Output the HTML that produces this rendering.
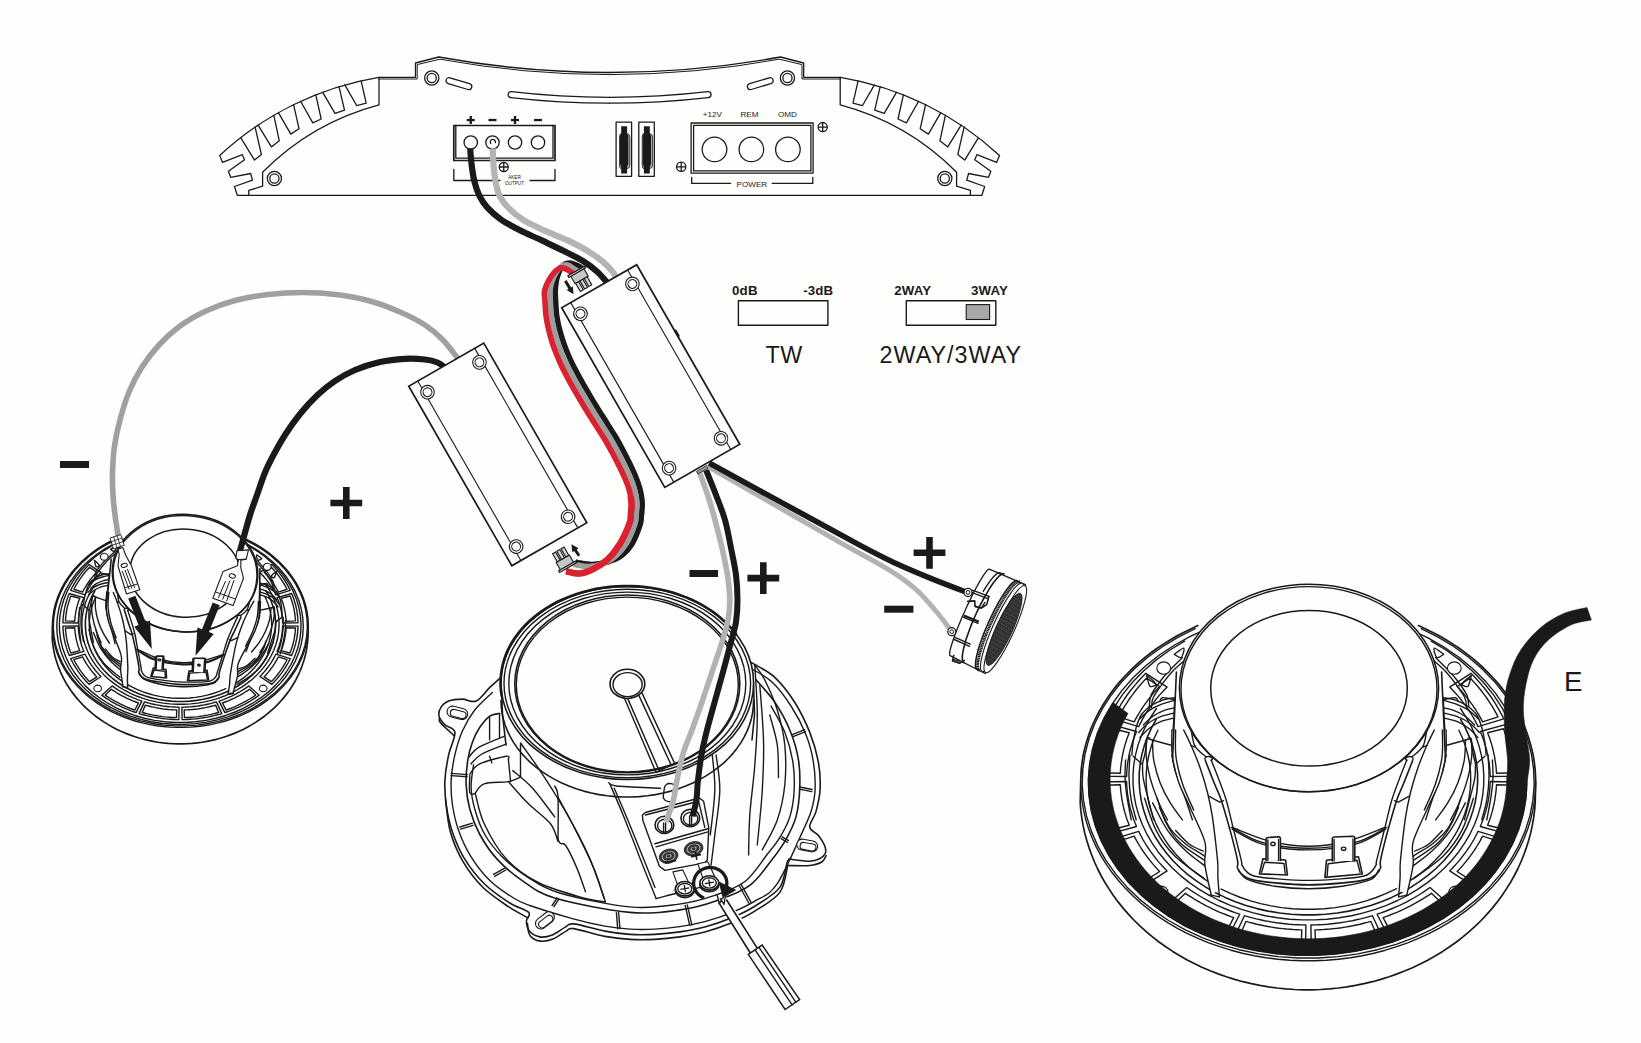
<!DOCTYPE html>
<html lang="en"><head><meta charset="utf-8"><title>Speaker wiring diagram</title>
<style>
html,body{margin:0;padding:0;background:#fefefd;}
body{width:1641px;height:1043px;overflow:hidden;font-family:"Liberation Sans",sans-serif;}
svg{display:block;position:absolute;left:0;top:0;}
svg text{font-family:"Liberation Sans",sans-serif;fill:#1a1a1a;}
.k{stroke:#1a1a1a;fill:none;stroke-width:1.6;stroke-linejoin:round;stroke-linecap:round;}
.kw{stroke:#1a1a1a;fill:#fefefd;stroke-width:1.2;stroke-linejoin:round;}
.k2{stroke:#1a1a1a;fill:none;stroke-width:1.7;stroke-linejoin:round;stroke-linecap:round;}
.kf{stroke:#1a1a1a;fill:#fefefd;stroke-width:1.6;stroke-linejoin:round;stroke-linecap:round;}
.t{stroke:#1a1a1a;fill:none;stroke-width:1.4;stroke-linejoin:round;stroke-linecap:round;}
#spkL path,#spkL ellipse{vector-effect:non-scaling-stroke;}
#amp .k{stroke-width:1.3;}#amp .k2{stroke-width:1.7;}#amp .t{stroke-width:1.0;}#labels .k{stroke-width:1.4;}#boxes .k{stroke-width:1.1;}
</style></head><body>
<svg width="1641" height="1043" viewBox="0 0 1641 1043">
<rect x="0" y="0" width="1641" height="1043" fill="#fefefd"/>
<g id="amp">
<g id="ampL"><path class="k" d="M609.6,72.5 Q524,72.5 438.75,57 L415.5,63 L415.5,77.3 L378.7,77.3 A307.8,307.8 0 0 0 219.7,155.5 L222.6,162.4 L242.2,154.6 L244.5,159.7 L228.4,171.2 L230.7,177.3 L250.6,173.5 L252.5,180.1 L234.5,186.5 L237.3,195.3 L609.6,195.3"/>
<path class="t" d="M609.6,74.6 Q524,74.6 440,59.2 L417.2,64.6 L417.2,79 L379,79"/>
<path class="k" d="M379,77.3 L379,104.9 A256.0,256.0 0 0 0 262.6,172.3 L262.6,186.2 L248.8,190.4 L248.8,195.3"/>
<path class="k" d="M240.7,137.7 L254.5,160.1 L261.4,154.6 L255.1,127.2"/>
<path class="k" d="M258.1,125.1 L271.4,146.9 L279.3,140.8 L273.8,115.3"/>
<path class="k" d="M278.4,112.6 L290.8,134.1 L299.0,128.7 L293.6,104.6"/>
<path class="k" d="M300.6,101.3 L312.8,122.9 L321.2,119.0 L315.8,94.8"/>
<path class="k" d="M322.6,92.2 L335.0,113.4 L344.5,110.1 L339.0,86.7"/>
<path class="k" d="M344.8,84.9 L356.8,105.7 L366.2,103.2 L361.1,80.8"/>
<circle class="k" cx="274.4" cy="178.5" r="7.1"/><circle class="k" cx="274.4" cy="178.5" r="4.6"/>
<circle class="k" cx="431.75" cy="78" r="7.1"/><circle class="k" cx="431.75" cy="78" r="4.6"/>
<path class="k" d="M449.9,77.8 L469.6,83.7 A3,3 0 0 1 467.9,89.5 L448.2,83.6 A3,3 0 0 1 449.9,77.8 Z"/>
<path class="k" d="M609.6,97.3 Q560,97.3 511.5,91.6 A3,3 0 0 0 510.8,97.6 Q560,103.2 609.6,103.2"/></g>
<g transform="translate(1219.2,0) scale(-1,1)"><path class="k" d="M609.6,72.5 Q524,72.5 438.75,57 L415.5,63 L415.5,77.3 L378.7,77.3 A307.8,307.8 0 0 0 219.7,155.5 L222.6,162.4 L242.2,154.6 L244.5,159.7 L228.4,171.2 L230.7,177.3 L250.6,173.5 L252.5,180.1 L234.5,186.5 L237.3,195.3 L609.6,195.3"/>
<path class="t" d="M609.6,74.6 Q524,74.6 440,59.2 L417.2,64.6 L417.2,79 L379,79"/>
<path class="k" d="M379,77.3 L379,104.9 A256.0,256.0 0 0 0 262.6,172.3 L262.6,186.2 L248.8,190.4 L248.8,195.3"/>
<path class="k" d="M240.7,137.7 L254.5,160.1 L261.4,154.6 L255.1,127.2"/>
<path class="k" d="M258.1,125.1 L271.4,146.9 L279.3,140.8 L273.8,115.3"/>
<path class="k" d="M278.4,112.6 L290.8,134.1 L299.0,128.7 L293.6,104.6"/>
<path class="k" d="M300.6,101.3 L312.8,122.9 L321.2,119.0 L315.8,94.8"/>
<path class="k" d="M322.6,92.2 L335.0,113.4 L344.5,110.1 L339.0,86.7"/>
<path class="k" d="M344.8,84.9 L356.8,105.7 L366.2,103.2 L361.1,80.8"/>
<circle class="k" cx="274.4" cy="178.5" r="7.1"/><circle class="k" cx="274.4" cy="178.5" r="4.6"/>
<circle class="k" cx="431.75" cy="78" r="7.1"/><circle class="k" cx="431.75" cy="78" r="4.6"/>
<path class="k" d="M449.9,77.8 L469.6,83.7 A3,3 0 0 1 467.9,89.5 L448.2,83.6 A3,3 0 0 1 449.9,77.8 Z"/>
<path class="k" d="M609.6,97.3 Q560,97.3 511.5,91.6 A3,3 0 0 0 510.8,97.6 Q560,103.2 609.6,103.2"/></g>
<rect class="k2" x="453.8" y="125.5" width="101.2" height="35"/>
<path class="k" d="M455.8,125.5 L455.8,158.2 L553,158.2 L553,125.5"/>
<circle class="k" cx="470.75" cy="142.5" r="6.7"/>
<circle class="k" cx="492.5" cy="142.5" r="6.7"/>
<circle class="k" cx="515" cy="142.5" r="6.7"/>
<circle class="k" cx="538" cy="142.5" r="6.7"/>
<path class="k" d="M490.8,143.6 A2.6,2.6 0 1 1 495.4,142.6"/>
<rect x="466.75" y="118.9" width="8" height="2.3" fill="#1a1a1a"/>
<rect x="469.6" y="116" width="2.3" height="8" fill="#1a1a1a"/>
<rect x="488.5" y="118.9" width="8" height="2.3" fill="#1a1a1a"/>
<rect x="511" y="118.9" width="8" height="2.3" fill="#1a1a1a"/>
<rect x="513.85" y="116" width="2.3" height="8" fill="#1a1a1a"/>
<rect x="534" y="118.9" width="8" height="2.3" fill="#1a1a1a"/>
<g stroke="#1a1a1a" stroke-width="1.3" fill="none"><circle cx="503.75" cy="167" r="4.5"/><path d="M499.25,167 H508.25 M503.75,162.5 V171.5"/></g>
<path class="k" d="M453.8,169.5 V180.5 H500 M530,180.5 H555 V169.5"/>
<text x="514.5" y="179.4" font-size="4.6" text-anchor="middle">AKER</text>
<text x="514.5" y="184.8" font-size="4.6" text-anchor="middle">OUTPUT</text>
<rect class="k" x="616.1" y="122.2" width="15.5" height="54.1"/>
<path d="M621.3000000000001,133.6 h5 q3.6,0 3.6,3.6 v27.9 q0,3.6 -3.6,3.6 h-5 q-1.8,0 -1.8,-3.6 v-27.9 q0,-3.6 1.8,-3.6 z" fill="#a8a8a8" stroke="#1a1a1a" stroke-width="0.8"/>
<path d="M621.2,126.3 h5.9 v7 l1.2,3 v27.5 l-1.2,3 v6.8 h-5.9 v-6.8 l-1.2,-3 v-27.5 l1.2,-3 z" fill="#1a1a1a"/>
<rect class="k" x="638.8" y="122.2" width="15.5" height="54.1"/>
<path d="M644.0,133.6 h5 q3.6,0 3.6,3.6 v27.9 q0,3.6 -3.6,3.6 h-5 q-1.8,0 -1.8,-3.6 v-27.9 q0,-3.6 1.8,-3.6 z" fill="#a8a8a8" stroke="#1a1a1a" stroke-width="0.8"/>
<path d="M643.9,126.3 h5.9 v7 l1.2,3 v27.5 l-1.2,3 v6.8 h-5.9 v-6.8 l-1.2,-3 v-27.5 l1.2,-3 z" fill="#1a1a1a"/>
<rect class="k" x="691.1" y="123" width="122" height="50.1"/>
<rect class="k" x="693.6" y="125.3" width="117.3" height="45.6"/>
<path d="M692.3,172 H812" stroke="#8a8a8a" stroke-width="1.2"/>
<circle class="k" cx="714.5" cy="149.4" r="12.3"/>
<circle class="k" cx="751.4" cy="149.4" r="12.3"/>
<circle class="k" cx="787.9" cy="149.4" r="12.3"/>
<text x="712.4" y="116.9" font-size="8.1" text-anchor="middle">+12V</text>
<text x="749.5" y="116.9" font-size="8.1" text-anchor="middle">REM</text>
<text x="787.4" y="116.9" font-size="8.1" text-anchor="middle">OMD</text>
<g stroke="#1a1a1a" stroke-width="1.3" fill="none"><circle cx="681.2" cy="166.8" r="4.6"/><path d="M676.6,166.8 H685.8000000000001 M681.2,162.20000000000002 V171.4"/></g>
<g stroke="#1a1a1a" stroke-width="1.3" fill="none"><circle cx="822.7" cy="127.1" r="4.6"/><path d="M818.1,127.1 H827.3000000000001 M822.7,122.5 V131.7"/></g>
<path class="k" d="M691.7,177.5 V183.4 H730.6 M772.3,183.4 H812.8 V177.5"/>
<text x="751.9" y="187.1" font-size="8.1" text-anchor="middle">POWER</text>
</g>
<g id="spkL" transform="translate(-554.86,183.17) scale(0.562,0.5665)">
<path d="M1197.9,625.6 L1190.7,628.9 L1183.6,632.4 L1176.7,636.1 L1170.0,640.0 L1163.4,644.1 L1157.1,648.3 L1151.0,652.8 L1145.0,657.4 L1139.3,662.2 L1133.8,667.2 L1128.6,672.3 L1123.6,677.5 L1118.8,682.9 L1114.3,688.4 L1110.1,694.1 L1106.1,699.9 L1102.4,705.8 L1099.0,711.7 L1095.9,717.8 L1093.0,724.0 L1090.4,730.2 L1088.2,736.6 L1086.2,742.9 L1084.5,749.4 L1083.1,755.8 L1082.1,762.3 L1081.3,768.9 L1080.9,775.4 L1080.7,782.0 L1080.2,802.8 L1080.8,810.4 L1081.8,817.9 L1083.1,825.4 L1084.7,832.9 L1086.7,840.3 L1089.0,847.6 L1091.6,854.8 L1094.5,862.0 L1097.7,869.0 L1101.3,876.0 L1105.1,882.8 L1109.3,889.4 L1113.7,896.0 L1118.5,902.4 L1123.5,908.6 L1128.8,914.6 L1134.3,920.5 L1140.1,926.2 L1146.2,931.6 L1152.5,936.9 L1159.0,942.0 L1165.8,946.8 L1172.7,951.4 L1179.9,955.8 L1187.2,959.9 L1194.7,963.8 L1202.4,967.5 L1210.2,970.8 L1218.2,973.9 L1226.3,976.8 L1234.6,979.4 L1242.9,981.7 L1251.4,983.7 L1259.9,985.4 L1268.5,986.9 L1277.1,988.0 L1285.8,988.9 L1294.6,989.5 L1303.3,989.8 L1312.1,989.8 L1320.8,989.5 L1329.6,988.9 L1338.3,988.0 L1346.9,986.9 L1355.5,985.4 L1364.0,983.7 L1372.5,981.7 L1380.8,979.4 L1389.1,976.8 L1397.2,973.9 L1405.2,970.8 L1413.0,967.5 L1420.7,963.8 L1428.2,959.9 L1435.5,955.8 L1442.7,951.4 L1449.6,946.8 L1456.4,942.0 L1462.9,936.9 L1469.2,931.6 L1475.3,926.2 L1481.1,920.5 L1486.6,914.6 L1491.9,908.6 L1496.9,902.4 L1501.7,896.0 L1506.1,889.4 L1510.3,882.8 L1514.1,876.0 L1517.7,869.0 L1520.9,862.0 L1523.8,854.8 L1526.4,847.6 L1528.7,840.3 L1530.7,832.9 L1532.3,825.4 L1533.6,817.9 L1534.6,810.4 L1535.2,802.8 L1535.7,782.0 L1535.5,775.4 L1535.1,768.9 L1534.3,762.3 L1533.3,755.8 L1531.9,749.4 L1530.2,742.9 L1528.2,736.6 L1526.0,730.2 L1523.4,724.0 L1520.5,717.8 L1517.4,711.7 L1514.0,705.8 L1510.3,699.9 L1506.3,694.1 L1502.1,688.4 L1497.6,682.9 L1492.8,677.5 L1487.8,672.3 L1482.6,667.2 L1477.1,662.2 L1471.4,657.4 L1465.4,652.8 L1459.3,648.3 L1453.0,644.1 L1446.4,640.0 L1439.7,636.1 L1432.8,632.4 L1425.7,628.9 L1418.5,625.6 L1418.5,625.6 L1407.7,621.2 L1396.7,617.3 L1385.4,613.8 L1373.9,610.8 L1362.2,608.3 L1350.4,606.3 L1338.4,604.8 L1326.4,603.8 L1314.3,603.3 L1302.1,603.3 L1290.0,603.8 L1278.0,604.8 L1266.0,606.3 L1254.2,608.3 L1242.5,610.8 L1231.0,613.8 L1219.7,617.3 L1208.7,621.2 L1197.9,625.6Z" fill="#fefefd" stroke="none"/>
<path class="k2" d="M1197.9,625.6 L1190.7,628.9 L1183.6,632.4 L1176.7,636.1 L1170.0,640.0 L1163.4,644.1 L1157.1,648.3 L1151.0,652.8 L1145.0,657.4 L1139.3,662.2 L1133.8,667.2 L1128.6,672.3 L1123.6,677.5 L1118.8,682.9 L1114.3,688.4 L1110.1,694.1 L1106.1,699.9 L1102.4,705.8 L1099.0,711.7 L1095.9,717.8 L1093.0,724.0 L1090.4,730.2 L1088.2,736.6 L1086.2,742.9 L1084.5,749.4 L1083.1,755.8 L1082.1,762.3 L1081.3,768.9 L1080.9,775.4 L1080.7,782.0 L1080.2,802.8 L1080.8,810.4 L1081.8,817.9 L1083.1,825.4 L1084.7,832.9 L1086.7,840.3 L1089.0,847.6 L1091.6,854.8 L1094.5,862.0 L1097.7,869.0 L1101.3,876.0 L1105.1,882.8 L1109.3,889.4 L1113.7,896.0 L1118.5,902.4 L1123.5,908.6 L1128.8,914.6 L1134.3,920.5 L1140.1,926.2 L1146.2,931.6 L1152.5,936.9 L1159.0,942.0 L1165.8,946.8 L1172.7,951.4 L1179.9,955.8 L1187.2,959.9 L1194.7,963.8 L1202.4,967.5 L1210.2,970.8 L1218.2,973.9 L1226.3,976.8 L1234.6,979.4 L1242.9,981.7 L1251.4,983.7 L1259.9,985.4 L1268.5,986.9 L1277.1,988.0 L1285.8,988.9 L1294.6,989.5 L1303.3,989.8 L1312.1,989.8 L1320.8,989.5 L1329.6,988.9 L1338.3,988.0 L1346.9,986.9 L1355.5,985.4 L1364.0,983.7 L1372.5,981.7 L1380.8,979.4 L1389.1,976.8 L1397.2,973.9 L1405.2,970.8 L1413.0,967.5 L1420.7,963.8 L1428.2,959.9 L1435.5,955.8 L1442.7,951.4 L1449.6,946.8 L1456.4,942.0 L1462.9,936.9 L1469.2,931.6 L1475.3,926.2 L1481.1,920.5 L1486.6,914.6 L1491.9,908.6 L1496.9,902.4 L1501.7,896.0 L1506.1,889.4 L1510.3,882.8 L1514.1,876.0 L1517.7,869.0 L1520.9,862.0 L1523.8,854.8 L1526.4,847.6 L1528.7,840.3 L1530.7,832.9 L1532.3,825.4 L1533.6,817.9 L1534.6,810.4 L1535.2,802.8 L1535.7,782.0 L1535.5,775.4 L1535.1,768.9 L1534.3,762.3 L1533.3,755.8 L1531.9,749.4 L1530.2,742.9 L1528.2,736.6 L1526.0,730.2 L1523.4,724.0 L1520.5,717.8 L1517.4,711.7 L1514.0,705.8 L1510.3,699.9 L1506.3,694.1 L1502.1,688.4 L1497.6,682.9 L1492.8,677.5 L1487.8,672.3 L1482.6,667.2 L1477.1,662.2 L1471.4,657.4 L1465.4,652.8 L1459.3,648.3 L1453.0,644.1 L1446.4,640.0 L1439.7,636.1 L1432.8,632.4 L1425.7,628.9 L1418.5,625.6" stroke-width="1.5"/>
<path class="t" d="M1535.7,782.0 L1535.4,791.5 L1534.4,801.0 L1532.8,810.4 L1530.6,819.8 L1527.7,829.0 L1524.2,838.2 L1520.1,847.1 L1515.4,855.9 L1510.1,864.4 L1504.2,872.8 L1497.8,880.8 L1490.8,888.6 L1483.3,896.1 L1475.4,903.3 L1466.9,910.1 L1458.0,916.6 L1448.7,922.6 L1439.0,928.3 L1428.9,933.6 L1418.4,938.4 L1407.7,942.8 L1396.7,946.7 L1385.4,950.2 L1373.9,953.2 L1362.2,955.7 L1350.4,957.7 L1338.4,959.2 L1326.4,960.2 L1314.3,960.7 L1302.1,960.7 L1290.0,960.2 L1278.0,959.2 L1266.0,957.7 L1254.2,955.7 L1242.5,953.2 L1231.0,950.2 L1219.7,946.7 L1208.7,942.8 L1198.0,938.4 L1187.5,933.6 L1177.4,928.3 L1167.7,922.6 L1158.4,916.6 L1149.5,910.1 L1141.0,903.3 L1133.1,896.1 L1125.6,888.6 L1118.6,880.8 L1112.2,872.8 L1106.3,864.4 L1101.0,855.9 L1096.3,847.1 L1092.2,838.2 L1088.7,829.0 L1085.8,819.8 L1083.6,810.4 L1082.0,801.0 L1081.0,791.5 L1080.7,782.0" />
<path class="t" d="M1421.2,628.7 L1438.1,637.1 L1454.0,646.7 L1468.7,657.3 L1482.2,668.9 L1494.3,681.4 L1504.9,694.7 L1514.0,708.6 L1521.5,723.2 L1527.3,738.2 L1531.3,753.5 L1533.6,769.1 L1534.2,784.7 L1532.9,800.4 L1529.9,815.9 L1525.1,831.1 L1518.7,845.9 L1510.6,860.2 L1500.8,873.9 L1489.6,886.9 L1477.0,899.1 L1463.0,910.3 L1447.8,920.5 L1431.5,929.6 L1414.2,937.6 L1396.1,944.3 L1377.3,949.7 L1357.9,953.9 L1338.2,956.6 L1318.2,958.0 L1298.2,958.0 L1278.2,956.6 L1258.5,953.9 L1239.1,949.7 L1220.3,944.3 L1202.2,937.6 L1184.9,929.6 L1168.6,920.5 L1153.4,910.3 L1139.4,899.1 L1126.8,886.9 L1115.6,873.9 L1105.8,860.2 L1097.7,845.9 L1091.3,831.1 L1086.5,815.9 L1083.5,800.4 L1082.2,784.7 L1082.8,769.1 L1085.1,753.5 L1089.1,738.2 L1094.9,723.2 L1102.4,708.6 L1111.5,694.7 L1122.1,681.4 L1134.2,668.9 L1147.7,657.3 L1162.4,646.7 L1178.3,637.1 L1195.2,628.7" />
<path class="t" d="M1410.6,629.8 L1427.6,637.7 L1443.6,646.8 L1458.6,657.0 L1472.3,668.3 L1484.7,680.4 L1495.6,693.4 L1505.0,707.2 L1512.8,721.5 L1519.0,736.3 L1523.4,751.6 L1526.0,767.0 L1526.9,782.6 L1526.0,798.2 L1523.3,813.6 L1518.9,828.9 L1512.7,843.7 L1504.9,858.0 L1495.5,871.7 L1484.5,884.7 L1472.1,896.9 L1458.4,908.1 L1443.4,918.3 L1427.4,927.4 L1410.3,935.3 L1392.5,942.0 L1373.9,947.4 L1354.8,951.4 L1335.3,954.1 L1315.6,955.4 L1295.8,955.2 L1276.1,953.7 L1256.7,950.8 L1237.7,946.5 L1219.2,940.8 L1201.5,933.9 L1184.6,925.8 L1168.8,916.4 L1154.1,906.0 L1140.6,894.6 L1128.4,882.3 L1117.8,869.1 L1108.7,855.3 L1101.2,840.9 L1095.3,825.9 L1091.2,810.7 L1088.9,795.2 L1088.3,779.6 L1089.6,764.0 L1092.6,748.6 L1097.3,733.4 L1103.8,718.7 L1111.9,704.5 L1121.6,690.9 L1132.8,678.0 L1145.5,666.0 L1159.4,655.0 L1174.6,645.0 L1190.8,636.1 L1208.0,628.4" />
<path class="t" d="M1431.2,641.1 L1445.9,650.0 L1459.5,659.9 L1472.0,670.7 L1483.3,682.3 L1493.3,694.6 L1501.9,707.6 L1509.2,721.1 L1514.9,735.0 L1519.1,749.3 L1521.8,763.8 L1522.9,778.4 L1522.4,793.1 L1520.3,807.7 L1516.7,822.0 L1511.5,836.1 L1504.9,849.8 L1496.7,862.9 L1487.2,875.5 L1476.4,887.4 L1464.4,898.5 L1451.1,908.7 L1436.9,918.0 L1421.7,926.3 L1405.6,933.5 L1388.9,939.6 L1371.5,944.5 L1353.7,948.3 L1335.5,950.8 L1317.1,952.0 L1298.7,952.0 L1280.3,950.8 L1262.1,948.3 L1244.3,944.5 L1226.9,939.6 L1210.2,933.5 L1194.1,926.3 L1178.9,918.0 L1164.7,908.7 L1151.4,898.5 L1139.4,887.4 L1128.6,875.5 L1119.1,862.9 L1110.9,849.8 L1104.3,836.1 L1099.1,822.0 L1095.5,807.7 L1093.4,793.1 L1092.9,778.4 L1094.0,763.8 L1096.7,749.3 L1100.9,735.0 L1106.6,721.1 L1113.9,707.6 L1122.5,694.6 L1132.5,682.3 L1143.8,670.7 L1156.3,659.9 L1169.9,650.0 L1184.6,641.1" />
<path class="t" d="M1471.0,673.3 L1473.7,676.0 L1476.3,678.8 L1478.9,681.7 L1481.4,684.6 L1483.8,687.5 L1486.2,690.5 L1488.5,693.5 L1490.7,696.5 L1492.8,699.6 L1494.8,702.7 L1496.7,705.9 L1498.6,709.1 L1500.4,712.3 L1502.1,715.5 L1503.7,718.8 L1478.1,726.7 L1476.7,723.8 L1475.2,721.0 L1473.7,718.2 L1472.1,715.5 L1470.4,712.7 L1468.6,710.0 L1466.8,707.3 L1464.9,704.7 L1462.9,702.1 L1460.9,699.5 L1458.8,696.9 L1456.6,694.4 L1454.4,692.0 L1452.1,689.5 L1449.7,687.1Z"/>
<path class="t" d="M1470.2,678.1 L1472.5,680.5 L1474.7,682.9 L1476.8,685.3 L1478.9,687.8 L1480.9,690.3 L1482.9,692.8 L1484.8,695.4 L1486.7,698.0 L1488.5,700.6 L1490.2,703.3 L1491.9,705.9 L1493.5,708.6 L1495.1,711.3 L1496.6,714.1 L1498.0,716.8 L1482.6,721.9 L1481.3,719.4 L1480.0,716.9 L1478.5,714.4 L1477.0,712.0 L1475.5,709.5 L1473.9,707.1 L1472.2,704.7 L1470.5,702.3 L1468.8,700.0 L1466.9,697.6 L1465.1,695.4 L1463.2,693.1 L1461.2,690.8 L1459.2,688.6 L1457.1,686.5Z"/>
<path class="t" d="M1506.2,724.3 L1507.6,727.6 L1508.9,731.0 L1510.1,734.4 L1511.2,737.8 L1512.2,741.2 L1513.2,744.6 L1514.0,748.1 L1514.8,751.6 L1515.5,755.0 L1516.0,758.5 L1516.5,762.0 L1516.9,765.5 L1517.2,769.0 L1517.4,772.6 L1517.6,776.1 L1490.2,776.5 L1490.1,773.4 L1489.9,770.3 L1489.6,767.3 L1489.3,764.2 L1488.8,761.2 L1488.3,758.2 L1487.8,755.2 L1487.1,752.1 L1486.4,749.1 L1485.5,746.2 L1484.6,743.2 L1483.7,740.2 L1482.6,737.3 L1481.5,734.4 L1480.3,731.5Z"/>
<path class="t" d="M1503.4,728.7 L1504.5,731.5 L1505.5,734.4 L1506.5,737.3 L1507.4,740.2 L1508.3,743.1 L1509.0,746.0 L1509.8,748.9 L1510.4,751.9 L1511.0,754.8 L1511.5,757.8 L1511.9,760.8 L1512.3,763.7 L1512.6,766.7 L1512.9,769.7 L1513.0,772.7 L1496.5,773.2 L1496.3,770.5 L1496.1,767.7 L1495.8,765.0 L1495.4,762.3 L1495.0,759.6 L1494.6,756.8 L1494.0,754.1 L1493.4,751.4 L1492.8,748.7 L1492.1,746.1 L1491.3,743.4 L1490.5,740.7 L1489.6,738.1 L1488.6,735.5 L1487.6,732.8Z"/>
<path class="t" d="M1517.6,781.9 L1517.4,785.4 L1517.2,789.0 L1516.9,792.5 L1516.5,796.0 L1516.0,799.5 L1515.5,803.0 L1514.8,806.4 L1514.0,809.9 L1513.2,813.4 L1512.2,816.8 L1511.2,820.2 L1510.1,823.6 L1508.9,827.0 L1507.6,830.4 L1506.2,833.7 L1480.3,826.5 L1481.5,823.6 L1482.6,820.7 L1483.7,817.8 L1484.6,814.8 L1485.5,811.8 L1486.4,808.9 L1487.1,805.9 L1487.8,802.8 L1488.3,799.8 L1488.8,796.8 L1489.3,793.8 L1489.6,790.7 L1489.9,787.7 L1490.1,784.6 L1490.2,781.5Z"/>
<path class="t" d="M1513.0,785.3 L1512.9,788.3 L1512.6,791.3 L1512.3,794.3 L1511.9,797.2 L1511.5,800.2 L1511.0,803.2 L1510.4,806.1 L1509.8,809.1 L1509.0,812.0 L1508.3,814.9 L1507.4,817.8 L1506.5,820.7 L1505.5,823.6 L1504.5,826.5 L1503.4,829.3 L1487.6,825.2 L1488.6,822.5 L1489.6,819.9 L1490.5,817.3 L1491.3,814.6 L1492.1,811.9 L1492.8,809.3 L1493.4,806.6 L1494.0,803.9 L1494.6,801.2 L1495.0,798.4 L1495.4,795.7 L1495.8,793.0 L1496.1,790.3 L1496.3,787.5 L1496.5,784.8Z"/>
<path class="t" d="M1503.7,839.2 L1502.1,842.5 L1500.4,845.7 L1498.6,848.9 L1496.7,852.1 L1494.8,855.3 L1492.8,858.4 L1490.7,861.5 L1488.5,864.5 L1486.2,867.5 L1483.8,870.5 L1481.4,873.4 L1478.9,876.3 L1476.3,879.2 L1473.7,882.0 L1471.0,884.7 L1449.7,870.9 L1452.1,868.5 L1454.4,866.0 L1456.6,863.6 L1458.8,861.1 L1460.9,858.5 L1462.9,855.9 L1464.9,853.3 L1466.8,850.7 L1468.6,848.0 L1470.4,845.3 L1472.1,842.5 L1473.7,839.8 L1475.2,837.0 L1476.7,834.2 L1478.1,831.3Z"/>
<path class="t" d="M1498.0,841.2 L1496.6,843.9 L1495.1,846.7 L1493.5,849.4 L1491.9,852.1 L1490.2,854.7 L1488.5,857.4 L1486.7,860.0 L1484.8,862.6 L1482.9,865.2 L1480.9,867.7 L1478.9,870.2 L1476.8,872.7 L1474.7,875.1 L1472.5,877.5 L1470.2,879.9 L1457.1,871.5 L1459.2,869.4 L1461.2,867.2 L1463.2,864.9 L1465.1,862.6 L1466.9,860.4 L1468.8,858.0 L1470.5,855.7 L1472.2,853.3 L1473.9,850.9 L1475.5,848.5 L1477.0,846.0 L1478.5,843.6 L1480.0,841.1 L1481.3,838.6 L1482.6,836.1Z"/>
<path class="t" d="M1448.4,903.8 L1444.8,906.4 L1441.1,908.9 L1437.3,911.3 L1433.5,913.7 L1429.6,915.9 L1425.6,918.1 L1421.6,920.3 L1417.5,922.3 L1413.4,924.3 L1409.2,926.2 L1404.9,928.0 L1400.6,929.8 L1396.3,931.5 L1391.9,933.0 L1387.4,934.5 L1377.1,914.2 L1381.0,912.9 L1384.8,911.5 L1388.6,910.0 L1392.3,908.5 L1396.0,906.9 L1399.6,905.3 L1403.2,903.6 L1406.8,901.8 L1410.3,899.9 L1413.7,898.0 L1417.1,896.0 L1420.4,894.0 L1423.7,891.9 L1426.9,889.7 L1430.0,887.5Z"/>
<path class="t" d="M1442.2,903.6 L1439.1,905.8 L1435.8,907.9 L1432.6,909.9 L1429.2,911.9 L1425.9,913.8 L1422.4,915.7 L1419.0,917.5 L1415.5,919.3 L1411.9,921.0 L1408.3,922.7 L1404.7,924.3 L1401.0,925.8 L1397.3,927.3 L1393.5,928.7 L1389.7,930.1 L1383.1,917.6 L1386.6,916.3 L1390.1,915.0 L1393.5,913.7 L1396.9,912.3 L1400.2,910.8 L1403.5,909.3 L1406.8,907.7 L1410.0,906.1 L1413.2,904.4 L1416.3,902.7 L1419.4,900.9 L1422.5,899.1 L1425.5,897.2 L1428.5,895.3 L1431.4,893.3Z"/>
<path class="t" d="M1382.0,936.3 L1377.5,937.6 L1372.9,938.8 L1368.3,940.0 L1363.7,941.0 L1359.0,942.0 L1354.3,942.9 L1349.6,943.7 L1344.9,944.4 L1340.1,945.1 L1335.3,945.6 L1330.6,946.1 L1325.8,946.4 L1321.0,946.7 L1316.1,946.9 L1311.3,947.0 L1310.9,925.0 L1315.1,924.9 L1319.3,924.7 L1323.5,924.5 L1327.7,924.2 L1331.8,923.8 L1336.0,923.3 L1340.1,922.8 L1344.2,922.1 L1348.3,921.4 L1352.4,920.7 L1356.4,919.8 L1360.5,918.9 L1364.5,917.9 L1368.4,916.8 L1372.4,915.7Z"/>
<path class="t" d="M1376.4,934.3 L1372.5,935.3 L1368.6,936.3 L1364.6,937.3 L1360.6,938.2 L1356.6,939.0 L1352.5,939.7 L1348.5,940.4 L1344.4,941.0 L1340.3,941.6 L1336.2,942.1 L1332.1,942.5 L1328.0,942.8 L1323.8,943.1 L1319.7,943.3 L1315.5,943.5 L1315.0,929.9 L1318.8,929.8 L1322.6,929.6 L1326.4,929.3 L1330.2,929.0 L1333.9,928.6 L1337.7,928.2 L1341.5,927.7 L1345.2,927.1 L1348.9,926.5 L1352.7,925.8 L1356.3,925.0 L1360.0,924.2 L1363.7,923.3 L1367.3,922.4 L1370.9,921.4Z"/>
<path class="t" d="M1305.5,947.0 L1300.7,946.9 L1295.8,946.7 L1291.0,946.4 L1286.2,946.1 L1281.5,945.6 L1276.7,945.1 L1271.9,944.4 L1267.2,943.7 L1262.5,942.9 L1257.8,942.0 L1253.1,941.0 L1248.5,940.0 L1243.9,938.8 L1239.3,937.6 L1234.8,936.3 L1244.4,915.7 L1248.4,916.8 L1252.3,917.9 L1256.3,918.9 L1260.4,919.8 L1264.4,920.7 L1268.5,921.4 L1272.6,922.1 L1276.7,922.8 L1280.8,923.3 L1285.0,923.8 L1289.1,924.2 L1293.3,924.5 L1297.5,924.7 L1301.7,924.9 L1305.9,925.0Z"/>
<path class="t" d="M1301.3,943.5 L1297.1,943.3 L1293.0,943.1 L1288.8,942.8 L1284.7,942.5 L1280.6,942.1 L1276.5,941.6 L1272.4,941.0 L1268.3,940.4 L1264.3,939.7 L1260.2,939.0 L1256.2,938.2 L1252.2,937.3 L1248.2,936.3 L1244.3,935.3 L1240.4,934.3 L1245.9,921.4 L1249.5,922.4 L1253.1,923.3 L1256.8,924.2 L1260.5,925.0 L1264.1,925.8 L1267.9,926.5 L1271.6,927.1 L1275.3,927.7 L1279.1,928.2 L1282.9,928.6 L1286.6,929.0 L1290.4,929.3 L1294.2,929.6 L1298.0,929.8 L1301.8,929.9Z"/>
<path class="t" d="M1229.4,934.5 L1224.9,933.0 L1220.5,931.5 L1216.2,929.8 L1211.9,928.0 L1207.6,926.2 L1203.4,924.3 L1199.3,922.3 L1195.2,920.3 L1191.2,918.1 L1187.2,915.9 L1183.3,913.7 L1179.5,911.3 L1175.7,908.9 L1172.0,906.4 L1168.4,903.8 L1186.8,887.5 L1189.9,889.7 L1193.1,891.9 L1196.4,894.0 L1199.7,896.0 L1203.1,898.0 L1206.5,899.9 L1210.0,901.8 L1213.6,903.6 L1217.2,905.3 L1220.8,906.9 L1224.5,908.5 L1228.2,910.0 L1232.0,911.5 L1235.8,912.9 L1239.7,914.2Z"/>
<path class="t" d="M1227.1,930.1 L1223.3,928.7 L1219.5,927.3 L1215.8,925.8 L1212.1,924.3 L1208.5,922.7 L1204.9,921.0 L1201.3,919.3 L1197.8,917.5 L1194.4,915.7 L1190.9,913.8 L1187.6,911.9 L1184.2,909.9 L1181.0,907.9 L1177.7,905.8 L1174.6,903.6 L1185.4,893.3 L1188.3,895.3 L1191.3,897.2 L1194.3,899.1 L1197.4,900.9 L1200.5,902.7 L1203.6,904.4 L1206.8,906.1 L1210.0,907.7 L1213.3,909.3 L1216.6,910.8 L1219.9,912.3 L1223.3,913.7 L1226.7,915.0 L1230.2,916.3 L1233.7,917.6Z"/>
<path class="t" d="M1145.8,884.7 L1143.1,882.0 L1140.5,879.2 L1137.9,876.3 L1135.4,873.4 L1133.0,870.5 L1130.6,867.5 L1128.3,864.5 L1126.1,861.5 L1124.0,858.4 L1122.0,855.3 L1120.1,852.1 L1118.2,848.9 L1116.4,845.7 L1114.7,842.5 L1113.1,839.2 L1138.7,831.3 L1140.1,834.2 L1141.6,837.0 L1143.1,839.8 L1144.7,842.5 L1146.4,845.3 L1148.2,848.0 L1150.0,850.7 L1151.9,853.3 L1153.9,855.9 L1155.9,858.5 L1158.0,861.1 L1160.2,863.6 L1162.4,866.0 L1164.7,868.5 L1167.1,870.9Z"/>
<path class="t" d="M1146.6,879.9 L1144.3,877.5 L1142.1,875.1 L1140.0,872.7 L1137.9,870.2 L1135.9,867.7 L1133.9,865.2 L1132.0,862.6 L1130.1,860.0 L1128.3,857.4 L1126.6,854.7 L1124.9,852.1 L1123.3,849.4 L1121.7,846.7 L1120.2,843.9 L1118.8,841.2 L1134.2,836.1 L1135.5,838.6 L1136.8,841.1 L1138.3,843.6 L1139.8,846.0 L1141.3,848.5 L1142.9,850.9 L1144.6,853.3 L1146.3,855.7 L1148.0,858.0 L1149.9,860.4 L1151.7,862.6 L1153.6,864.9 L1155.6,867.2 L1157.6,869.4 L1159.7,871.5Z"/>
<path class="t" d="M1110.6,833.7 L1109.2,830.4 L1107.9,827.0 L1106.7,823.6 L1105.6,820.2 L1104.6,816.8 L1103.6,813.4 L1102.8,809.9 L1102.0,806.4 L1101.3,803.0 L1100.8,799.5 L1100.3,796.0 L1099.9,792.5 L1099.6,789.0 L1099.4,785.4 L1099.2,781.9 L1126.6,781.5 L1126.7,784.6 L1126.9,787.7 L1127.2,790.7 L1127.5,793.8 L1128.0,796.8 L1128.5,799.8 L1129.0,802.8 L1129.7,805.9 L1130.4,808.9 L1131.3,811.8 L1132.2,814.8 L1133.1,817.8 L1134.2,820.7 L1135.3,823.6 L1136.5,826.5Z"/>
<path class="t" d="M1113.4,829.3 L1112.3,826.5 L1111.3,823.6 L1110.3,820.7 L1109.4,817.8 L1108.5,814.9 L1107.8,812.0 L1107.0,809.1 L1106.4,806.1 L1105.8,803.2 L1105.3,800.2 L1104.9,797.2 L1104.5,794.3 L1104.2,791.3 L1103.9,788.3 L1103.8,785.3 L1120.3,784.8 L1120.5,787.5 L1120.7,790.3 L1121.0,793.0 L1121.4,795.7 L1121.8,798.4 L1122.2,801.2 L1122.8,803.9 L1123.4,806.6 L1124.0,809.3 L1124.7,811.9 L1125.5,814.6 L1126.3,817.3 L1127.2,819.9 L1128.2,822.5 L1129.2,825.2Z"/>
<path class="t" d="M1099.2,776.1 L1099.4,772.6 L1099.6,769.0 L1099.9,765.5 L1100.3,762.0 L1100.8,758.5 L1101.3,755.0 L1102.0,751.6 L1102.8,748.1 L1103.6,744.6 L1104.6,741.2 L1105.6,737.8 L1106.7,734.4 L1107.9,731.0 L1109.2,727.6 L1110.6,724.3 L1136.5,731.5 L1135.3,734.4 L1134.2,737.3 L1133.1,740.2 L1132.2,743.2 L1131.3,746.2 L1130.4,749.1 L1129.7,752.1 L1129.0,755.2 L1128.5,758.2 L1128.0,761.2 L1127.5,764.2 L1127.2,767.3 L1126.9,770.3 L1126.7,773.4 L1126.6,776.5Z"/>
<path class="t" d="M1103.8,772.7 L1103.9,769.7 L1104.2,766.7 L1104.5,763.7 L1104.9,760.8 L1105.3,757.8 L1105.8,754.8 L1106.4,751.9 L1107.0,748.9 L1107.8,746.0 L1108.5,743.1 L1109.4,740.2 L1110.3,737.3 L1111.3,734.4 L1112.3,731.5 L1113.4,728.7 L1129.2,732.8 L1128.2,735.5 L1127.2,738.1 L1126.3,740.7 L1125.5,743.4 L1124.7,746.1 L1124.0,748.7 L1123.4,751.4 L1122.8,754.1 L1122.2,756.8 L1121.8,759.6 L1121.4,762.3 L1121.0,765.0 L1120.7,767.7 L1120.5,770.5 L1120.3,773.2Z"/>
<path class="t" d="M1113.1,718.8 L1114.7,715.5 L1116.4,712.3 L1118.2,709.1 L1120.1,705.9 L1122.0,702.7 L1124.0,699.6 L1126.1,696.5 L1128.3,693.5 L1130.6,690.5 L1133.0,687.5 L1135.4,684.6 L1137.9,681.7 L1140.5,678.8 L1143.1,676.0 L1145.8,673.3 L1167.1,687.1 L1164.7,689.5 L1162.4,692.0 L1160.2,694.4 L1158.0,696.9 L1155.9,699.5 L1153.9,702.1 L1151.9,704.7 L1150.0,707.3 L1148.2,710.0 L1146.4,712.7 L1144.7,715.5 L1143.1,718.2 L1141.6,721.0 L1140.1,723.8 L1138.7,726.7Z"/>
<path class="t" d="M1118.8,716.8 L1120.2,714.1 L1121.7,711.3 L1123.3,708.6 L1124.9,705.9 L1126.6,703.3 L1128.3,700.6 L1130.1,698.0 L1132.0,695.4 L1133.9,692.8 L1135.9,690.3 L1137.9,687.8 L1140.0,685.3 L1142.1,682.9 L1144.3,680.5 L1146.6,678.1 L1159.7,686.5 L1157.6,688.6 L1155.6,690.8 L1153.6,693.1 L1151.7,695.4 L1149.9,697.6 L1148.0,700.0 L1146.3,702.3 L1144.6,704.7 L1142.9,707.1 L1141.3,709.5 L1139.8,712.0 L1138.3,714.4 L1136.8,716.9 L1135.5,719.4 L1134.2,721.9Z"/>
<path class="t" d="M1460.4,708.5 L1466.2,717.3 L1471.3,726.5 L1475.5,735.9 L1478.9,745.5 L1481.4,755.3 L1483.1,765.3 L1483.8,775.2 L1483.7,785.3 L1482.7,795.2 L1480.9,805.1 L1478.1,814.9 L1474.5,824.5 L1470.1,833.8 L1464.8,842.9 L1458.8,851.7 L1452.0,860.0 L1444.5,868.0 L1436.3,875.6 L1427.4,882.6 L1418.0,889.1 L1408.0,895.1 L1397.5,900.5 L1386.5,905.3 L1375.2,909.4 L1363.5,912.9 L1351.6,915.7 L1339.4,917.8 L1327.1,919.2 L1314.6,919.9 L1302.2,919.9 L1289.7,919.2 L1277.4,917.8 L1265.2,915.7 L1253.3,912.9 L1241.6,909.4 L1230.3,905.3 L1219.3,900.5 L1208.8,895.1 L1198.8,889.1 L1189.4,882.6 L1180.5,875.6 L1172.3,868.0 L1164.8,860.0 L1158.0,851.7 L1152.0,842.9 L1146.7,833.8 L1142.3,824.5 L1138.7,814.9 L1135.9,805.1 L1134.1,795.2 L1133.1,785.3 L1133.0,775.2 L1133.7,765.3 L1135.4,755.3 L1137.9,745.5 L1141.3,735.9 L1145.5,726.5 L1150.6,717.3 L1156.4,708.5" />
<path class="k" d="M1460.6,719.4 L1465.3,727.9 L1469.3,736.7 L1472.5,745.6 L1475.0,754.8 L1476.7,764.0 L1477.6,773.3 L1477.6,782.6 L1476.9,791.9 L1475.4,801.2 L1473.1,810.3 L1470.1,819.3 L1466.3,828.2 L1461.7,836.7 L1456.4,845.0 L1450.4,853.0 L1443.8,860.7 L1436.5,868.0 L1428.6,874.8 L1420.1,881.2 L1411.1,887.1 L1401.7,892.5 L1391.7,897.4 L1381.4,901.7 L1370.8,905.4 L1359.9,908.6 L1348.7,911.1 L1337.3,913.0 L1325.8,914.3 L1314.2,914.9 L1302.6,914.9 L1291.0,914.3 L1279.5,913.0 L1268.1,911.1 L1256.9,908.6 L1246.0,905.4 L1235.4,901.7 L1225.1,897.4 L1215.1,892.5 L1205.7,887.1 L1196.7,881.2 L1188.2,874.8 L1180.3,868.0 L1173.0,860.7 L1166.4,853.0 L1160.4,845.0 L1155.1,836.7 L1150.5,828.2 L1146.7,819.3 L1143.7,810.3 L1141.4,801.2 L1139.9,791.9 L1139.2,782.6 L1139.2,773.3 L1140.1,764.0 L1141.8,754.8 L1144.3,745.6 L1147.5,736.7 L1151.5,727.9 L1156.2,719.4" />
<path class="t" d="M1458.9,730.2 L1462.6,738.3 L1465.6,746.6 L1467.9,755.0 L1469.6,763.5 L1470.5,772.1 L1470.7,780.8 L1470.2,789.4 L1469.0,798.0 L1467.1,806.5 L1464.4,814.9 L1461.1,823.1 L1457.2,831.1 L1452.5,838.9 L1447.3,846.5 L1441.4,853.7 L1435.0,860.6 L1428.0,867.2 L1420.5,873.3 L1412.4,879.1 L1404.0,884.4 L1395.1,889.3 L1385.8,893.6 L1376.2,897.5 L1366.2,900.8 L1356.1,903.6 L1345.7,905.9 L1335.2,907.6 L1324.5,908.8 L1313.8,909.3 L1303.0,909.3 L1292.3,908.8 L1281.6,907.6 L1271.1,905.9 L1260.7,903.6 L1250.6,900.8 L1240.6,897.5 L1231.0,893.6 L1221.7,889.3 L1212.8,884.4 L1204.4,879.1 L1196.3,873.3 L1188.8,867.2 L1181.8,860.6 L1175.4,853.7 L1169.5,846.5 L1164.3,838.9 L1159.6,831.1 L1155.7,823.1 L1152.4,814.9 L1149.7,806.5 L1147.8,798.0 L1146.6,789.4 L1146.1,780.8 L1146.3,772.1 L1147.2,763.5 L1148.9,755.0 L1151.2,746.6 L1154.2,738.3 L1157.9,730.2" />
<ellipse cx="1455.7" cy="891.9" rx="6.8" ry="5.8" fill="#fefefd" stroke="#1a1a1a" stroke-width="1.1"/>
<ellipse cx="1161.1" cy="891.9" rx="6.8" ry="5.8" fill="#fefefd" stroke="#1a1a1a" stroke-width="1.1"/>
<g transform="rotate(3.5 1309 812)">
<path class="t" d="M1182.4,657.5 C1180.4,659.5 1173.5,666.2 1169.9,670.0 C1166.4,673.7 1164.3,675.8 1161.2,680.0 C1158.1,684.1 1153.2,690.6 1151.2,694.9 C1149.2,699.3 1149.6,704.3 1149.3,706.2" />
<path class="t" d="M1435.6,657.5 C1437.6,659.5 1444.5,666.2 1448.1,670.0 C1451.6,673.7 1453.7,675.8 1456.8,680.0 C1459.9,684.1 1464.8,690.6 1466.8,694.9 C1468.8,699.3 1468.4,704.3 1468.7,706.2" />
<path class="t" d="M1184.7,660.2 C1182.6,662.1 1176.0,667.7 1172.4,671.5 C1168.9,675.2 1166.4,678.3 1163.2,682.7 C1160.0,687.1 1155.2,693.5 1153.2,697.7 C1151.2,701.9 1151.7,706.0 1151.5,707.7" />
<path class="t" d="M1433.3,660.2 C1435.4,662.1 1442.0,667.7 1445.6,671.5 C1449.1,675.2 1451.6,678.3 1454.8,682.7 C1458.0,687.1 1462.8,693.5 1464.8,697.7 C1466.8,701.9 1466.3,706.0 1466.5,707.7" />
<path class="t" d="M1149.7,706.4 C1151.8,705.4 1158.2,701.6 1162.4,700.2 C1166.7,698.7 1172.9,698.1 1174.9,697.7" />
<path class="t" d="M1468.3,706.4 C1466.2,705.4 1459.8,701.6 1455.6,700.2 C1451.3,698.7 1445.1,698.1 1443.1,697.7" />
<path class="t" d="M1140.0,718.7 C1141.6,717.2 1146.2,712.4 1150.0,709.9 C1153.7,707.5 1158.3,705.6 1162.4,703.9 C1166.6,702.3 1172.9,700.8 1174.9,700.2" />
<path class="t" d="M1478.0,718.7 C1476.4,717.2 1471.8,712.4 1468.0,709.9 C1464.3,707.5 1459.7,705.6 1455.6,703.9 C1451.4,702.3 1445.1,700.8 1443.1,700.2" />
<path class="t" d="M1143.5,724.9 C1145.0,723.5 1149.1,718.9 1152.7,716.4 C1156.3,714.0 1161.2,711.6 1164.9,710.2 C1168.6,708.7 1173.3,708.1 1174.9,707.7" />
<path class="t" d="M1474.5,724.9 C1473.0,723.5 1468.9,718.9 1465.3,716.4 C1461.7,714.0 1456.8,711.6 1453.1,710.2 C1449.4,708.7 1444.7,708.1 1443.1,707.7" />
<path class="t" d="M1159.9,701.4 C1160.4,700.8 1160.2,698.0 1162.4,697.7 C1164.7,697.4 1171.8,699.1 1173.7,699.4" />
<path class="t" d="M1458.1,701.4 C1457.6,700.8 1457.8,698.0 1455.6,697.7 C1453.3,697.4 1446.2,699.1 1444.3,699.4" />
<path class="t" d="M1146.8,675.6 C1147.4,677.3 1148.4,684.6 1150.0,686.2 C1151.5,687.8 1155.2,685.2 1156.2,684.9" />
<path class="t" d="M1471.2,675.6 C1470.6,677.3 1469.6,684.6 1468.0,686.2 C1466.5,687.8 1462.8,685.2 1461.8,684.9" />
<path class="t" d="M1146.8,675.6 C1147.9,676.5 1151.9,679.4 1153.5,680.9 C1155.0,682.5 1155.7,684.3 1156.2,684.9" />
<path class="t" d="M1471.2,675.6 C1470.1,676.5 1466.1,679.4 1464.5,680.9 C1463.0,682.5 1462.3,684.3 1461.8,684.9" />
<path class="t" d="M1174.3,654.3 C1175.9,653.3 1182.5,647.6 1183.7,648.1 C1184.8,648.6 1182.7,656.4 1181.2,657.5 C1179.6,658.5 1175.5,654.9 1174.3,654.3" />
<path class="t" d="M1443.7,654.3 C1442.1,653.3 1435.5,647.6 1434.3,648.1 C1433.2,648.6 1435.3,656.4 1436.8,657.5 C1438.4,658.5 1442.5,654.9 1443.7,654.3" />
<path class="t" d="M1150.0,706.2 C1148.5,707.7 1143.5,711.4 1141.2,715.0 C1138.9,718.5 1137.6,722.9 1136.2,727.5 C1134.9,732.1 1133.8,737.9 1133.1,742.5 C1132.4,747.0 1132.1,752.9 1131.9,755.0" />
<path class="t" d="M1468.0,706.2 C1469.5,707.7 1474.5,711.4 1476.8,715.0 C1479.1,718.5 1480.4,722.9 1481.8,727.5 C1483.1,732.1 1484.2,737.9 1484.9,742.5 C1485.6,747.0 1485.9,752.9 1486.1,755.0" />
<path class="t" d="M1173.7,713.1 C1171.4,713.7 1164.3,715.1 1160.0,716.9 C1155.6,718.6 1151.0,721.1 1147.5,723.7 C1143.9,726.3 1140.2,731.0 1138.7,732.5" />
<path class="t" d="M1444.3,713.1 C1446.6,713.7 1453.7,715.1 1458.0,716.9 C1462.4,718.6 1467.0,721.1 1470.5,723.7 C1474.1,726.3 1477.8,731.0 1479.3,732.5" />
<path class="t" d="M1173.7,718.1 C1171.4,718.7 1164.1,720.1 1160.0,721.9 C1155.8,723.6 1152.1,726.1 1148.7,728.7 C1145.4,731.3 1141.4,736.0 1140.0,737.5" />
<path class="t" d="M1444.3,718.1 C1446.6,718.7 1453.9,720.1 1458.0,721.9 C1462.2,723.6 1465.9,726.1 1469.3,728.7 C1472.6,731.3 1476.6,736.0 1478.0,737.5" />
<path class="t" d="M1133.1,756.2 C1134.6,757.5 1140.4,762.5 1141.8,763.7" />
<path class="t" d="M1484.9,756.2 C1483.4,757.5 1477.6,762.5 1476.2,763.7" />
<path class="t" d="M1147.5,738.7 C1151.4,739.8 1167.2,744.1 1171.2,745.2" />
<path class="t" d="M1470.5,738.7 C1466.6,739.8 1450.8,744.1 1446.8,745.2" />
<path class="t" d="M1150.0,738.1 C1149.4,738.2 1147.6,736.6 1146.8,739.0 C1146.1,741.4 1146.0,748.3 1145.2,752.5 C1144.5,756.6 1142.9,761.8 1142.5,763.7" />
<path class="t" d="M1468.0,738.1 C1468.6,738.2 1470.4,736.6 1471.2,739.0 C1471.9,741.4 1472.0,748.3 1472.8,752.5 C1473.5,756.6 1475.1,761.8 1475.5,763.7" />
<path class="t" d="M1146.8,740.0 C1146.7,742.5 1145.7,748.7 1146.2,755.0 C1146.7,761.2 1147.9,769.5 1150.0,777.4 C1152.1,785.4 1155.8,795.4 1158.7,802.4 C1161.6,809.5 1166.0,817.0 1167.5,819.9" />
<path class="t" d="M1471.2,740.0 C1471.3,742.5 1472.3,748.7 1471.8,755.0 C1471.3,761.2 1470.1,769.5 1468.0,777.4 C1465.9,785.4 1462.2,795.4 1459.3,802.4 C1456.4,809.5 1452.0,817.0 1450.5,819.9" />
<path class="t" d="M1152.5,740.0 C1152.7,743.3 1152.5,752.9 1153.7,760.0 C1155.0,767.0 1157.3,775.4 1160.0,782.4 C1162.7,789.5 1166.2,796.2 1170.0,802.4 C1173.7,808.7 1180.4,817.0 1182.4,819.9" />
<path class="t" d="M1465.5,740.0 C1465.3,743.3 1465.5,752.9 1464.3,760.0 C1463.0,767.0 1460.7,775.4 1458.0,782.4 C1455.3,789.5 1451.8,796.2 1448.0,802.4 C1444.3,808.7 1437.6,817.0 1435.6,819.9" />
<path class="t" d="M1142.5,763.7 C1142.6,766.0 1142.3,772.0 1143.1,777.4 C1143.9,782.9 1145.7,789.1 1147.5,796.2 C1149.2,803.3 1152.7,816.0 1153.7,819.9" />
<path class="t" d="M1475.5,763.7 C1475.4,766.0 1475.7,772.0 1474.9,777.4 C1474.1,782.9 1472.3,789.1 1470.5,796.2 C1468.8,803.3 1465.3,816.0 1464.3,819.9" />
<path class="t" d="M1171.8,755.0 C1172.4,757.5 1173.2,764.1 1175.0,770.0 C1176.7,775.8 1179.5,781.6 1182.4,789.9 C1185.4,798.3 1190.8,814.9 1192.4,819.9" />
<path class="t" d="M1446.2,755.0 C1445.6,757.5 1444.8,764.1 1443.0,770.0 C1441.3,775.8 1438.5,781.6 1435.6,789.9 C1432.6,798.3 1427.2,814.9 1425.6,819.9" />
<path class="t" d="M1174.7,697.5 C1174.5,701.5 1174.2,713.3 1173.7,721.2 C1173.2,729.1 1172.1,739.1 1172.0,745.0 C1171.8,750.8 1172.8,754.3 1173.0,756.2" />
<path class="t" d="M1443.3,697.5 C1443.5,701.5 1443.8,713.3 1444.3,721.2 C1444.8,729.1 1445.9,739.1 1446.0,745.0 C1446.2,750.8 1445.2,754.3 1445.0,756.2" />
<path class="t" d="M1176.5,708.7 C1176.2,712.9 1175.4,725.6 1175.0,733.7 C1174.5,741.8 1173.9,753.5 1173.7,757.5" />
<path class="t" d="M1441.5,708.7 C1441.8,712.9 1442.6,725.6 1443.0,733.7 C1443.5,741.8 1444.1,753.5 1444.3,757.5" />
<path class="t" d="M1125.6,760.0 C1125.5,762.9 1124.8,771.4 1125.0,777.4 C1125.2,783.5 1125.8,789.1 1126.9,796.2 C1127.9,803.3 1130.5,816.0 1131.2,819.9" />
<path class="t" d="M1492.4,760.0 C1492.5,762.9 1493.2,771.4 1493.0,777.4 C1492.8,783.5 1492.2,789.1 1491.1,796.2 C1490.1,803.3 1487.5,816.0 1486.8,819.9" />
<path class="t" d="M1130.0,755.0 C1129.8,758.7 1128.8,770.0 1129.0,777.4 C1129.2,784.9 1130.0,792.9 1131.2,799.9 C1132.4,807.0 1135.4,816.6 1136.2,819.9" />
<path class="t" d="M1488.0,755.0 C1488.2,758.7 1489.2,770.0 1489.0,777.4 C1488.8,784.9 1488.0,792.9 1486.8,799.9 C1485.6,807.0 1482.6,816.6 1481.8,819.9" />
<path class="t" d="M1175.6,830.4 C1177.9,832.7 1184.8,840.8 1189.4,844.2 C1194.0,847.7 1201.0,850.0 1203.3,851.1" />
<path class="t" d="M1442.4,830.4 C1440.1,832.7 1433.2,840.8 1428.6,844.2 C1424.0,847.7 1417.0,850.0 1414.7,851.1" />
<path class="t" d="M1157.2,798.2 C1158.5,802.0 1161.6,813.9 1165.3,821.2 C1168.9,828.5 1172.6,835.4 1179.1,841.9 C1185.6,848.4 1200.2,857.3 1204.4,860.3" />
<path class="t" d="M1460.8,798.2 C1459.5,802.0 1456.4,813.9 1452.7,821.2 C1449.1,828.5 1445.4,835.4 1438.9,841.9 C1432.4,848.4 1417.8,857.3 1413.6,860.3" />
<path class="t" d="M1159.5,807.4 C1161.2,810.8 1165.5,821.9 1169.9,828.1 C1174.3,834.2 1179.8,839.2 1186.0,844.2 C1192.1,849.2 1202.5,853.4 1206.7,858.0 C1210.9,862.6 1210.5,869.5 1211.3,871.8" />
<path class="t" d="M1458.5,807.4 C1456.8,810.8 1452.5,821.9 1448.1,828.1 C1443.7,834.2 1438.2,839.2 1432.0,844.2 C1425.9,849.2 1415.5,853.4 1411.3,858.0 C1407.1,862.6 1407.5,869.5 1406.7,871.8" />
<path class="t" d="M1144.5,798.2 C1146.5,803.5 1151.1,820.8 1156.1,830.4 C1161.0,840.0 1166.4,847.7 1174.5,855.7 C1182.5,863.8 1199.4,874.9 1204.4,878.7" />
<path class="t" d="M1473.5,798.2 C1471.5,803.5 1466.9,820.8 1461.9,830.4 C1457.0,840.0 1451.6,847.7 1443.5,855.7 C1435.5,863.8 1418.6,874.9 1413.6,878.7" />
<path class="t" d="M1152.6,802.8 C1155.1,807.4 1162.0,822.3 1167.6,830.4 C1173.1,838.4 1179.5,845.0 1186.0,851.1 C1192.5,857.3 1203.3,864.5 1206.7,867.2" />
<path class="t" d="M1465.4,802.8 C1462.9,807.4 1456.0,822.3 1450.4,830.4 C1444.9,838.4 1438.5,845.0 1432.0,851.1 C1425.5,857.3 1414.7,864.5 1411.3,867.2" />
<ellipse cx="1163.7" cy="668.1" rx="6.9" ry="6.2" fill="#fefefd" stroke="#1a1a1a" stroke-width="1.1"/>
<ellipse cx="1454.3" cy="668.1" rx="6.9" ry="6.2" fill="#fefefd" stroke="#1a1a1a" stroke-width="1.1"/>
<path d="M1171.9,730.0 L1172.5,756.2 L1178.7,782.5 L1191.2,810.0 L1205.0,842.4 L1204.9,864.9 L1211.2,894.9 L1241.9,874.4 L1237.4,867.9 L1237.4,859.9 L1230.0,829.9 L1221.2,800.0 L1215.0,785.0 L1205.6,761.2Z" fill="#fefefd" stroke="none"/>
<path d="M1446.1,730.0 L1445.5,756.2 L1439.3,782.5 L1426.8,810.0 L1413.0,842.4 L1413.1,864.9 L1406.8,894.9 L1376.1,874.4 L1380.6,867.9 L1380.6,859.9 L1388.0,829.9 L1396.8,800.0 L1403.0,785.0 L1412.4,761.2Z" fill="#fefefd" stroke="none"/>
<path d="M1176.2,675 L1172.4,758 L1205,760 Q1309,830 1413,760 L1445.6,758 L1441.8,675 Z" fill="#fefefd" stroke="none"/>
<path d="M1205.6,761.2 C1207.2,765.2 1212.4,778.5 1215.0,785.0 C1217.6,791.4 1218.7,792.5 1221.2,800.0 C1223.7,807.5 1227.2,819.9 1230.0,829.9 C1232.7,839.9 1236.2,853.6 1237.4,859.9 C1238.7,866.3 1236.7,865.5 1237.4,867.9 C1238.1,870.4 1239.6,872.5 1241.9,874.4 C1244.2,876.3 1245.6,878.0 1251.1,879.4 C1256.6,880.8 1265.3,882.0 1274.9,882.9 C1284.5,883.8 1302.9,884.6 1308.6,884.9 C1314.4,885.3 1303.6,885.3 1309.4,884.9 C1315.1,884.6 1333.5,883.8 1343.1,882.9 C1352.7,882.0 1361.4,880.8 1366.9,879.4 C1372.4,878.0 1373.8,876.3 1376.1,874.4 C1378.4,872.5 1379.9,870.4 1380.6,867.9 C1381.3,865.5 1379.3,866.3 1380.6,859.9 C1381.8,853.6 1385.3,839.9 1388.0,829.9 C1390.8,819.9 1394.3,807.5 1396.8,800.0 C1399.3,792.5 1400.4,791.4 1403.0,785.0 C1405.6,778.5 1410.8,765.2 1412.4,761.2Z" fill="#fefefd" stroke="none"/>
<path class="t" d="M1231.2,827.4 C1236.4,829.9 1249.5,839.0 1262.4,842.4 C1275.4,845.9 1293.5,848.2 1309.0,848.2 C1324.5,848.2 1342.6,845.9 1355.6,842.4 C1368.5,839.0 1381.6,829.9 1386.8,827.4" />
<path class="t" d="M1232.4,829.3 C1237.4,831.8 1249.7,840.6 1262.4,844.1 C1275.2,847.5 1293.5,849.9 1309.0,849.9 C1324.5,849.9 1342.8,847.5 1355.6,844.1 C1368.3,840.6 1380.6,831.8 1385.6,829.3" />
<path class="t" d="M1183.7,730.0 C1185.0,732.6 1188.5,739.4 1191.2,745.6 C1193.9,751.9 1197.3,759.7 1200.0,767.5 C1202.7,775.3 1205.4,784.1 1207.5,792.5 C1209.5,800.8 1210.8,806.2 1212.5,817.4 C1214.1,828.7 1216.5,849.9 1217.5,859.9 C1218.4,869.9 1217.6,871.3 1217.9,877.4 C1218.2,883.6 1219.2,893.7 1219.4,896.9" />
<path class="t" d="M1171.9,730.0 C1172.0,734.4 1171.3,747.5 1172.5,756.2 C1173.6,765.0 1175.6,773.5 1178.7,782.5 C1181.9,791.4 1186.9,800.0 1191.2,810.0 C1195.6,819.9 1202.7,833.3 1205.0,842.4 C1207.2,851.6 1203.9,856.2 1204.9,864.9 C1206.0,873.7 1210.1,889.9 1211.2,894.9" />
<path class="t" d="M1175.6,730.0 C1175.7,734.5 1174.8,747.9 1176.0,756.9 C1177.1,765.8 1179.5,774.9 1182.5,783.7 C1185.4,792.6 1191.8,805.6 1193.7,810.0" />
<path class="t" d="M1191.2,730.0 C1191.8,732.7 1192.6,741.8 1195.0,746.2 C1197.4,750.7 1203.8,754.8 1205.6,756.5" />
<path class="t" d="M1191.2,745.6 L1195.2,747.1" />
<path class="t" d="M1208.7,796.2 L1219.7,802.2 L1223.5,800.7" />
<path class="t" d="M1205.6,761.2 C1205.5,760.7 1204.4,758.9 1205.0,758.1 C1205.5,757.3 1207.5,756.4 1208.7,756.5 C1210.0,756.5 1212.0,757.8 1212.5,758.5 C1212.9,759.2 1211.4,760.3 1211.2,760.6" />
<path class="t" d="M1209.9,894.9 L1219.4,896.9" />
<path class="t" d="M1434.3,730.0 C1433.0,732.6 1429.5,739.4 1426.8,745.6 C1424.1,751.9 1420.7,759.7 1418.0,767.5 C1415.3,775.3 1412.6,784.1 1410.5,792.5 C1408.5,800.8 1407.2,806.2 1405.5,817.4 C1403.9,828.7 1401.5,849.9 1400.5,859.9 C1399.6,869.9 1400.4,871.3 1400.1,877.4 C1399.8,883.6 1398.8,893.7 1398.6,896.9" />
<path class="t" d="M1446.1,730.0 C1446.0,734.4 1446.7,747.5 1445.5,756.2 C1444.4,765.0 1442.4,773.5 1439.3,782.5 C1436.1,791.4 1431.1,800.0 1426.8,810.0 C1422.4,819.9 1415.3,833.3 1413.0,842.4 C1410.8,851.6 1414.1,856.2 1413.1,864.9 C1412.0,873.7 1407.9,889.9 1406.8,894.9" />
<path class="t" d="M1442.4,730.0 C1442.3,734.5 1443.2,747.9 1442.0,756.9 C1440.9,765.8 1438.5,774.9 1435.5,783.7 C1432.6,792.6 1426.2,805.6 1424.3,810.0" />
<path class="t" d="M1426.8,730.0 C1426.2,732.7 1425.4,741.8 1423.0,746.2 C1420.6,750.7 1414.2,754.8 1412.4,756.5" />
<path class="t" d="M1426.8,745.6 L1422.8,747.1" />
<path class="t" d="M1409.3,796.2 L1398.3,802.2 L1394.5,800.7" />
<path class="t" d="M1412.4,761.2 C1412.5,760.7 1413.6,758.9 1413.0,758.1 C1412.5,757.3 1410.5,756.4 1409.3,756.5 C1408.0,756.5 1406.0,757.8 1405.5,758.5 C1405.1,759.2 1406.6,760.3 1406.8,760.6" />
<path class="t" d="M1408.1,894.9 L1398.6,896.9" />
<path class="k" d="M1205.6,761.2 C1207.2,765.2 1212.4,778.5 1215.0,785.0 C1217.6,791.4 1218.7,792.5 1221.2,800.0 C1223.7,807.5 1227.2,819.9 1230.0,829.9 C1232.7,839.9 1236.2,853.6 1237.4,859.9 C1238.7,866.3 1236.7,865.5 1237.4,867.9 C1238.1,870.4 1239.6,872.5 1241.9,874.4 C1244.2,876.3 1245.6,878.0 1251.1,879.4 C1256.6,880.8 1265.3,882.0 1274.9,882.9 C1284.5,883.8 1297.2,884.9 1308.6,884.9 C1320.0,884.9 1333.4,883.8 1343.1,882.9 C1352.8,882.0 1361.4,880.8 1366.9,879.4 C1372.4,878.0 1373.8,876.3 1376.1,874.4 C1378.4,872.5 1379.9,870.4 1380.6,867.9 C1381.3,865.5 1379.3,866.3 1380.6,859.9 C1381.8,853.6 1385.3,839.9 1388.0,829.9 C1390.8,819.9 1394.3,807.5 1396.8,800.0 C1399.3,792.5 1400.4,791.4 1403.0,785.0 C1405.6,778.5 1410.8,765.2 1412.4,761.2" />
<path class="t" d="M1211.2,760.0 C1212.7,763.7 1217.5,775.8 1220.0,782.5 C1222.5,789.1 1224.1,792.9 1226.2,800.0 C1228.3,807.0 1230.0,814.9 1232.4,824.9 C1234.9,834.9 1239.6,853.3 1241.2,859.9 C1242.8,866.6 1240.9,862.9 1241.9,864.9 C1242.9,867.0 1245.2,870.6 1247.4,872.4 C1249.6,874.3 1249.9,875.1 1254.9,876.2 C1259.9,877.3 1268.4,878.2 1277.4,878.9 C1286.3,879.6 1298.1,880.4 1308.6,880.4 C1319.2,880.4 1331.5,879.6 1340.6,878.9 C1349.7,878.2 1358.1,877.3 1363.1,876.2 C1368.1,875.1 1368.4,874.3 1370.6,872.4 C1372.8,870.6 1375.1,867.0 1376.1,864.9 C1377.1,862.9 1375.2,866.6 1376.8,859.9 C1378.4,853.3 1383.1,834.9 1385.6,824.9 C1388.0,814.9 1389.7,807.0 1391.8,800.0 C1393.9,792.9 1395.5,789.1 1398.0,782.5 C1400.5,775.8 1405.3,763.7 1406.8,760.0" />
<path class="t" d="M1238.7,869.9 C1240.1,871.5 1241.4,876.7 1247.4,879.4 C1253.4,882.1 1264.7,884.6 1274.9,886.2 C1285.1,887.7 1297.4,888.7 1308.6,888.7 C1319.9,888.7 1331.9,887.7 1342.3,886.2 C1352.8,884.6 1365.0,882.1 1371.1,879.4 C1377.1,876.7 1377.3,871.5 1378.6,869.9" />
<ellipse cx="1309" cy="688" rx="129.6" ry="103.7" fill="#fefefd" stroke="#1a1a1a" stroke-width="1.5"/>
<ellipse class="t" cx="1309" cy="689.2" rx="128" ry="102.6"/>
<ellipse cx="1309" cy="688.3" rx="98.3" ry="77.8" fill="#fefefd" stroke="#1a1a1a" stroke-width="1.5"/>
<path class="k" d="M1176.4,672.0 L1172.6,758.0" />
<path class="k" d="M1441.6,672.0 L1445.4,758.0" />
<path class="t" d="M1232.4,827.5 C1238.7,829.7 1257.2,838.1 1269.9,841.2 C1282.6,844.3 1295.7,846.2 1308.6,846.2 C1321.5,846.2 1334.6,844.3 1347.3,841.2 C1360.0,838.1 1378.6,829.7 1384.8,827.5" />
<path d="M1259.4,873.9 L1262.9,858.7 L1285.6,860 L1287.4,875 Z" class="kf"/>
<path class="t" d="M1261.6000000000001,872.4 L1264.5,862.2 L1284.0,863.5 L1285.2,873.5"/>
<path d="M1266.1,860.5 L1266.1,839.5 Q1266.1,837.5 1268.1,837.5 L1278.4,836.7 Q1280.4,836.7 1280.4,838.7 L1280.4,860.5" class="kf"/>
<path class="t" d="M1267.8999999999999,860.5 L1267.8999999999999,839.9 M1278.6000000000001,860.5 L1278.6000000000001,839.5"/>
<ellipse class="t" cx="1272.9" cy="843.9" rx="2.2" ry="1.6"/>
<path d="M1324.9,877.4 L1326.5,860.3 L1358.5,856.8 L1362.3,874 Z" class="kf"/>
<path class="t" d="M1327.1000000000001,875.9 L1328.1,863.8 L1356.9,860.3 L1360.1,872.5"/>
<path d="M1332.3,861 L1332.3,839 Q1332.3,837 1334.3,837 L1352.8,836.2 Q1354.8,836.2 1354.8,838.2 L1354.8,861" class="kf"/>
<path class="t" d="M1334.1,861 L1334.1,839.4 M1353.0,861 L1353.0,839"/>
<ellipse class="t" cx="1343.6" cy="848.7" rx="2.2" ry="1.6"/>
</g>
</g>
<g id="wiresA">
<path d="M492.6,148.5 C492.8,151.2 493.0,158.9 493.5,164.5 C494.0,170.1 494.6,176.6 495.6,181.8 C496.6,187.0 497.4,191.3 499.5,195.6 C501.6,199.9 504.3,203.6 508.2,207.6 C512.1,211.6 516.9,215.9 522.8,219.7 C528.7,223.4 536.0,226.6 543.5,230.1 C551.0,233.6 560.4,236.9 567.7,240.4 C575.0,243.9 581.8,247.4 587.5,250.8 C593.2,254.2 598.0,257.7 602.2,261.1 C606.4,264.6 610.0,268.5 612.5,271.5 C615.0,274.5 616.2,277.8 617.0,279.0" fill="none" stroke="#b4b4b4" stroke-width="6.2" stroke-linecap="butt" />
<path d="M470.2,148.5 C470.4,151.2 470.9,158.9 471.6,164.5 C472.3,170.1 473.2,176.6 474.5,181.8 C475.8,187.0 477.2,191.3 479.3,195.6 C481.4,199.9 483.8,203.6 487.4,207.6 C491.0,211.6 495.9,215.9 501.2,219.7 C506.5,223.4 512.6,226.6 519.4,230.1 C526.2,233.6 534.5,236.9 541.8,240.4 C549.1,243.9 556.5,247.4 563.4,250.8 C570.3,254.2 577.6,257.7 583.2,261.1 C588.8,264.6 593.0,267.9 597.0,271.5 C601.0,275.1 605.8,281.1 607.5,283.0" fill="none" stroke="#1a1a1a" stroke-width="6.2" stroke-linecap="butt" />
<path d="M457.5,358.0 C455.1,355.0 448.4,345.5 443.0,340.0 C437.6,334.5 432.2,329.7 425.0,325.0 C417.8,320.3 409.2,316.0 400.0,312.0 C390.8,308.0 380.7,303.9 370.0,301.0 C359.3,298.1 347.2,295.9 336.0,294.5 C324.8,293.1 313.8,292.5 302.5,292.5 C291.2,292.5 279.2,293.2 268.0,294.5 C256.8,295.8 245.3,297.8 235.0,300.5 C224.7,303.2 215.2,306.8 206.0,311.0 C196.8,315.2 187.8,320.3 180.0,326.0 C172.2,331.7 165.3,338.2 159.0,345.0 C152.7,351.8 147.0,359.2 142.0,367.0 C137.0,374.8 132.7,383.2 129.0,392.0 C125.3,400.8 122.4,411.0 120.0,420.0 C117.6,429.0 115.8,437.2 114.5,446.0 C113.2,454.8 112.8,464.3 112.5,472.5 C112.2,480.7 112.6,487.9 113.0,495.0 C113.4,502.1 114.1,507.8 115.0,515.0 C115.9,522.2 117.9,534.2 118.5,538.0" fill="none" stroke="#a0a0a0" stroke-width="5.6" stroke-linecap="butt" />
<path d="M445.5,368.0 C444.2,367.1 440.9,363.9 437.5,362.5 C434.1,361.1 430.4,360.1 425.0,359.5 C419.6,358.9 412.5,358.3 405.0,358.8 C397.5,359.2 388.3,360.1 380.0,362.0 C371.7,363.9 362.5,366.8 355.0,370.0 C347.5,373.2 341.2,376.8 335.0,381.0 C328.8,385.2 323.3,389.5 317.5,395.0 C311.7,400.5 305.4,407.3 300.0,414.0 C294.6,420.7 289.3,428.3 285.0,435.0 C280.7,441.7 277.3,447.8 274.0,454.0 C270.7,460.2 267.8,465.7 265.0,472.5 C262.2,479.3 259.5,487.9 257.0,495.0 C254.5,502.1 252.2,507.8 250.0,515.0 C247.8,522.2 245.2,531.8 243.5,538.0 C241.8,544.2 240.2,550.1 239.5,552.5" fill="none" stroke="#1a1a1a" stroke-width="6.2" stroke-linecap="butt" />
</g>
<g id="lconn">
<path d="M118.0,549.2 L122.9,547.6 L125.7,555.3 L131.5,566.0 L139.8,589.8 L126.5,594.0 L118.0,566.0 L119.2,554.5Z" fill="#fefefd" stroke="#1a1a1a" stroke-width="1.1" stroke-linejoin="round"/>
<path d="M122.3,571.4 L129.1,589.1" fill="none" stroke="#1a1a1a" stroke-width="1.0" stroke-linecap="round"/>
<path d="M127.5,569.4 L134.6,587.5" fill="none" stroke="#1a1a1a" stroke-width="1.0" stroke-linecap="round"/>
<path d="M125.1,570.3 L131.8,588.3" fill="none" stroke="#1a1a1a" stroke-width="1.0" stroke-linecap="round"/>
<path d="M125.7,587.5 L137.2,584.1" fill="none" stroke="#1a1a1a" stroke-width="1.0" stroke-linecap="round"/>
<ellipse cx="124.2" cy="565.4" rx="3.2" ry="2" transform="rotate(-15 124.2 565.4)" fill="#fefefd" stroke="#1a1a1a" stroke-width="1"/>
<path d="M110.0,538.1 L120.8,534.6 L124.2,545.3 L113.4,548.8Z" fill="#fefefd" stroke="#1a1a1a" stroke-width="0.9" stroke-linejoin="round"/>
<path d="M113.6,536.9 L117.0,547.7" fill="none" stroke="#1a1a1a" stroke-width="0.8" stroke-linecap="round"/>
<path d="M111.2,541.7 L121.9,538.1" fill="none" stroke="#1a1a1a" stroke-width="0.8" stroke-linecap="round"/>
<path d="M117.1,535.8 L120.5,546.5" fill="none" stroke="#1a1a1a" stroke-width="0.8" stroke-linecap="round"/>
<path d="M112.3,545.2 L123.0,541.7" fill="none" stroke="#1a1a1a" stroke-width="0.8" stroke-linecap="round"/>
<path d="M236.9,550.7 L248.5,549.9 L246.2,559.1 L240.8,560.2 L240.8,567.6 L243.5,578.3 L233.1,605.6 L212.9,598.3 L223.1,571.4 L237.4,565.7 L238.5,559.6 L235.9,558.4Z" fill="#fefefd" stroke="#1a1a1a" stroke-width="1.1" stroke-linejoin="round"/>
<path d="M225.4,581.4 L218.5,597.5" fill="none" stroke="#1a1a1a" stroke-width="1.0" stroke-linecap="round"/>
<path d="M233.9,580.6 L226.7,601.0" fill="none" stroke="#1a1a1a" stroke-width="1.0" stroke-linecap="round"/>
<path d="M229.7,581.1 L222.7,599.2" fill="none" stroke="#1a1a1a" stroke-width="1.0" stroke-linecap="round"/>
<path d="M215.9,592.1 L235.4,599.0" fill="none" stroke="#1a1a1a" stroke-width="1.0" stroke-linecap="round"/>
<path d="M238.5,559.6 L246.2,559.1" fill="none" stroke="#1a1a1a" stroke-width="1.0" stroke-linecap="round"/>
<ellipse cx="232.3" cy="576.0" rx="3.2" ry="2" transform="rotate(15 232.3 576.0)" fill="#fefefd" stroke="#1a1a1a" stroke-width="1"/>
<path d="M128.2,598.4 L138.5,625.1 L134.2,626.8 L151.8,648.9 L150.0,620.6 L145.7,622.3 L135.4,595.7Z" fill="#1a1a1a"/>
<path d="M212.7,602.5 L202.0,629.3 L197.4,627.5 L195.5,655.8 L213.7,634.0 L209.0,632.1 L219.7,605.3Z" fill="#1a1a1a"/>
</g>
<g id="boxes">
<g transform="translate(408.75,386.25) rotate(-29.86)">
<rect x="0" y="0" width="86.5" height="207" fill="#fefefd" stroke="#1a1a1a" stroke-width="1.7" stroke-linejoin="miter"/>
<path class="k" d="M10.4,0 V207 M76.1,0 V207" stroke-width="1.1"/>
<circle cx="13.3" cy="14.5" r="6.8" fill="#fefefd" stroke="#1a1a1a" stroke-width="1.1"/><circle cx="13.3" cy="14.5" r="4.4" fill="#fefefd" stroke="#1a1a1a" stroke-width="1.1"/>
<circle cx="13.3" cy="192.5" r="6.8" fill="#fefefd" stroke="#1a1a1a" stroke-width="1.1"/><circle cx="13.3" cy="192.5" r="4.4" fill="#fefefd" stroke="#1a1a1a" stroke-width="1.1"/>
<circle cx="73.2" cy="14.5" r="6.8" fill="#fefefd" stroke="#1a1a1a" stroke-width="1.1"/><circle cx="73.2" cy="14.5" r="4.4" fill="#fefefd" stroke="#1a1a1a" stroke-width="1.1"/>
<circle cx="73.2" cy="192.5" r="6.8" fill="#fefefd" stroke="#1a1a1a" stroke-width="1.1"/><circle cx="73.2" cy="192.5" r="4.4" fill="#fefefd" stroke="#1a1a1a" stroke-width="1.1"/>

</g>
<g transform="translate(561.7,307.8) rotate(-29.86)">
<rect x="0" y="0" width="86.5" height="207" fill="#fefefd" stroke="#1a1a1a" stroke-width="1.7" stroke-linejoin="miter"/>
<path class="k" d="M10.4,0 V207 M76.1,0 V207" stroke-width="1.1"/>
<circle cx="13.3" cy="14.5" r="6.8" fill="#fefefd" stroke="#1a1a1a" stroke-width="1.1"/><circle cx="13.3" cy="14.5" r="4.4" fill="#fefefd" stroke="#1a1a1a" stroke-width="1.1"/>
<circle cx="13.3" cy="192.5" r="6.8" fill="#fefefd" stroke="#1a1a1a" stroke-width="1.1"/><circle cx="13.3" cy="192.5" r="4.4" fill="#fefefd" stroke="#1a1a1a" stroke-width="1.1"/>
<circle cx="73.2" cy="14.5" r="6.8" fill="#fefefd" stroke="#1a1a1a" stroke-width="1.1"/><circle cx="73.2" cy="14.5" r="4.4" fill="#fefefd" stroke="#1a1a1a" stroke-width="1.1"/>
<circle cx="73.2" cy="192.5" r="6.8" fill="#fefefd" stroke="#1a1a1a" stroke-width="1.1"/><circle cx="73.2" cy="192.5" r="4.4" fill="#fefefd" stroke="#1a1a1a" stroke-width="1.1"/>
<path d="M87.3,75.5 V83.5" stroke="#1a1a1a" stroke-width="2.4"/>
</g>
</g>
<g id="mid">
<path d="M502.3,676.2 C500.2,678.1 494.2,683.3 489.8,687.4 C485.5,691.6 480.7,699.2 476.1,701.1 C471.5,703.1 467.0,699.1 462.4,699.1 C457.8,699.1 452.3,699.6 448.7,701.1 C445.0,702.6 442.0,705.5 440.5,708.1 C438.9,710.7 438.5,714.0 439.2,716.8 C440.0,719.6 442.3,722.2 445.0,724.8 C447.6,727.4 454.3,727.3 454.9,732.3 C455.5,737.3 450.4,746.8 448.7,754.7 C447.0,762.6 445.4,771.3 445.0,779.6 C444.5,787.9 445.0,795.8 446.2,804.5 C447.4,813.3 449.3,822.8 452.4,832.0 C455.5,841.1 459.5,850.7 464.9,859.4 C470.3,868.1 477.4,877.0 484.8,884.3 C492.3,891.6 502.4,898.3 509.8,903.0 C517.1,907.7 525.9,909.4 528.7,912.4 C531.5,915.4 526.3,918.0 526.4,921.1 C526.6,924.3 527.2,928.5 529.4,931.1 C531.7,933.8 536.1,936.3 539.9,936.9 C543.8,937.5 548.3,936.5 552.4,934.9 C556.6,933.3 561.4,929.2 564.9,927.4 C568.5,925.6 567.0,923.3 573.7,923.9 C580.3,924.5 595.5,929.4 604.9,931.1 C614.3,932.9 621.6,933.8 629.9,934.4 C638.2,934.9 646.5,934.8 654.9,934.4 C663.2,934.0 671.5,933.1 679.9,931.9 C688.2,930.6 696.5,929.1 704.8,926.9 C713.2,924.7 721.5,922.1 729.8,918.6 C738.1,915.2 746.5,911.4 754.8,906.2 C763.1,900.9 774.3,894.9 779.8,887.4 C785.3,879.9 785.4,865.9 787.7,861.2 C790.0,856.6 789.8,859.8 793.5,859.8 C797.1,859.8 805.3,861.4 809.7,861.2 C814.0,861.1 817.0,860.1 819.6,858.8 C822.2,857.4 824.5,855.2 825.4,853.0 C826.2,850.8 825.8,848.5 824.6,845.5 C823.4,842.6 820.9,838.7 818.4,835.6 C815.9,832.5 810.1,830.8 809.7,826.9 C809.2,822.9 814.1,818.1 815.9,811.9 C817.6,805.7 819.7,797.8 820.1,789.5 C820.5,781.2 820.1,771.6 818.4,762.1 C816.6,752.5 813.6,742.1 809.7,732.1 C805.7,722.2 800.5,711.4 794.7,702.2 C788.9,693.1 782.0,684.0 774.8,677.3 C767.5,670.7 755.0,664.9 751.1,662.4Z" fill="#fefefd" stroke="none"/>
<path class="k" d="M502.3,676.2 C500.2,678.1 494.2,683.3 489.8,687.4 C485.5,691.6 480.7,699.2 476.1,701.1 C471.5,703.1 467.0,699.1 462.4,699.1 C457.8,699.1 452.3,699.6 448.7,701.1 C445.0,702.6 442.0,705.5 440.5,708.1 C438.9,710.7 438.5,714.0 439.2,716.8 C440.0,719.6 442.3,722.2 445.0,724.8 C447.6,727.4 454.3,727.3 454.9,732.3 C455.5,737.3 450.4,746.8 448.7,754.7 C447.0,762.6 445.4,771.3 445.0,779.6 C444.5,787.9 445.0,795.8 446.2,804.5 C447.4,813.3 449.3,822.8 452.4,832.0 C455.5,841.1 459.5,850.7 464.9,859.4 C470.3,868.1 477.4,877.0 484.8,884.3 C492.3,891.6 502.4,898.3 509.8,903.0 C517.1,907.7 525.9,909.4 528.7,912.4 C531.5,915.4 526.3,918.0 526.4,921.1 C526.6,924.3 527.2,928.5 529.4,931.1 C531.7,933.8 536.1,936.3 539.9,936.9 C543.8,937.5 548.3,936.5 552.4,934.9 C556.6,933.3 561.4,929.2 564.9,927.4 C568.5,925.6 567.0,923.3 573.7,923.9 C580.3,924.5 595.5,929.4 604.9,931.1 C614.3,932.9 621.6,933.8 629.9,934.4 C638.2,934.9 646.5,934.8 654.9,934.4 C663.2,934.0 671.5,933.1 679.9,931.9 C688.2,930.6 696.5,929.1 704.8,926.9 C713.2,924.7 721.5,922.1 729.8,918.6 C738.1,915.2 746.5,911.4 754.8,906.2 C763.1,900.9 774.3,894.9 779.8,887.4 C785.3,879.9 785.4,865.9 787.7,861.2 C790.0,856.6 789.8,859.8 793.5,859.8 C797.1,859.8 805.3,861.4 809.7,861.2 C814.0,861.1 817.0,860.1 819.6,858.8 C822.2,857.4 824.5,855.2 825.4,853.0 C826.2,850.8 825.8,848.5 824.6,845.5 C823.4,842.6 820.9,838.7 818.4,835.6 C815.9,832.5 810.1,830.8 809.7,826.9 C809.2,822.9 814.1,818.1 815.9,811.9 C817.6,805.7 819.7,797.8 820.1,789.5 C820.5,781.2 820.1,771.6 818.4,762.1 C816.6,752.5 813.6,742.1 809.7,732.1 C805.7,722.2 800.5,711.4 794.7,702.2 C788.9,693.1 782.0,684.0 774.8,677.3 C767.5,670.7 755.0,664.9 751.1,662.4" />
<path class="k" d="M439.5,717.8 C439.6,718.7 438.1,719.9 440.5,722.8 C442.8,725.7 451.5,733.2 453.7,735.3" />
<path class="k" d="M445.5,799.6 C446.3,805.0 447.5,821.7 450.4,832.0 C453.3,842.3 457.5,852.1 462.9,861.4 C468.3,870.6 475.2,879.7 482.8,887.3 C490.4,894.8 501.0,901.6 508.5,906.7 C516.0,911.8 524.7,916.0 527.9,917.9" />
<path class="k" d="M527.4,923.6 C527.9,925.6 527.8,932.5 529.9,935.4 C532.1,938.3 536.6,940.5 540.4,941.1 C544.3,941.8 548.6,940.8 552.9,939.1 C557.2,937.5 562.7,932.9 566.2,931.1 C569.6,929.4 567.2,927.8 573.7,928.6 C580.1,929.5 595.5,934.6 604.9,936.4 C614.3,938.2 621.6,938.9 629.9,939.4 C638.2,939.9 646.5,939.8 654.9,939.4 C663.2,939.0 671.5,938.1 679.9,936.9 C688.2,935.6 696.5,934.1 704.8,931.9 C713.2,929.7 721.5,927.1 729.8,923.6 C738.1,920.2 746.5,916.4 754.8,911.1 C763.1,905.9 774.3,900.0 779.8,892.4 C785.3,884.8 786.4,870.0 787.7,865.5" />
<path class="k" d="M787.7,865.5 C791.4,865.5 803.9,866.1 809.7,865.5 C815.4,864.9 819.4,863.4 822.1,861.7 C824.9,860.1 825.4,856.6 826.1,855.5" />
<path class="t" d="M492.3,692.4 C489.4,695.3 479.8,703.4 474.9,709.8 C469.9,716.3 465.7,723.6 462.4,731.0 C459.1,738.5 456.8,746.6 454.9,754.7 C453.1,762.8 451.6,771.3 451.2,779.6 C450.8,787.9 451.2,796.0 452.4,804.5 C453.7,813.1 455.5,822.0 458.7,830.7 C461.8,839.4 465.9,848.6 471.1,856.9 C476.3,865.2 482.8,873.7 489.8,880.6 C496.9,887.4 506.8,893.9 513.5,898.0 C520.1,902.2 519.9,902.0 529.7,905.5 C539.5,908.9 559.9,915.2 572.4,918.6 C584.9,922.1 595.3,924.4 604.9,926.1 C614.5,927.9 621.6,928.6 629.9,929.1 C638.2,929.6 646.5,929.6 654.9,929.1 C663.2,928.7 671.5,927.9 679.9,926.6 C688.2,925.4 696.5,923.8 704.8,921.6 C713.2,919.4 721.5,916.8 729.8,913.4 C738.1,910.0 746.9,906.1 754.8,901.2 C762.7,896.2 769.0,896.0 777.3,883.7 C785.6,871.3 798.9,839.2 804.7,826.9 C810.4,814.5 809.9,815.6 811.7,809.4 C813.4,803.2 814.8,797.4 815.1,789.5 C815.4,781.6 814.9,771.2 813.4,762.1 C811.9,752.9 809.7,744.0 805.9,734.6 C802.2,725.3 796.6,714.7 791.0,706.0 C785.4,697.3 778.5,688.3 772.3,682.3 C766.0,676.3 756.7,671.9 753.6,669.8" />
<path class="k" d="M498.5,713.6 C497.1,714.0 492.9,713.8 489.8,716.1 C486.7,718.4 482.8,722.9 479.8,727.3 C476.9,731.7 474.4,736.8 472.4,742.2 C470.4,747.6 468.9,752.6 467.9,759.7 C466.8,766.7 465.8,776.3 466.1,784.6 C466.5,792.9 467.6,801.2 469.9,809.5 C472.2,817.8 475.3,826.1 479.8,834.5 C484.4,842.8 490.2,851.7 497.3,859.4 C504.4,867.1 512.7,874.1 522.2,880.6 C531.8,887.0 536.7,892.7 554.6,898.0 C572.6,903.3 609.0,910.4 629.9,912.4 C650.8,914.4 665.3,911.9 679.9,909.9 C694.4,907.9 705.7,904.5 717.3,900.4 C729.0,896.3 740.7,892.3 749.8,885.4 C759.0,878.6 766.2,866.9 772.3,859.3 C778.3,851.6 782.0,846.4 786.0,839.3 C789.9,832.3 793.7,825.2 796.0,816.9 C798.2,808.6 799.3,799.0 799.7,789.5 C800.1,779.9 800.1,769.5 798.4,759.6 C796.8,749.6 793.7,739.2 789.7,729.7 C785.8,720.1 780.4,710.6 774.8,702.2 C769.2,693.9 759.2,683.6 756.1,679.8" />
<path class="t" d="M473.6,764.7 C473.2,768.4 470.9,779.6 471.1,787.1 C471.3,794.6 472.6,801.6 474.9,809.5 C477.1,817.4 480.3,826.6 484.8,834.5 C489.4,842.3 495.2,849.8 502.3,856.9 C509.3,863.9 517.6,870.8 527.2,876.8 C536.7,882.8 542.5,888.0 559.6,893.0 C576.7,898.0 610.3,905.0 629.9,906.9 C649.5,908.8 663.2,906.3 677.4,904.4 C691.5,902.5 703.5,899.3 714.8,895.4 C726.2,891.5 736.6,888.0 745.3,881.2 C754.1,874.3 761.5,861.7 767.3,854.3 C773.1,846.9 776.4,843.3 780.2,836.8 C784.1,830.4 787.9,823.5 790.2,815.6 C792.5,807.7 793.8,798.6 794.2,789.5 C794.6,780.3 794.3,770.4 792.7,760.8 C791.1,751.3 788.3,741.3 784.7,732.1 C781.1,723.0 773.3,710.3 771.0,706.0" />
<path class="t" d="M451.2,773.4 L467.4,774.6" />
<path class="t" d="M451.0,775.6 L467.2,776.8" />
<path class="t" d="M459.9,827.0 L472.4,823.2" />
<path class="t" d="M460.5,829.1 L473.0,825.3" />
<path class="t" d="M493.6,874.3 L504.8,868.1" />
<path class="t" d="M494.6,876.3 L505.8,870.0" />
<path class="t" d="M552.1,905.5 L557.1,898.0" />
<path class="t" d="M553.9,906.7 L558.9,899.2" />
<path class="t" d="M618.6,912.4 L619.9,928.6" />
<path class="t" d="M616.4,912.6 L617.7,928.8" />
<path class="t" d="M687.3,904.9 L691.8,924.9" />
<path class="t" d="M685.2,905.4 L689.7,925.4" />
<path class="t" d="M741.1,884.4 L751.1,902.4" />
<path class="t" d="M739.1,885.5 L749.1,903.5" />
<path class="t" d="M782.2,836.8 L788.5,840.6" />
<path class="t" d="M781.1,838.7 L787.3,842.4" />
<path class="t" d="M799.7,787.0 L812.1,789.5" />
<path class="t" d="M799.3,789.1 L811.7,791.6" />
<path class="t" d="M792.2,734.6 L804.7,729.7" />
<path class="t" d="M793.0,736.7 L805.5,731.7" />
<rect x="446.9" y="707.3" width="21" height="11" rx="5.5" transform="rotate(14 457.4 712.8)" fill="#fefefd" stroke="#1a1a1a" stroke-width="1.1"/>
<rect x="450.2" y="710.5" width="16" height="7" rx="3.5" transform="rotate(14 458.2 714.0)" fill="#fefefd" stroke="#1a1a1a" stroke-width="1.1"/>
<rect x="534.4" y="914.9" width="21" height="11" rx="5.5" transform="rotate(-38 544.9 920.4)" fill="#fefefd" stroke="#1a1a1a" stroke-width="1.1"/>
<rect x="537.7" y="918.1" width="16" height="7" rx="3.5" transform="rotate(-38 545.7 921.6)" fill="#fefefd" stroke="#1a1a1a" stroke-width="1.1"/>
<rect x="796.7" y="840.0" width="21" height="11" rx="5.5" transform="rotate(10 807.2 845.5)" fill="#fefefd" stroke="#1a1a1a" stroke-width="1.1"/>
<rect x="800.0" y="843.2" width="16" height="7" rx="3.5" transform="rotate(10 808.0 846.7)" fill="#fefefd" stroke="#1a1a1a" stroke-width="1.1"/>
<path d="M501.2,683.0 L502.5,715.0 L506.0,745.0 L503.8,730.3 L505.5,739.9 L508.5,749.3 L512.8,758.5 L518.3,767.3 L524.9,775.5 L532.6,783.3 L541.2,790.4 L550.8,796.8 L561.1,802.4 L572.2,807.1 L583.8,811.0 L595.9,813.9 L608.3,815.9 L621.0,816.9 L633.6,816.9 L646.3,815.9 L658.7,813.9 L670.8,811.0 L682.4,807.1 L693.5,802.4 L703.8,796.8 L713.4,790.4 L722.0,783.3 L729.7,775.5 L736.3,767.3 L741.8,758.5 L746.1,749.3 L749.1,739.9 L750.8,730.3 L752.5,715.0 L753.5,683.0Z" fill="#fefefd" stroke="none"/>
<path class="k" d="M501.2,683.0 L502.5,715.0 L506.0,745.0" />
<path class="k" d="M753.5,683.0 L754.5,715.0 L752.0,740.0" />
<path class="t" d="M520.5,744.1 C520.5,749.6 520.5,771.7 520.5,777.2" />
<path class="t" d="M508.4,759.5 C508.7,763.2 510.2,777.9 510.6,781.6" />
<path class="t" d="M468.7,757.3 C470.3,755.7 472.7,750.9 478.6,747.4 C484.5,743.9 499.7,738.2 503.9,736.4" />
<path class="t" d="M470.9,763.9 C472.7,762.3 476.0,757.3 481.9,754.0 C487.8,750.7 502.1,745.8 506.2,744.1" />
<path class="t" d="M489.6,756.2 C490.0,757.3 491.5,761.7 491.8,762.8" />
<path class="t" d="M469.8,773.9 C471.4,772.2 473.6,766.9 479.7,763.9 C485.8,761.0 501.4,757.0 506.2,756.2 C510.9,755.5 508.0,759.0 508.4,759.5" />
<path class="t" d="M475.3,793.1 C476.8,791.5 478.6,785.7 484.1,783.8 C489.6,781.9 502.3,782.7 508.4,781.6 C514.4,780.5 518.5,777.9 520.5,777.2" />
<path class="t" d="M469.8,775.0 C469.8,777.9 468.8,789.5 469.8,792.6 C470.7,795.7 474.4,793.5 475.3,793.7" />
<path class="t" d="M475.3,793.7 C476.8,798.7 479.0,812.6 484.1,823.5 C489.2,834.3 497.0,848.8 506.2,858.8 C515.3,868.7 526.0,876.4 539.2,883.0 C552.5,889.6 574.5,895.3 585.5,898.5 C596.6,901.6 602.1,901.2 605.4,901.8" />
<path class="t" d="M520.5,743.0 C523.2,746.9 531.0,757.1 537.0,766.2 C543.1,775.2 551.0,787.5 556.9,797.0 C562.7,806.6 566.8,813.2 572.3,823.5 C577.8,833.8 584.4,845.7 589.9,858.8 C595.5,871.8 602.8,894.6 605.4,901.8" />
<path class="t" d="M554.7,786.0 C555.2,787.8 557.4,787.8 558.0,797.0 C558.5,806.2 558.0,833.8 558.0,841.1" />
<path class="t" d="M558.0,797.0 C561.1,802.9 570.7,820.2 576.7,832.3 C582.8,844.4 589.8,858.8 594.4,869.8 C598.9,880.8 602.6,893.7 604.3,898.5" />
<path class="t" d="M508.4,781.6 C511.7,785.3 521.2,796.7 528.2,803.6 C535.2,810.6 545.3,817.2 550.3,823.5 C555.2,829.7 556.7,838.2 558.0,841.1" />
<path class="t" d="M512.8,770.6 C516.1,773.5 525.6,780.5 532.6,788.2 C539.6,795.9 551.0,812.1 554.7,816.9" />
<path class="t" d="M556.9,836.7 C557.4,837.8 558.7,841.9 560.2,843.3 C561.6,844.8 562.9,841.5 565.7,845.5 C568.4,849.6 573.4,859.9 576.7,867.6 C580.0,875.3 584.1,887.8 585.5,891.8" />
<path class="t" d="M609.8,783.8 C612.0,788.9 618.2,802.9 623.0,814.7 C627.8,826.4 633.7,842.2 638.5,854.4 C643.2,866.5 648.7,880.1 651.7,887.4 C654.6,894.8 655.4,896.6 656.1,898.5" />
<path class="t" d="M614.2,788.2 C616.4,793.3 622.8,808.0 627.4,819.1 C632.0,830.1 637.2,843.0 641.8,854.4 C646.4,865.7 652.8,881.9 655.0,887.4" />
<path class="t" d="M608.7,782.7 C610.0,783.2 607.8,785.1 616.4,786.0 C625.0,786.9 653.2,787.8 660.5,788.2" />
<path class="t" d="M656.1,898.5 C659.0,897.7 666.4,895.9 673.7,894.0 C681.1,892.2 695.6,888.5 700.0,887.4" />
<path class="t" d="M489.6,717.6 C489.6,721.3 489.6,736.0 489.6,739.7" />
<path class="t" d="M499.5,713.2 C499.5,717.3 499.5,733.4 499.5,737.5" />
<rect x="663.8" y="783.6" width="12" height="18" rx="5" class="t" transform="rotate(8 669.8 792.6)"/>
<path class="t" d="M716.1,755.0 C716.7,760.8 720.0,776.6 719.8,790.0 C719.6,803.3 716.3,822.5 714.8,834.9 C713.4,847.4 711.7,859.9 711.1,864.9" />
<path class="t" d="M712.3,755.0 C712.7,760.8 715.2,776.6 714.8,790.0 C714.5,803.3 711.1,827.4 710.3,834.9" />
<path class="t" d="M754.8,665.0 C755.2,673.4 757.3,698.4 757.3,715.0 C757.3,731.7 756.1,748.3 754.8,765.0 C753.6,781.6 750.8,800.0 749.8,815.0 C748.8,829.9 748.8,848.3 748.6,854.9" />
<path class="t" d="M759.8,685.0 C760.4,694.2 763.1,722.5 763.5,740.0 C764.0,757.5 763.3,772.5 762.3,790.0 C761.3,807.5 758.1,835.8 757.3,844.9" />
<path class="t" d="M754.8,665.0 C756.5,667.5 761.1,672.5 764.8,680.0 C768.5,687.5 774.0,699.2 777.3,710.0 C780.6,720.8 783.5,732.5 784.8,745.0 C786.0,757.5 786.0,772.5 784.8,785.0 C783.5,797.5 781.0,809.1 777.3,820.0 C773.5,830.8 764.8,844.9 762.3,849.9" />
<path class="t" d="M769.8,715.0 C771.0,720.0 775.8,734.6 777.3,745.0 C778.7,755.4 778.3,772.1 778.5,777.5" />
<path class="k" d="M501.0,700.5 L501.3,706.7 L502.0,712.8 L503.3,718.9 L505.1,725.0 L507.4,730.9 L510.2,736.7 L513.5,742.4 L517.3,747.9 L521.4,753.1 L526.1,758.2 L531.1,763.1 L536.6,767.6 L542.4,771.9 L548.6,775.9 L555.0,779.6 L561.8,783.0 L568.9,786.1 L576.2,788.7 L583.7,791.1 L591.4,793.0 L599.2,794.6 L607.1,795.8 L615.2,796.6 L623.3,797.0 L631.3,797.0 L639.4,796.6 L647.5,795.8 L655.4,794.6 L663.2,793.0 L670.9,791.1 L678.4,788.7 L685.7,786.1 L692.8,783.0 L699.6,779.6 L706.0,775.9 L712.2,771.9 L718.0,767.6 L723.5,763.1 L728.5,758.2 L733.2,753.1 L737.3,747.9 L741.1,742.4 L744.4,736.7 L747.2,730.9 L749.5,725.0 L751.3,718.9 L752.6,712.8 L753.3,706.7 L753.6,700.5" />
<ellipse class="kf" cx="627.3" cy="683.0" rx="126.3" ry="96.5" fill="none" />
<path d="M501.7,695.9 L500.9,690.5 L500.5,685.1 L500.6,679.7 L501.0,674.3 L501.8,668.9 L503.0,663.5 L504.6,658.2 L506.5,653.0 L508.9,647.9 L511.6,642.9 L514.7,638.0 L518.2,633.2 L522.0,628.7 L526.1,624.2 L530.6,620.0 L535.3,616.0 L540.4,612.1 L545.7,608.5 L551.3,605.2 L557.1,602.0 L563.1,599.2 L569.3,596.6 L575.8,594.2 L582.3,592.2 L589.1,590.4 L595.9,588.9 L602.8,587.8 L609.8,586.9 L616.9,586.3 L624.0,586.0 L631.1,586.1 L638.2,586.4 L645.3,587.0 L652.3,588.0 L659.2,589.2 L666.0,590.8 L672.7,592.6 L679.2,594.7 L685.6,597.1 L691.8,599.8 L697.8,602.7 L703.6,605.9 L709.1,609.3 L714.3,612.9 L719.3,616.8 L724.0,620.9 L728.4,625.2 L732.5,629.6 L736.2,634.2" fill="none" stroke="#1a1a1a" stroke-width="2.6" stroke-linecap="round"/>
<ellipse class="t" cx="627.3" cy="683.5" rx="123.3" ry="94.2" fill="none" />
<ellipse class="t" cx="627.3" cy="683.5" rx="118.5" ry="91.4" fill="none" />
<ellipse class="k" cx="627.3" cy="683.8" rx="112.5" ry="88.8" fill="none" />
<ellipse class="t" cx="627.3" cy="684.5" rx="111.0" ry="87.4" fill="none" />
<path class="t" d="M623.6,696.2 L656.1,772.4" />
<path class="t" d="M627.4,697.9 L659.4,771.1" />
<path class="t" d="M638.6,694.9 L671.1,764.9" />
<path class="t" d="M641.9,692.9 L674.4,762.9" />
<path class="t" d="M656.1,772.4 L671.1,764.9" />
<ellipse class="kf" cx="627.4" cy="683.9" rx="17.4" ry="14.6" fill="none" />
<ellipse class="t" cx="627.6" cy="684.6" rx="14.6" ry="12.0" fill="none" />
</g>
<g id="midblock">
<path d="M642.4,815.0 L645.4,812.5 L699.3,798.0 L703.6,801.2 L708.8,827.9 L707.3,859.9 L704.8,862.9 L664.9,870.4 L659.4,866.2 L642.9,820.5Z" fill="#fefefd" stroke="#1a1a1a" stroke-width="1.4" stroke-linejoin="round"/>
<path class="k" d="M654.9,843.7 L707.8,828.7" />
<path class="t" d="M656.1,846.9 L707.8,831.9" />
<path class="t" d="M645.4,815.0 L698.6,801.2 L704.8,827.4" />
<ellipse class="kf" cx="664.4" cy="824.9" rx="9.4" ry="8.6" fill="none" />
<ellipse class="t" cx="664.7" cy="825.7" rx="7.2" ry="6.4" fill="none" />
<path class="t" d="M663.6,823.0 L663.6,832.9" />
<path class="t" d="M665.6,823.0 L665.6,832.9" />
<ellipse class="kf" cx="690.3" cy="818.0" rx="9.4" ry="8.6" fill="none" />
<ellipse class="t" cx="690.6" cy="818.8" rx="7.2" ry="6.4" fill="none" />
<path class="t" d="M689.6,816.0 L689.6,825.9" />
<path class="t" d="M691.6,816.0 L691.6,825.9" />
<ellipse cx="668.6" cy="856.2" rx="9.6" ry="7" transform="rotate(-16 668.6 856.2)" fill="#3c3c3c" stroke="#1a1a1a" stroke-width="0.7"/>
<ellipse cx="668.6" cy="856.2" rx="7.6" ry="5.4" transform="rotate(-16 668.6 856.2)" fill="#b8b8b8" stroke="#1a1a1a" stroke-width="0.7"/>
<ellipse cx="668.6" cy="856.2" rx="5.6" ry="3.9" transform="rotate(-16 668.6 856.2)" fill="#3c3c3c" stroke="#1a1a1a" stroke-width="0.7"/>
<ellipse cx="668.6" cy="856.2" rx="3.6" ry="2.4" transform="rotate(-16 668.6 856.2)" fill="#b8b8b8" stroke="#1a1a1a" stroke-width="0.7"/>
<ellipse cx="668.6" cy="856.2" rx="1.6" ry="1" transform="rotate(-16 668.6 856.2)" fill="#3c3c3c" stroke="#1a1a1a" stroke-width="0.7"/>
<ellipse cx="693.6" cy="848.7" rx="9.6" ry="7" transform="rotate(-16 693.6 848.7)" fill="#3c3c3c" stroke="#1a1a1a" stroke-width="0.7"/>
<ellipse cx="693.6" cy="848.7" rx="7.6" ry="5.4" transform="rotate(-16 693.6 848.7)" fill="#b8b8b8" stroke="#1a1a1a" stroke-width="0.7"/>
<ellipse cx="693.6" cy="848.7" rx="5.6" ry="3.9" transform="rotate(-16 693.6 848.7)" fill="#3c3c3c" stroke="#1a1a1a" stroke-width="0.7"/>
<ellipse cx="693.6" cy="848.7" rx="3.6" ry="2.4" transform="rotate(-16 693.6 848.7)" fill="#b8b8b8" stroke="#1a1a1a" stroke-width="0.7"/>
<ellipse cx="693.6" cy="848.7" rx="1.6" ry="1" transform="rotate(-16 693.6 848.7)" fill="#3c3c3c" stroke="#1a1a1a" stroke-width="0.7"/>
<path d="M664.9,862.9 L676.1,860.4" stroke="#1a1a1a" stroke-width="1.8"/>
<path d="M691.1,856.9 L701.1,854.4 M695.6,851.9 L696.8,859.9" stroke="#1a1a1a" stroke-width="1.6"/>
</g>
<g id="wiresB">
<path d="M582.4,268.4 C582.0,268.1 581.7,267.8 579.8,266.9 C577.9,266.0 573.8,263.4 571.0,263.2 C568.2,263.0 565.3,263.4 563.0,265.6 C560.7,267.8 558.7,272.5 557.4,276.5 C556.1,280.5 555.6,285.8 555.3,289.8 C555.0,293.9 555.4,296.7 555.6,300.8 C555.8,304.8 556.0,310.1 556.5,314.3 C557.0,318.6 557.8,322.3 558.7,326.3 C559.7,330.3 560.8,334.4 562.1,338.4 C563.3,342.4 564.8,346.5 566.4,350.5 C568.1,354.6 569.8,358.7 571.8,362.7 C573.7,366.8 575.9,370.8 578.1,374.9 C580.3,379.1 582.7,383.2 585.1,387.4 C587.5,391.5 589.9,395.6 592.4,399.8 C594.9,403.9 597.4,408.1 600.0,412.2 C602.6,416.3 605.3,420.4 607.9,424.6 C610.6,428.8 613.3,433.1 615.8,437.3 C618.3,441.6 620.7,446.0 623.0,450.3 C625.2,454.5 627.4,458.8 629.3,462.7 C631.2,466.6 632.9,470.2 634.5,473.8 C636.0,477.4 637.4,481.0 638.5,484.4 C639.7,487.8 640.5,491.0 641.1,494.3 C641.7,497.6 642.2,500.7 642.2,504.3 C642.2,507.9 641.7,512.7 641.3,516.1 C641.0,519.5 641.5,520.2 640.1,524.7 C638.6,529.2 635.6,537.8 632.5,543.0 C629.4,548.2 625.4,552.6 621.2,555.8 C617.0,559.0 612.2,560.5 607.4,562.0 C602.5,563.5 597.0,564.5 592.1,564.6 C587.2,564.7 581.1,563.2 578.3,562.7 C575.5,562.2 576.0,561.7 575.5,561.5" fill="none" stroke="#1a1a1a" stroke-width="5.6" stroke-linecap="butt" />
<path d="M577.8,271.1 C577.4,270.9 577.0,270.6 575.2,269.6 C573.4,268.6 569.7,265.4 567.2,265.0 C564.7,264.6 562.6,265.2 560.3,267.3 C558.0,269.4 555.1,273.8 553.4,277.6 C551.7,281.4 550.5,286.1 550.0,290.0 C549.5,293.9 550.1,296.8 550.3,300.9 C550.5,305.1 550.7,310.6 551.2,315.0 C551.8,319.4 552.6,323.3 553.6,327.5 C554.5,331.7 555.7,335.8 557.0,340.0 C558.3,344.2 559.8,348.3 561.5,352.5 C563.2,356.7 565.0,360.8 567.0,365.0 C569.0,369.2 571.2,373.3 573.4,377.5 C575.7,381.7 578.1,385.8 580.5,390.0 C582.9,394.2 585.4,398.3 587.9,402.5 C590.4,406.7 592.9,410.8 595.5,415.0 C598.1,419.2 600.9,423.3 603.5,427.5 C606.1,431.7 608.8,435.8 611.2,440.0 C613.7,444.2 616.1,448.6 618.3,452.8 C620.5,456.9 622.6,461.1 624.5,465.0 C626.4,468.9 628.1,472.4 629.6,475.9 C631.1,479.4 632.5,482.8 633.5,486.0 C634.5,489.2 635.3,492.2 635.9,495.3 C636.5,498.4 636.9,501.1 636.9,504.4 C636.9,507.7 636.4,512.1 636.1,515.3 C635.7,518.6 636.4,519.3 634.8,524.0 C633.2,528.7 629.6,538.1 626.3,543.5 C623.0,548.9 619.0,553.3 615.1,556.6 C611.2,559.9 607.1,561.8 602.8,563.5 C598.4,565.2 593.3,566.4 589.0,566.6 C584.7,566.9 579.4,565.5 576.8,565.0 C574.2,564.5 574.0,563.8 573.5,563.5" fill="none" stroke="#9d9d9d" stroke-width="5.6" stroke-linecap="butt" />
<path d="M574.9,274.5 C574.5,274.2 573.8,273.9 572.3,273.0 C570.8,272.1 568.2,269.8 566.0,269.0 C563.8,268.2 561.6,267.1 559.1,268.4 C556.6,269.6 553.5,272.9 551.1,276.5 C548.7,280.1 545.7,286.1 544.7,290.2 C543.7,294.3 544.8,296.9 545.0,301.1 C545.2,305.4 545.4,311.1 546.0,315.7 C546.6,320.3 547.4,324.4 548.4,328.7 C549.4,333.0 550.6,337.3 551.9,341.6 C553.3,345.9 554.9,350.2 556.6,354.5 C558.3,358.8 560.2,363.0 562.2,367.3 C564.2,371.5 566.5,375.8 568.8,380.1 C571.1,384.3 573.5,388.4 575.9,392.6 C578.3,396.8 580.8,401.0 583.3,405.2 C585.8,409.4 588.4,413.6 591.0,417.8 C593.6,422.0 596.4,426.2 599.0,430.4 C601.6,434.5 604.2,438.5 606.7,442.7 C609.1,446.8 611.4,451.1 613.6,455.2 C615.8,459.3 617.9,463.5 619.7,467.3 C621.6,471.1 623.3,474.7 624.8,478.0 C626.2,481.4 627.5,484.6 628.5,487.6 C629.4,490.7 630.2,493.5 630.7,496.3 C631.2,499.1 631.6,501.4 631.6,504.5 C631.6,507.6 631.2,511.5 630.8,514.6 C630.5,517.8 631.4,518.3 629.5,523.3 C627.7,528.2 623.4,538.2 619.7,544.3 C616.0,550.4 611.8,555.6 607.4,559.7 C603.0,563.8 598.2,566.6 593.6,568.9 C589.0,571.2 584.4,573.1 579.8,573.5 C575.2,573.9 568.3,571.6 566.0,571.2" fill="none" stroke="#d9212f" stroke-width="5.6" stroke-linecap="butt" />
<path d="M630.7,496.3 C630.8,497.6 631.6,501.4 631.6,504.5 C631.6,507.6 631.2,511.5 630.8,514.6 C630.5,517.8 631.4,518.3 629.5,523.3 C627.7,528.2 623.4,538.2 619.7,544.3 C616.0,550.4 611.8,555.6 607.4,559.7 C603.0,563.8 598.2,566.6 593.6,568.9 C589.0,571.2 584.4,573.1 579.8,573.5 C575.2,573.9 568.3,571.6 566.0,571.2" fill="none" stroke="#d9212f" stroke-width="6.5" stroke-linecap="butt" />
<path d="M699.0,471.0 C700.5,475.2 705.3,487.8 708.0,496.0 C710.7,504.2 712.7,511.3 715.0,520.0 C717.3,528.7 719.9,538.8 722.0,548.0 C724.1,557.2 726.2,566.3 727.5,575.0 C728.8,583.7 729.7,592.5 729.8,600.0 C729.9,607.5 729.3,613.0 728.0,620.0 C726.7,627.0 724.7,633.3 722.0,642.0 C719.3,650.7 715.4,661.8 712.0,672.0 C708.6,682.2 704.8,693.6 701.5,703.3 C698.2,713.0 695.0,721.9 692.0,730.0 C689.0,738.1 686.1,743.7 683.6,752.0 C681.1,760.3 678.7,772.0 677.0,780.0 C675.3,788.0 675.2,793.0 673.4,800.0 C671.6,807.0 667.2,818.3 666.0,822.0" fill="none" stroke="#b2b2b2" stroke-width="5.6" stroke-linecap="butt" />
<path d="M706.0,470.0 C707.7,474.2 712.8,486.7 716.0,495.0 C719.2,503.3 722.5,511.2 725.0,520.0 C727.5,528.8 729.2,538.8 731.0,548.0 C732.8,557.2 734.9,566.3 736.0,575.0 C737.1,583.7 737.5,592.2 737.5,600.0 C737.5,607.8 737.1,615.0 736.0,622.0 C734.9,629.0 733.2,633.7 731.0,642.0 C728.8,650.3 725.8,661.8 723.0,672.0 C720.2,682.2 717.0,693.6 714.3,703.3 C711.6,713.0 709.1,721.5 707.0,730.0 C704.9,738.5 703.0,746.2 701.5,754.5 C700.0,762.8 698.9,772.4 698.0,780.0 C697.1,787.6 697.3,794.0 696.4,800.0 C695.5,806.0 693.2,813.6 692.6,816.3" fill="none" stroke="#1a1a1a" stroke-width="6" stroke-linecap="butt" />
<path d="M708.0,466.5 C718.8,472.7 751.3,491.4 773.0,503.9 C794.7,516.4 820.3,531.2 838.1,541.3 C855.9,551.4 869.3,558.3 879.6,564.3 C889.9,570.2 893.5,572.4 900.0,577.0 C906.5,581.6 912.9,586.5 918.7,592.0 C924.5,597.5 929.8,603.9 935.0,610.0 C940.2,616.1 947.3,625.7 949.8,628.8" fill="none" stroke="#b2b2b2" stroke-width="5" stroke-linecap="butt" />
<path d="M709.2,463.0 C721.8,469.9 759.7,490.6 785.0,504.4 C810.3,518.2 842.8,536.1 861.1,545.9 C879.4,555.7 883.5,557.6 895.0,563.0 C906.5,568.4 918.6,573.4 930.2,578.1 C941.8,582.9 959.0,589.3 964.7,591.5" fill="none" stroke="#1a1a1a" stroke-width="5.6" stroke-linecap="butt" />
</g>
<g id="conn">
<g transform="translate(567.9,275.8) rotate(-29.86)" stroke="#1a1a1a" stroke-width="1.1" stroke-linejoin="miter">
<rect x="2.3" y="1.5" width="15.2" height="8.9" fill="#c6c6c6"/>
<rect x="3.0" y="10.4" width="3.4" height="9.4" fill="#d4d4d4" stroke-width="1.1"/>
<rect x="7.9" y="10.4" width="3.4" height="9.4" fill="#d4d4d4" stroke-width="1.1"/>
<rect x="12.8" y="10.4" width="3.4" height="9.4" fill="#d4d4d4" stroke-width="1.1"/>
<rect x="0" y="0" width="19.4" height="1.9" fill="#e8e8e8" stroke-width="1.2"/>
</g>
<g transform="translate(576.5,562.8) rotate(150.14)" stroke="#1a1a1a" stroke-width="1.1" stroke-linejoin="miter">
<rect x="2.3" y="1.5" width="15.2" height="8.9" fill="#c6c6c6"/>
<rect x="3.0" y="10.4" width="3.4" height="9.4" fill="#d4d4d4" stroke-width="1.1"/>
<rect x="7.9" y="10.4" width="3.4" height="9.4" fill="#d4d4d4" stroke-width="1.1"/>
<rect x="12.8" y="10.4" width="3.4" height="9.4" fill="#d4d4d4" stroke-width="1.1"/>
<rect x="0" y="0" width="19.4" height="1.9" fill="#e8e8e8" stroke-width="1.2"/>
</g>
<path d="M564.1,281.7 L568.5,288.9 L566.6,290.1 L573.5,294.3 L572.9,286.2 L571.1,287.4 L566.6,280.1Z" fill="#1a1a1a"/>
<path d="M580.3,555.0 L576.7,549.4 L578.5,548.2 L571.4,544.3 L572.3,552.3 L574.2,551.1 L577.9,556.6Z" fill="#1a1a1a"/>
<path d="M696.5,471.5 L706.5,465.5 L708,468 L698,474 Z" fill="#9a9a9a" stroke="#1a1a1a" stroke-width="0.8"/>
</g>
<g id="midtools">
<path d="M672.9,871.9 L678.4,887.4 L689.8,884.9 L682.8,869.9Z" fill="#fefefd" stroke="#1a1a1a" stroke-width="1.1" stroke-linejoin="round"/>
<ellipse class="kf" cx="684.8" cy="890.2" rx="9.6" ry="7.4" fill="none" />
<ellipse class="kf" cx="684.8" cy="888.7" rx="9.4" ry="7.2" fill="none" />
<ellipse class="t" cx="684.8" cy="888.7" rx="7.0" ry="5.2" fill="none" />
<path d="M680.3470917449531,889.4608035178892 L689.3470917449531,887.8608035178893 M684.2470917449531,885.0608035178892 L685.4470917449531,892.2608035178893" stroke="#1a1a1a" stroke-width="1.3"/>
<path d="M697.8,863.7 L703.3,879.2 L714.8,876.7 L707.8,861.7Z" fill="#fefefd" stroke="#1a1a1a" stroke-width="1.1" stroke-linejoin="round"/>
<ellipse class="kf" cx="709.3" cy="884.4" rx="9.6" ry="7.4" fill="none" />
<ellipse class="kf" cx="709.3" cy="882.9" rx="9.4" ry="7.2" fill="none" />
<ellipse class="t" cx="709.3" cy="882.9" rx="7.0" ry="5.2" fill="none" />
<path d="M704.8324005596642,883.7142514491304 L713.8324005596642,882.1142514491305 M708.7324005596641,879.3142514491304 L709.9324005596642,886.5142514491305" stroke="#1a1a1a" stroke-width="1.3"/>
<path d="M726.3,887.4 L726.7,885.6 L726.8,883.7 L726.8,881.9 L726.5,880.0 L726.0,878.2 L725.2,876.5 L724.3,874.9 L723.2,873.4 L721.8,872.0 L720.4,870.8 L718.7,869.7 L717.0,868.9 L715.2,868.2 L713.3,867.8 L711.4,867.5 L709.4,867.5 L707.5,867.7 L705.6,868.2 L703.7,868.8 L702.0,869.6 L700.3,870.6 L698.8,871.8 L697.5,873.2 L696.3,874.7 L695.4,876.3 L694.6,878.0 L694.1,879.8 L693.7,881.6 L693.6,883.5 L693.8,885.3 L694.1,887.1 L694.7,888.9 L695.5,890.6 L696.5,892.2 L697.7,893.7 L699.1,895.0 L700.6,896.2 L702.3,897.2 L704.0,898.0" fill="none" stroke="#1a1a1a" stroke-width="3.3"/>
<path d="M718.4,881.2 L736.3,889.9 L722.8,897.9Z" fill="#1a1a1a"/>
<path d="M717.3,895.6 L719.1,903.2 L749.5,953.9 L785.1,1009.5 L799.6,999.5 L762.1,945.1 L727.6,900.2 L725.6,895.0 L721.4,901.4Z" fill="#fefefd" stroke="none"/>
<path class="t" d="M717.3,895.6 L719.4,903.7 L721.4,900.2 L724.0,904.5 L725.6,895.0" />
<path class="k" d="M719.1,903.2 L750.6,953.5" />
<path class="k" d="M726.8,900.2 L757.5,948.6" />
<path d="M748.3,954.3 L762.1,945.1 L799.6,999.5 L785.1,1009.5Z" fill="#fefefd" stroke="#1a1a1a" stroke-width="1.5" stroke-linejoin="miter"/>
<path class="t" d="M755.2,950.2 L792.1,1004.9" />
<path class="t" d="M759.0,947.4 L795.8,1002.2" />
</g>
<g id="spkR">
<path d="M1197.9,625.6 L1190.7,628.9 L1183.6,632.4 L1176.7,636.1 L1170.0,640.0 L1163.4,644.1 L1157.1,648.3 L1151.0,652.8 L1145.0,657.4 L1139.3,662.2 L1133.8,667.2 L1128.6,672.3 L1123.6,677.5 L1118.8,682.9 L1114.3,688.4 L1110.1,694.1 L1106.1,699.9 L1102.4,705.8 L1099.0,711.7 L1095.9,717.8 L1093.0,724.0 L1090.4,730.2 L1088.2,736.6 L1086.2,742.9 L1084.5,749.4 L1083.1,755.8 L1082.1,762.3 L1081.3,768.9 L1080.9,775.4 L1080.7,782.0 L1080.2,802.8 L1080.8,810.4 L1081.8,817.9 L1083.1,825.4 L1084.7,832.9 L1086.7,840.3 L1089.0,847.6 L1091.6,854.8 L1094.5,862.0 L1097.7,869.0 L1101.3,876.0 L1105.1,882.8 L1109.3,889.4 L1113.7,896.0 L1118.5,902.4 L1123.5,908.6 L1128.8,914.6 L1134.3,920.5 L1140.1,926.2 L1146.2,931.6 L1152.5,936.9 L1159.0,942.0 L1165.8,946.8 L1172.7,951.4 L1179.9,955.8 L1187.2,959.9 L1194.7,963.8 L1202.4,967.5 L1210.2,970.8 L1218.2,973.9 L1226.3,976.8 L1234.6,979.4 L1242.9,981.7 L1251.4,983.7 L1259.9,985.4 L1268.5,986.9 L1277.1,988.0 L1285.8,988.9 L1294.6,989.5 L1303.3,989.8 L1312.1,989.8 L1320.8,989.5 L1329.6,988.9 L1338.3,988.0 L1346.9,986.9 L1355.5,985.4 L1364.0,983.7 L1372.5,981.7 L1380.8,979.4 L1389.1,976.8 L1397.2,973.9 L1405.2,970.8 L1413.0,967.5 L1420.7,963.8 L1428.2,959.9 L1435.5,955.8 L1442.7,951.4 L1449.6,946.8 L1456.4,942.0 L1462.9,936.9 L1469.2,931.6 L1475.3,926.2 L1481.1,920.5 L1486.6,914.6 L1491.9,908.6 L1496.9,902.4 L1501.7,896.0 L1506.1,889.4 L1510.3,882.8 L1514.1,876.0 L1517.7,869.0 L1520.9,862.0 L1523.8,854.8 L1526.4,847.6 L1528.7,840.3 L1530.7,832.9 L1532.3,825.4 L1533.6,817.9 L1534.6,810.4 L1535.2,802.8 L1535.7,782.0 L1535.5,775.4 L1535.1,768.9 L1534.3,762.3 L1533.3,755.8 L1531.9,749.4 L1530.2,742.9 L1528.2,736.6 L1526.0,730.2 L1523.4,724.0 L1520.5,717.8 L1517.4,711.7 L1514.0,705.8 L1510.3,699.9 L1506.3,694.1 L1502.1,688.4 L1497.6,682.9 L1492.8,677.5 L1487.8,672.3 L1482.6,667.2 L1477.1,662.2 L1471.4,657.4 L1465.4,652.8 L1459.3,648.3 L1453.0,644.1 L1446.4,640.0 L1439.7,636.1 L1432.8,632.4 L1425.7,628.9 L1418.5,625.6 L1418.5,625.6 L1407.7,621.2 L1396.7,617.3 L1385.4,613.8 L1373.9,610.8 L1362.2,608.3 L1350.4,606.3 L1338.4,604.8 L1326.4,603.8 L1314.3,603.3 L1302.1,603.3 L1290.0,603.8 L1278.0,604.8 L1266.0,606.3 L1254.2,608.3 L1242.5,610.8 L1231.0,613.8 L1219.7,617.3 L1208.7,621.2 L1197.9,625.6Z" fill="#fefefd" stroke="none"/>
<path class="k2" d="M1197.9,625.6 L1190.7,628.9 L1183.6,632.4 L1176.7,636.1 L1170.0,640.0 L1163.4,644.1 L1157.1,648.3 L1151.0,652.8 L1145.0,657.4 L1139.3,662.2 L1133.8,667.2 L1128.6,672.3 L1123.6,677.5 L1118.8,682.9 L1114.3,688.4 L1110.1,694.1 L1106.1,699.9 L1102.4,705.8 L1099.0,711.7 L1095.9,717.8 L1093.0,724.0 L1090.4,730.2 L1088.2,736.6 L1086.2,742.9 L1084.5,749.4 L1083.1,755.8 L1082.1,762.3 L1081.3,768.9 L1080.9,775.4 L1080.7,782.0 L1080.2,802.8 L1080.8,810.4 L1081.8,817.9 L1083.1,825.4 L1084.7,832.9 L1086.7,840.3 L1089.0,847.6 L1091.6,854.8 L1094.5,862.0 L1097.7,869.0 L1101.3,876.0 L1105.1,882.8 L1109.3,889.4 L1113.7,896.0 L1118.5,902.4 L1123.5,908.6 L1128.8,914.6 L1134.3,920.5 L1140.1,926.2 L1146.2,931.6 L1152.5,936.9 L1159.0,942.0 L1165.8,946.8 L1172.7,951.4 L1179.9,955.8 L1187.2,959.9 L1194.7,963.8 L1202.4,967.5 L1210.2,970.8 L1218.2,973.9 L1226.3,976.8 L1234.6,979.4 L1242.9,981.7 L1251.4,983.7 L1259.9,985.4 L1268.5,986.9 L1277.1,988.0 L1285.8,988.9 L1294.6,989.5 L1303.3,989.8 L1312.1,989.8 L1320.8,989.5 L1329.6,988.9 L1338.3,988.0 L1346.9,986.9 L1355.5,985.4 L1364.0,983.7 L1372.5,981.7 L1380.8,979.4 L1389.1,976.8 L1397.2,973.9 L1405.2,970.8 L1413.0,967.5 L1420.7,963.8 L1428.2,959.9 L1435.5,955.8 L1442.7,951.4 L1449.6,946.8 L1456.4,942.0 L1462.9,936.9 L1469.2,931.6 L1475.3,926.2 L1481.1,920.5 L1486.6,914.6 L1491.9,908.6 L1496.9,902.4 L1501.7,896.0 L1506.1,889.4 L1510.3,882.8 L1514.1,876.0 L1517.7,869.0 L1520.9,862.0 L1523.8,854.8 L1526.4,847.6 L1528.7,840.3 L1530.7,832.9 L1532.3,825.4 L1533.6,817.9 L1534.6,810.4 L1535.2,802.8 L1535.7,782.0 L1535.5,775.4 L1535.1,768.9 L1534.3,762.3 L1533.3,755.8 L1531.9,749.4 L1530.2,742.9 L1528.2,736.6 L1526.0,730.2 L1523.4,724.0 L1520.5,717.8 L1517.4,711.7 L1514.0,705.8 L1510.3,699.9 L1506.3,694.1 L1502.1,688.4 L1497.6,682.9 L1492.8,677.5 L1487.8,672.3 L1482.6,667.2 L1477.1,662.2 L1471.4,657.4 L1465.4,652.8 L1459.3,648.3 L1453.0,644.1 L1446.4,640.0 L1439.7,636.1 L1432.8,632.4 L1425.7,628.9 L1418.5,625.6" stroke-width="1.5"/>
<path class="t" d="M1535.7,782.0 L1535.4,791.5 L1534.4,801.0 L1532.8,810.4 L1530.6,819.8 L1527.7,829.0 L1524.2,838.2 L1520.1,847.1 L1515.4,855.9 L1510.1,864.4 L1504.2,872.8 L1497.8,880.8 L1490.8,888.6 L1483.3,896.1 L1475.4,903.3 L1466.9,910.1 L1458.0,916.6 L1448.7,922.6 L1439.0,928.3 L1428.9,933.6 L1418.4,938.4 L1407.7,942.8 L1396.7,946.7 L1385.4,950.2 L1373.9,953.2 L1362.2,955.7 L1350.4,957.7 L1338.4,959.2 L1326.4,960.2 L1314.3,960.7 L1302.1,960.7 L1290.0,960.2 L1278.0,959.2 L1266.0,957.7 L1254.2,955.7 L1242.5,953.2 L1231.0,950.2 L1219.7,946.7 L1208.7,942.8 L1198.0,938.4 L1187.5,933.6 L1177.4,928.3 L1167.7,922.6 L1158.4,916.6 L1149.5,910.1 L1141.0,903.3 L1133.1,896.1 L1125.6,888.6 L1118.6,880.8 L1112.2,872.8 L1106.3,864.4 L1101.0,855.9 L1096.3,847.1 L1092.2,838.2 L1088.7,829.0 L1085.8,819.8 L1083.6,810.4 L1082.0,801.0 L1081.0,791.5 L1080.7,782.0" />
<path class="t" d="M1421.2,628.7 L1438.1,637.1 L1454.0,646.7 L1468.7,657.3 L1482.2,668.9 L1494.3,681.4 L1504.9,694.7 L1514.0,708.6 L1521.5,723.2 L1527.3,738.2 L1531.3,753.5 L1533.6,769.1 L1534.2,784.7 L1532.9,800.4 L1529.9,815.9 L1525.1,831.1 L1518.7,845.9 L1510.6,860.2 L1500.8,873.9 L1489.6,886.9 L1477.0,899.1 L1463.0,910.3 L1447.8,920.5 L1431.5,929.6 L1414.2,937.6 L1396.1,944.3 L1377.3,949.7 L1357.9,953.9 L1338.2,956.6 L1318.2,958.0 L1298.2,958.0 L1278.2,956.6 L1258.5,953.9 L1239.1,949.7 L1220.3,944.3 L1202.2,937.6 L1184.9,929.6 L1168.6,920.5 L1153.4,910.3 L1139.4,899.1 L1126.8,886.9 L1115.6,873.9 L1105.8,860.2 L1097.7,845.9 L1091.3,831.1 L1086.5,815.9 L1083.5,800.4 L1082.2,784.7 L1082.8,769.1 L1085.1,753.5 L1089.1,738.2 L1094.9,723.2 L1102.4,708.6 L1111.5,694.7 L1122.1,681.4 L1134.2,668.9 L1147.7,657.3 L1162.4,646.7 L1178.3,637.1 L1195.2,628.7" />
<path class="t" d="M1410.6,629.8 L1427.6,637.7 L1443.6,646.8 L1458.6,657.0 L1472.3,668.3 L1484.7,680.4 L1495.6,693.4 L1505.0,707.2 L1512.8,721.5 L1519.0,736.3 L1523.4,751.6 L1526.0,767.0 L1526.9,782.6 L1526.0,798.2 L1523.3,813.6 L1518.9,828.9 L1512.7,843.7 L1504.9,858.0 L1495.5,871.7 L1484.5,884.7 L1472.1,896.9 L1458.4,908.1 L1443.4,918.3 L1427.4,927.4 L1410.3,935.3 L1392.5,942.0 L1373.9,947.4 L1354.8,951.4 L1335.3,954.1 L1315.6,955.4 L1295.8,955.2 L1276.1,953.7 L1256.7,950.8 L1237.7,946.5 L1219.2,940.8 L1201.5,933.9 L1184.6,925.8 L1168.8,916.4 L1154.1,906.0 L1140.6,894.6 L1128.4,882.3 L1117.8,869.1 L1108.7,855.3 L1101.2,840.9 L1095.3,825.9 L1091.2,810.7 L1088.9,795.2 L1088.3,779.6 L1089.6,764.0 L1092.6,748.6 L1097.3,733.4 L1103.8,718.7 L1111.9,704.5 L1121.6,690.9 L1132.8,678.0 L1145.5,666.0 L1159.4,655.0 L1174.6,645.0 L1190.8,636.1 L1208.0,628.4" />
<path class="t" d="M1431.2,641.1 L1445.9,650.0 L1459.5,659.9 L1472.0,670.7 L1483.3,682.3 L1493.3,694.6 L1501.9,707.6 L1509.2,721.1 L1514.9,735.0 L1519.1,749.3 L1521.8,763.8 L1522.9,778.4 L1522.4,793.1 L1520.3,807.7 L1516.7,822.0 L1511.5,836.1 L1504.9,849.8 L1496.7,862.9 L1487.2,875.5 L1476.4,887.4 L1464.4,898.5 L1451.1,908.7 L1436.9,918.0 L1421.7,926.3 L1405.6,933.5 L1388.9,939.6 L1371.5,944.5 L1353.7,948.3 L1335.5,950.8 L1317.1,952.0 L1298.7,952.0 L1280.3,950.8 L1262.1,948.3 L1244.3,944.5 L1226.9,939.6 L1210.2,933.5 L1194.1,926.3 L1178.9,918.0 L1164.7,908.7 L1151.4,898.5 L1139.4,887.4 L1128.6,875.5 L1119.1,862.9 L1110.9,849.8 L1104.3,836.1 L1099.1,822.0 L1095.5,807.7 L1093.4,793.1 L1092.9,778.4 L1094.0,763.8 L1096.7,749.3 L1100.9,735.0 L1106.6,721.1 L1113.9,707.6 L1122.5,694.6 L1132.5,682.3 L1143.8,670.7 L1156.3,659.9 L1169.9,650.0 L1184.6,641.1" />
<path class="t" d="M1471.0,673.3 L1473.7,676.0 L1476.3,678.8 L1478.9,681.7 L1481.4,684.6 L1483.8,687.5 L1486.2,690.5 L1488.5,693.5 L1490.7,696.5 L1492.8,699.6 L1494.8,702.7 L1496.7,705.9 L1498.6,709.1 L1500.4,712.3 L1502.1,715.5 L1503.7,718.8 L1478.1,726.7 L1476.7,723.8 L1475.2,721.0 L1473.7,718.2 L1472.1,715.5 L1470.4,712.7 L1468.6,710.0 L1466.8,707.3 L1464.9,704.7 L1462.9,702.1 L1460.9,699.5 L1458.8,696.9 L1456.6,694.4 L1454.4,692.0 L1452.1,689.5 L1449.7,687.1Z"/>
<path class="t" d="M1470.2,678.1 L1472.5,680.5 L1474.7,682.9 L1476.8,685.3 L1478.9,687.8 L1480.9,690.3 L1482.9,692.8 L1484.8,695.4 L1486.7,698.0 L1488.5,700.6 L1490.2,703.3 L1491.9,705.9 L1493.5,708.6 L1495.1,711.3 L1496.6,714.1 L1498.0,716.8 L1482.6,721.9 L1481.3,719.4 L1480.0,716.9 L1478.5,714.4 L1477.0,712.0 L1475.5,709.5 L1473.9,707.1 L1472.2,704.7 L1470.5,702.3 L1468.8,700.0 L1466.9,697.6 L1465.1,695.4 L1463.2,693.1 L1461.2,690.8 L1459.2,688.6 L1457.1,686.5Z"/>
<path class="t" d="M1506.2,724.3 L1507.6,727.6 L1508.9,731.0 L1510.1,734.4 L1511.2,737.8 L1512.2,741.2 L1513.2,744.6 L1514.0,748.1 L1514.8,751.6 L1515.5,755.0 L1516.0,758.5 L1516.5,762.0 L1516.9,765.5 L1517.2,769.0 L1517.4,772.6 L1517.6,776.1 L1490.2,776.5 L1490.1,773.4 L1489.9,770.3 L1489.6,767.3 L1489.3,764.2 L1488.8,761.2 L1488.3,758.2 L1487.8,755.2 L1487.1,752.1 L1486.4,749.1 L1485.5,746.2 L1484.6,743.2 L1483.7,740.2 L1482.6,737.3 L1481.5,734.4 L1480.3,731.5Z"/>
<path class="t" d="M1503.4,728.7 L1504.5,731.5 L1505.5,734.4 L1506.5,737.3 L1507.4,740.2 L1508.3,743.1 L1509.0,746.0 L1509.8,748.9 L1510.4,751.9 L1511.0,754.8 L1511.5,757.8 L1511.9,760.8 L1512.3,763.7 L1512.6,766.7 L1512.9,769.7 L1513.0,772.7 L1496.5,773.2 L1496.3,770.5 L1496.1,767.7 L1495.8,765.0 L1495.4,762.3 L1495.0,759.6 L1494.6,756.8 L1494.0,754.1 L1493.4,751.4 L1492.8,748.7 L1492.1,746.1 L1491.3,743.4 L1490.5,740.7 L1489.6,738.1 L1488.6,735.5 L1487.6,732.8Z"/>
<path class="t" d="M1517.6,781.9 L1517.4,785.4 L1517.2,789.0 L1516.9,792.5 L1516.5,796.0 L1516.0,799.5 L1515.5,803.0 L1514.8,806.4 L1514.0,809.9 L1513.2,813.4 L1512.2,816.8 L1511.2,820.2 L1510.1,823.6 L1508.9,827.0 L1507.6,830.4 L1506.2,833.7 L1480.3,826.5 L1481.5,823.6 L1482.6,820.7 L1483.7,817.8 L1484.6,814.8 L1485.5,811.8 L1486.4,808.9 L1487.1,805.9 L1487.8,802.8 L1488.3,799.8 L1488.8,796.8 L1489.3,793.8 L1489.6,790.7 L1489.9,787.7 L1490.1,784.6 L1490.2,781.5Z"/>
<path class="t" d="M1513.0,785.3 L1512.9,788.3 L1512.6,791.3 L1512.3,794.3 L1511.9,797.2 L1511.5,800.2 L1511.0,803.2 L1510.4,806.1 L1509.8,809.1 L1509.0,812.0 L1508.3,814.9 L1507.4,817.8 L1506.5,820.7 L1505.5,823.6 L1504.5,826.5 L1503.4,829.3 L1487.6,825.2 L1488.6,822.5 L1489.6,819.9 L1490.5,817.3 L1491.3,814.6 L1492.1,811.9 L1492.8,809.3 L1493.4,806.6 L1494.0,803.9 L1494.6,801.2 L1495.0,798.4 L1495.4,795.7 L1495.8,793.0 L1496.1,790.3 L1496.3,787.5 L1496.5,784.8Z"/>
<path class="t" d="M1503.7,839.2 L1502.1,842.5 L1500.4,845.7 L1498.6,848.9 L1496.7,852.1 L1494.8,855.3 L1492.8,858.4 L1490.7,861.5 L1488.5,864.5 L1486.2,867.5 L1483.8,870.5 L1481.4,873.4 L1478.9,876.3 L1476.3,879.2 L1473.7,882.0 L1471.0,884.7 L1449.7,870.9 L1452.1,868.5 L1454.4,866.0 L1456.6,863.6 L1458.8,861.1 L1460.9,858.5 L1462.9,855.9 L1464.9,853.3 L1466.8,850.7 L1468.6,848.0 L1470.4,845.3 L1472.1,842.5 L1473.7,839.8 L1475.2,837.0 L1476.7,834.2 L1478.1,831.3Z"/>
<path class="t" d="M1498.0,841.2 L1496.6,843.9 L1495.1,846.7 L1493.5,849.4 L1491.9,852.1 L1490.2,854.7 L1488.5,857.4 L1486.7,860.0 L1484.8,862.6 L1482.9,865.2 L1480.9,867.7 L1478.9,870.2 L1476.8,872.7 L1474.7,875.1 L1472.5,877.5 L1470.2,879.9 L1457.1,871.5 L1459.2,869.4 L1461.2,867.2 L1463.2,864.9 L1465.1,862.6 L1466.9,860.4 L1468.8,858.0 L1470.5,855.7 L1472.2,853.3 L1473.9,850.9 L1475.5,848.5 L1477.0,846.0 L1478.5,843.6 L1480.0,841.1 L1481.3,838.6 L1482.6,836.1Z"/>
<path class="t" d="M1448.4,903.8 L1444.8,906.4 L1441.1,908.9 L1437.3,911.3 L1433.5,913.7 L1429.6,915.9 L1425.6,918.1 L1421.6,920.3 L1417.5,922.3 L1413.4,924.3 L1409.2,926.2 L1404.9,928.0 L1400.6,929.8 L1396.3,931.5 L1391.9,933.0 L1387.4,934.5 L1377.1,914.2 L1381.0,912.9 L1384.8,911.5 L1388.6,910.0 L1392.3,908.5 L1396.0,906.9 L1399.6,905.3 L1403.2,903.6 L1406.8,901.8 L1410.3,899.9 L1413.7,898.0 L1417.1,896.0 L1420.4,894.0 L1423.7,891.9 L1426.9,889.7 L1430.0,887.5Z"/>
<path class="t" d="M1442.2,903.6 L1439.1,905.8 L1435.8,907.9 L1432.6,909.9 L1429.2,911.9 L1425.9,913.8 L1422.4,915.7 L1419.0,917.5 L1415.5,919.3 L1411.9,921.0 L1408.3,922.7 L1404.7,924.3 L1401.0,925.8 L1397.3,927.3 L1393.5,928.7 L1389.7,930.1 L1383.1,917.6 L1386.6,916.3 L1390.1,915.0 L1393.5,913.7 L1396.9,912.3 L1400.2,910.8 L1403.5,909.3 L1406.8,907.7 L1410.0,906.1 L1413.2,904.4 L1416.3,902.7 L1419.4,900.9 L1422.5,899.1 L1425.5,897.2 L1428.5,895.3 L1431.4,893.3Z"/>
<path class="t" d="M1382.0,936.3 L1377.5,937.6 L1372.9,938.8 L1368.3,940.0 L1363.7,941.0 L1359.0,942.0 L1354.3,942.9 L1349.6,943.7 L1344.9,944.4 L1340.1,945.1 L1335.3,945.6 L1330.6,946.1 L1325.8,946.4 L1321.0,946.7 L1316.1,946.9 L1311.3,947.0 L1310.9,925.0 L1315.1,924.9 L1319.3,924.7 L1323.5,924.5 L1327.7,924.2 L1331.8,923.8 L1336.0,923.3 L1340.1,922.8 L1344.2,922.1 L1348.3,921.4 L1352.4,920.7 L1356.4,919.8 L1360.5,918.9 L1364.5,917.9 L1368.4,916.8 L1372.4,915.7Z"/>
<path class="t" d="M1376.4,934.3 L1372.5,935.3 L1368.6,936.3 L1364.6,937.3 L1360.6,938.2 L1356.6,939.0 L1352.5,939.7 L1348.5,940.4 L1344.4,941.0 L1340.3,941.6 L1336.2,942.1 L1332.1,942.5 L1328.0,942.8 L1323.8,943.1 L1319.7,943.3 L1315.5,943.5 L1315.0,929.9 L1318.8,929.8 L1322.6,929.6 L1326.4,929.3 L1330.2,929.0 L1333.9,928.6 L1337.7,928.2 L1341.5,927.7 L1345.2,927.1 L1348.9,926.5 L1352.7,925.8 L1356.3,925.0 L1360.0,924.2 L1363.7,923.3 L1367.3,922.4 L1370.9,921.4Z"/>
<path class="t" d="M1305.5,947.0 L1300.7,946.9 L1295.8,946.7 L1291.0,946.4 L1286.2,946.1 L1281.5,945.6 L1276.7,945.1 L1271.9,944.4 L1267.2,943.7 L1262.5,942.9 L1257.8,942.0 L1253.1,941.0 L1248.5,940.0 L1243.9,938.8 L1239.3,937.6 L1234.8,936.3 L1244.4,915.7 L1248.4,916.8 L1252.3,917.9 L1256.3,918.9 L1260.4,919.8 L1264.4,920.7 L1268.5,921.4 L1272.6,922.1 L1276.7,922.8 L1280.8,923.3 L1285.0,923.8 L1289.1,924.2 L1293.3,924.5 L1297.5,924.7 L1301.7,924.9 L1305.9,925.0Z"/>
<path class="t" d="M1301.3,943.5 L1297.1,943.3 L1293.0,943.1 L1288.8,942.8 L1284.7,942.5 L1280.6,942.1 L1276.5,941.6 L1272.4,941.0 L1268.3,940.4 L1264.3,939.7 L1260.2,939.0 L1256.2,938.2 L1252.2,937.3 L1248.2,936.3 L1244.3,935.3 L1240.4,934.3 L1245.9,921.4 L1249.5,922.4 L1253.1,923.3 L1256.8,924.2 L1260.5,925.0 L1264.1,925.8 L1267.9,926.5 L1271.6,927.1 L1275.3,927.7 L1279.1,928.2 L1282.9,928.6 L1286.6,929.0 L1290.4,929.3 L1294.2,929.6 L1298.0,929.8 L1301.8,929.9Z"/>
<path class="t" d="M1229.4,934.5 L1224.9,933.0 L1220.5,931.5 L1216.2,929.8 L1211.9,928.0 L1207.6,926.2 L1203.4,924.3 L1199.3,922.3 L1195.2,920.3 L1191.2,918.1 L1187.2,915.9 L1183.3,913.7 L1179.5,911.3 L1175.7,908.9 L1172.0,906.4 L1168.4,903.8 L1186.8,887.5 L1189.9,889.7 L1193.1,891.9 L1196.4,894.0 L1199.7,896.0 L1203.1,898.0 L1206.5,899.9 L1210.0,901.8 L1213.6,903.6 L1217.2,905.3 L1220.8,906.9 L1224.5,908.5 L1228.2,910.0 L1232.0,911.5 L1235.8,912.9 L1239.7,914.2Z"/>
<path class="t" d="M1227.1,930.1 L1223.3,928.7 L1219.5,927.3 L1215.8,925.8 L1212.1,924.3 L1208.5,922.7 L1204.9,921.0 L1201.3,919.3 L1197.8,917.5 L1194.4,915.7 L1190.9,913.8 L1187.6,911.9 L1184.2,909.9 L1181.0,907.9 L1177.7,905.8 L1174.6,903.6 L1185.4,893.3 L1188.3,895.3 L1191.3,897.2 L1194.3,899.1 L1197.4,900.9 L1200.5,902.7 L1203.6,904.4 L1206.8,906.1 L1210.0,907.7 L1213.3,909.3 L1216.6,910.8 L1219.9,912.3 L1223.3,913.7 L1226.7,915.0 L1230.2,916.3 L1233.7,917.6Z"/>
<path class="t" d="M1145.8,884.7 L1143.1,882.0 L1140.5,879.2 L1137.9,876.3 L1135.4,873.4 L1133.0,870.5 L1130.6,867.5 L1128.3,864.5 L1126.1,861.5 L1124.0,858.4 L1122.0,855.3 L1120.1,852.1 L1118.2,848.9 L1116.4,845.7 L1114.7,842.5 L1113.1,839.2 L1138.7,831.3 L1140.1,834.2 L1141.6,837.0 L1143.1,839.8 L1144.7,842.5 L1146.4,845.3 L1148.2,848.0 L1150.0,850.7 L1151.9,853.3 L1153.9,855.9 L1155.9,858.5 L1158.0,861.1 L1160.2,863.6 L1162.4,866.0 L1164.7,868.5 L1167.1,870.9Z"/>
<path class="t" d="M1146.6,879.9 L1144.3,877.5 L1142.1,875.1 L1140.0,872.7 L1137.9,870.2 L1135.9,867.7 L1133.9,865.2 L1132.0,862.6 L1130.1,860.0 L1128.3,857.4 L1126.6,854.7 L1124.9,852.1 L1123.3,849.4 L1121.7,846.7 L1120.2,843.9 L1118.8,841.2 L1134.2,836.1 L1135.5,838.6 L1136.8,841.1 L1138.3,843.6 L1139.8,846.0 L1141.3,848.5 L1142.9,850.9 L1144.6,853.3 L1146.3,855.7 L1148.0,858.0 L1149.9,860.4 L1151.7,862.6 L1153.6,864.9 L1155.6,867.2 L1157.6,869.4 L1159.7,871.5Z"/>
<path class="t" d="M1110.6,833.7 L1109.2,830.4 L1107.9,827.0 L1106.7,823.6 L1105.6,820.2 L1104.6,816.8 L1103.6,813.4 L1102.8,809.9 L1102.0,806.4 L1101.3,803.0 L1100.8,799.5 L1100.3,796.0 L1099.9,792.5 L1099.6,789.0 L1099.4,785.4 L1099.2,781.9 L1126.6,781.5 L1126.7,784.6 L1126.9,787.7 L1127.2,790.7 L1127.5,793.8 L1128.0,796.8 L1128.5,799.8 L1129.0,802.8 L1129.7,805.9 L1130.4,808.9 L1131.3,811.8 L1132.2,814.8 L1133.1,817.8 L1134.2,820.7 L1135.3,823.6 L1136.5,826.5Z"/>
<path class="t" d="M1113.4,829.3 L1112.3,826.5 L1111.3,823.6 L1110.3,820.7 L1109.4,817.8 L1108.5,814.9 L1107.8,812.0 L1107.0,809.1 L1106.4,806.1 L1105.8,803.2 L1105.3,800.2 L1104.9,797.2 L1104.5,794.3 L1104.2,791.3 L1103.9,788.3 L1103.8,785.3 L1120.3,784.8 L1120.5,787.5 L1120.7,790.3 L1121.0,793.0 L1121.4,795.7 L1121.8,798.4 L1122.2,801.2 L1122.8,803.9 L1123.4,806.6 L1124.0,809.3 L1124.7,811.9 L1125.5,814.6 L1126.3,817.3 L1127.2,819.9 L1128.2,822.5 L1129.2,825.2Z"/>
<path class="t" d="M1099.2,776.1 L1099.4,772.6 L1099.6,769.0 L1099.9,765.5 L1100.3,762.0 L1100.8,758.5 L1101.3,755.0 L1102.0,751.6 L1102.8,748.1 L1103.6,744.6 L1104.6,741.2 L1105.6,737.8 L1106.7,734.4 L1107.9,731.0 L1109.2,727.6 L1110.6,724.3 L1136.5,731.5 L1135.3,734.4 L1134.2,737.3 L1133.1,740.2 L1132.2,743.2 L1131.3,746.2 L1130.4,749.1 L1129.7,752.1 L1129.0,755.2 L1128.5,758.2 L1128.0,761.2 L1127.5,764.2 L1127.2,767.3 L1126.9,770.3 L1126.7,773.4 L1126.6,776.5Z"/>
<path class="t" d="M1103.8,772.7 L1103.9,769.7 L1104.2,766.7 L1104.5,763.7 L1104.9,760.8 L1105.3,757.8 L1105.8,754.8 L1106.4,751.9 L1107.0,748.9 L1107.8,746.0 L1108.5,743.1 L1109.4,740.2 L1110.3,737.3 L1111.3,734.4 L1112.3,731.5 L1113.4,728.7 L1129.2,732.8 L1128.2,735.5 L1127.2,738.1 L1126.3,740.7 L1125.5,743.4 L1124.7,746.1 L1124.0,748.7 L1123.4,751.4 L1122.8,754.1 L1122.2,756.8 L1121.8,759.6 L1121.4,762.3 L1121.0,765.0 L1120.7,767.7 L1120.5,770.5 L1120.3,773.2Z"/>
<path class="t" d="M1113.1,718.8 L1114.7,715.5 L1116.4,712.3 L1118.2,709.1 L1120.1,705.9 L1122.0,702.7 L1124.0,699.6 L1126.1,696.5 L1128.3,693.5 L1130.6,690.5 L1133.0,687.5 L1135.4,684.6 L1137.9,681.7 L1140.5,678.8 L1143.1,676.0 L1145.8,673.3 L1167.1,687.1 L1164.7,689.5 L1162.4,692.0 L1160.2,694.4 L1158.0,696.9 L1155.9,699.5 L1153.9,702.1 L1151.9,704.7 L1150.0,707.3 L1148.2,710.0 L1146.4,712.7 L1144.7,715.5 L1143.1,718.2 L1141.6,721.0 L1140.1,723.8 L1138.7,726.7Z"/>
<path class="t" d="M1118.8,716.8 L1120.2,714.1 L1121.7,711.3 L1123.3,708.6 L1124.9,705.9 L1126.6,703.3 L1128.3,700.6 L1130.1,698.0 L1132.0,695.4 L1133.9,692.8 L1135.9,690.3 L1137.9,687.8 L1140.0,685.3 L1142.1,682.9 L1144.3,680.5 L1146.6,678.1 L1159.7,686.5 L1157.6,688.6 L1155.6,690.8 L1153.6,693.1 L1151.7,695.4 L1149.9,697.6 L1148.0,700.0 L1146.3,702.3 L1144.6,704.7 L1142.9,707.1 L1141.3,709.5 L1139.8,712.0 L1138.3,714.4 L1136.8,716.9 L1135.5,719.4 L1134.2,721.9Z"/>
<path class="t" d="M1460.4,708.5 L1466.2,717.3 L1471.3,726.5 L1475.5,735.9 L1478.9,745.5 L1481.4,755.3 L1483.1,765.3 L1483.8,775.2 L1483.7,785.3 L1482.7,795.2 L1480.9,805.1 L1478.1,814.9 L1474.5,824.5 L1470.1,833.8 L1464.8,842.9 L1458.8,851.7 L1452.0,860.0 L1444.5,868.0 L1436.3,875.6 L1427.4,882.6 L1418.0,889.1 L1408.0,895.1 L1397.5,900.5 L1386.5,905.3 L1375.2,909.4 L1363.5,912.9 L1351.6,915.7 L1339.4,917.8 L1327.1,919.2 L1314.6,919.9 L1302.2,919.9 L1289.7,919.2 L1277.4,917.8 L1265.2,915.7 L1253.3,912.9 L1241.6,909.4 L1230.3,905.3 L1219.3,900.5 L1208.8,895.1 L1198.8,889.1 L1189.4,882.6 L1180.5,875.6 L1172.3,868.0 L1164.8,860.0 L1158.0,851.7 L1152.0,842.9 L1146.7,833.8 L1142.3,824.5 L1138.7,814.9 L1135.9,805.1 L1134.1,795.2 L1133.1,785.3 L1133.0,775.2 L1133.7,765.3 L1135.4,755.3 L1137.9,745.5 L1141.3,735.9 L1145.5,726.5 L1150.6,717.3 L1156.4,708.5" />
<path class="k" d="M1460.6,719.4 L1465.3,727.9 L1469.3,736.7 L1472.5,745.6 L1475.0,754.8 L1476.7,764.0 L1477.6,773.3 L1477.6,782.6 L1476.9,791.9 L1475.4,801.2 L1473.1,810.3 L1470.1,819.3 L1466.3,828.2 L1461.7,836.7 L1456.4,845.0 L1450.4,853.0 L1443.8,860.7 L1436.5,868.0 L1428.6,874.8 L1420.1,881.2 L1411.1,887.1 L1401.7,892.5 L1391.7,897.4 L1381.4,901.7 L1370.8,905.4 L1359.9,908.6 L1348.7,911.1 L1337.3,913.0 L1325.8,914.3 L1314.2,914.9 L1302.6,914.9 L1291.0,914.3 L1279.5,913.0 L1268.1,911.1 L1256.9,908.6 L1246.0,905.4 L1235.4,901.7 L1225.1,897.4 L1215.1,892.5 L1205.7,887.1 L1196.7,881.2 L1188.2,874.8 L1180.3,868.0 L1173.0,860.7 L1166.4,853.0 L1160.4,845.0 L1155.1,836.7 L1150.5,828.2 L1146.7,819.3 L1143.7,810.3 L1141.4,801.2 L1139.9,791.9 L1139.2,782.6 L1139.2,773.3 L1140.1,764.0 L1141.8,754.8 L1144.3,745.6 L1147.5,736.7 L1151.5,727.9 L1156.2,719.4" />
<path class="t" d="M1458.9,730.2 L1462.6,738.3 L1465.6,746.6 L1467.9,755.0 L1469.6,763.5 L1470.5,772.1 L1470.7,780.8 L1470.2,789.4 L1469.0,798.0 L1467.1,806.5 L1464.4,814.9 L1461.1,823.1 L1457.2,831.1 L1452.5,838.9 L1447.3,846.5 L1441.4,853.7 L1435.0,860.6 L1428.0,867.2 L1420.5,873.3 L1412.4,879.1 L1404.0,884.4 L1395.1,889.3 L1385.8,893.6 L1376.2,897.5 L1366.2,900.8 L1356.1,903.6 L1345.7,905.9 L1335.2,907.6 L1324.5,908.8 L1313.8,909.3 L1303.0,909.3 L1292.3,908.8 L1281.6,907.6 L1271.1,905.9 L1260.7,903.6 L1250.6,900.8 L1240.6,897.5 L1231.0,893.6 L1221.7,889.3 L1212.8,884.4 L1204.4,879.1 L1196.3,873.3 L1188.8,867.2 L1181.8,860.6 L1175.4,853.7 L1169.5,846.5 L1164.3,838.9 L1159.6,831.1 L1155.7,823.1 L1152.4,814.9 L1149.7,806.5 L1147.8,798.0 L1146.6,789.4 L1146.1,780.8 L1146.3,772.1 L1147.2,763.5 L1148.9,755.0 L1151.2,746.6 L1154.2,738.3 L1157.9,730.2" />
<ellipse cx="1455.7" cy="891.9" rx="6.8" ry="5.8" fill="#fefefd" stroke="#1a1a1a" stroke-width="1.1"/>
<ellipse cx="1161.1" cy="891.9" rx="6.8" ry="5.8" fill="#fefefd" stroke="#1a1a1a" stroke-width="1.1"/>
<path class="t" d="M1182.4,657.5 C1180.4,659.5 1173.5,666.2 1169.9,670.0 C1166.4,673.7 1164.3,675.8 1161.2,680.0 C1158.1,684.1 1153.2,690.6 1151.2,694.9 C1149.2,699.3 1149.6,704.3 1149.3,706.2" />
<path class="t" d="M1435.6,657.5 C1437.6,659.5 1444.5,666.2 1448.1,670.0 C1451.6,673.7 1453.7,675.8 1456.8,680.0 C1459.9,684.1 1464.8,690.6 1466.8,694.9 C1468.8,699.3 1468.4,704.3 1468.7,706.2" />
<path class="t" d="M1184.7,660.2 C1182.6,662.1 1176.0,667.7 1172.4,671.5 C1168.9,675.2 1166.4,678.3 1163.2,682.7 C1160.0,687.1 1155.2,693.5 1153.2,697.7 C1151.2,701.9 1151.7,706.0 1151.5,707.7" />
<path class="t" d="M1433.3,660.2 C1435.4,662.1 1442.0,667.7 1445.6,671.5 C1449.1,675.2 1451.6,678.3 1454.8,682.7 C1458.0,687.1 1462.8,693.5 1464.8,697.7 C1466.8,701.9 1466.3,706.0 1466.5,707.7" />
<path class="t" d="M1149.7,706.4 C1151.8,705.4 1158.2,701.6 1162.4,700.2 C1166.7,698.7 1172.9,698.1 1174.9,697.7" />
<path class="t" d="M1468.3,706.4 C1466.2,705.4 1459.8,701.6 1455.6,700.2 C1451.3,698.7 1445.1,698.1 1443.1,697.7" />
<path class="t" d="M1140.0,718.7 C1141.6,717.2 1146.2,712.4 1150.0,709.9 C1153.7,707.5 1158.3,705.6 1162.4,703.9 C1166.6,702.3 1172.9,700.8 1174.9,700.2" />
<path class="t" d="M1478.0,718.7 C1476.4,717.2 1471.8,712.4 1468.0,709.9 C1464.3,707.5 1459.7,705.6 1455.6,703.9 C1451.4,702.3 1445.1,700.8 1443.1,700.2" />
<path class="t" d="M1143.5,724.9 C1145.0,723.5 1149.1,718.9 1152.7,716.4 C1156.3,714.0 1161.2,711.6 1164.9,710.2 C1168.6,708.7 1173.3,708.1 1174.9,707.7" />
<path class="t" d="M1474.5,724.9 C1473.0,723.5 1468.9,718.9 1465.3,716.4 C1461.7,714.0 1456.8,711.6 1453.1,710.2 C1449.4,708.7 1444.7,708.1 1443.1,707.7" />
<path class="t" d="M1159.9,701.4 C1160.4,700.8 1160.2,698.0 1162.4,697.7 C1164.7,697.4 1171.8,699.1 1173.7,699.4" />
<path class="t" d="M1458.1,701.4 C1457.6,700.8 1457.8,698.0 1455.6,697.7 C1453.3,697.4 1446.2,699.1 1444.3,699.4" />
<path class="t" d="M1146.8,675.6 C1147.4,677.3 1148.4,684.6 1150.0,686.2 C1151.5,687.8 1155.2,685.2 1156.2,684.9" />
<path class="t" d="M1471.2,675.6 C1470.6,677.3 1469.6,684.6 1468.0,686.2 C1466.5,687.8 1462.8,685.2 1461.8,684.9" />
<path class="t" d="M1146.8,675.6 C1147.9,676.5 1151.9,679.4 1153.5,680.9 C1155.0,682.5 1155.7,684.3 1156.2,684.9" />
<path class="t" d="M1471.2,675.6 C1470.1,676.5 1466.1,679.4 1464.5,680.9 C1463.0,682.5 1462.3,684.3 1461.8,684.9" />
<path class="t" d="M1174.3,654.3 C1175.9,653.3 1182.5,647.6 1183.7,648.1 C1184.8,648.6 1182.7,656.4 1181.2,657.5 C1179.6,658.5 1175.5,654.9 1174.3,654.3" />
<path class="t" d="M1443.7,654.3 C1442.1,653.3 1435.5,647.6 1434.3,648.1 C1433.2,648.6 1435.3,656.4 1436.8,657.5 C1438.4,658.5 1442.5,654.9 1443.7,654.3" />
<path class="t" d="M1150.0,706.2 C1148.5,707.7 1143.5,711.4 1141.2,715.0 C1138.9,718.5 1137.6,722.9 1136.2,727.5 C1134.9,732.1 1133.8,737.9 1133.1,742.5 C1132.4,747.0 1132.1,752.9 1131.9,755.0" />
<path class="t" d="M1468.0,706.2 C1469.5,707.7 1474.5,711.4 1476.8,715.0 C1479.1,718.5 1480.4,722.9 1481.8,727.5 C1483.1,732.1 1484.2,737.9 1484.9,742.5 C1485.6,747.0 1485.9,752.9 1486.1,755.0" />
<path class="t" d="M1173.7,713.1 C1171.4,713.7 1164.3,715.1 1160.0,716.9 C1155.6,718.6 1151.0,721.1 1147.5,723.7 C1143.9,726.3 1140.2,731.0 1138.7,732.5" />
<path class="t" d="M1444.3,713.1 C1446.6,713.7 1453.7,715.1 1458.0,716.9 C1462.4,718.6 1467.0,721.1 1470.5,723.7 C1474.1,726.3 1477.8,731.0 1479.3,732.5" />
<path class="t" d="M1173.7,718.1 C1171.4,718.7 1164.1,720.1 1160.0,721.9 C1155.8,723.6 1152.1,726.1 1148.7,728.7 C1145.4,731.3 1141.4,736.0 1140.0,737.5" />
<path class="t" d="M1444.3,718.1 C1446.6,718.7 1453.9,720.1 1458.0,721.9 C1462.2,723.6 1465.9,726.1 1469.3,728.7 C1472.6,731.3 1476.6,736.0 1478.0,737.5" />
<path class="t" d="M1133.1,756.2 C1134.6,757.5 1140.4,762.5 1141.8,763.7" />
<path class="t" d="M1484.9,756.2 C1483.4,757.5 1477.6,762.5 1476.2,763.7" />
<path class="t" d="M1147.5,738.7 C1151.4,739.8 1167.2,744.1 1171.2,745.2" />
<path class="t" d="M1470.5,738.7 C1466.6,739.8 1450.8,744.1 1446.8,745.2" />
<path class="t" d="M1150.0,738.1 C1149.4,738.2 1147.6,736.6 1146.8,739.0 C1146.1,741.4 1146.0,748.3 1145.2,752.5 C1144.5,756.6 1142.9,761.8 1142.5,763.7" />
<path class="t" d="M1468.0,738.1 C1468.6,738.2 1470.4,736.6 1471.2,739.0 C1471.9,741.4 1472.0,748.3 1472.8,752.5 C1473.5,756.6 1475.1,761.8 1475.5,763.7" />
<path class="t" d="M1146.8,740.0 C1146.7,742.5 1145.7,748.7 1146.2,755.0 C1146.7,761.2 1147.9,769.5 1150.0,777.4 C1152.1,785.4 1155.8,795.4 1158.7,802.4 C1161.6,809.5 1166.0,817.0 1167.5,819.9" />
<path class="t" d="M1471.2,740.0 C1471.3,742.5 1472.3,748.7 1471.8,755.0 C1471.3,761.2 1470.1,769.5 1468.0,777.4 C1465.9,785.4 1462.2,795.4 1459.3,802.4 C1456.4,809.5 1452.0,817.0 1450.5,819.9" />
<path class="t" d="M1152.5,740.0 C1152.7,743.3 1152.5,752.9 1153.7,760.0 C1155.0,767.0 1157.3,775.4 1160.0,782.4 C1162.7,789.5 1166.2,796.2 1170.0,802.4 C1173.7,808.7 1180.4,817.0 1182.4,819.9" />
<path class="t" d="M1465.5,740.0 C1465.3,743.3 1465.5,752.9 1464.3,760.0 C1463.0,767.0 1460.7,775.4 1458.0,782.4 C1455.3,789.5 1451.8,796.2 1448.0,802.4 C1444.3,808.7 1437.6,817.0 1435.6,819.9" />
<path class="t" d="M1142.5,763.7 C1142.6,766.0 1142.3,772.0 1143.1,777.4 C1143.9,782.9 1145.7,789.1 1147.5,796.2 C1149.2,803.3 1152.7,816.0 1153.7,819.9" />
<path class="t" d="M1475.5,763.7 C1475.4,766.0 1475.7,772.0 1474.9,777.4 C1474.1,782.9 1472.3,789.1 1470.5,796.2 C1468.8,803.3 1465.3,816.0 1464.3,819.9" />
<path class="t" d="M1171.8,755.0 C1172.4,757.5 1173.2,764.1 1175.0,770.0 C1176.7,775.8 1179.5,781.6 1182.4,789.9 C1185.4,798.3 1190.8,814.9 1192.4,819.9" />
<path class="t" d="M1446.2,755.0 C1445.6,757.5 1444.8,764.1 1443.0,770.0 C1441.3,775.8 1438.5,781.6 1435.6,789.9 C1432.6,798.3 1427.2,814.9 1425.6,819.9" />
<path class="t" d="M1174.7,697.5 C1174.5,701.5 1174.2,713.3 1173.7,721.2 C1173.2,729.1 1172.1,739.1 1172.0,745.0 C1171.8,750.8 1172.8,754.3 1173.0,756.2" />
<path class="t" d="M1443.3,697.5 C1443.5,701.5 1443.8,713.3 1444.3,721.2 C1444.8,729.1 1445.9,739.1 1446.0,745.0 C1446.2,750.8 1445.2,754.3 1445.0,756.2" />
<path class="t" d="M1176.5,708.7 C1176.2,712.9 1175.4,725.6 1175.0,733.7 C1174.5,741.8 1173.9,753.5 1173.7,757.5" />
<path class="t" d="M1441.5,708.7 C1441.8,712.9 1442.6,725.6 1443.0,733.7 C1443.5,741.8 1444.1,753.5 1444.3,757.5" />
<path class="t" d="M1125.6,760.0 C1125.5,762.9 1124.8,771.4 1125.0,777.4 C1125.2,783.5 1125.8,789.1 1126.9,796.2 C1127.9,803.3 1130.5,816.0 1131.2,819.9" />
<path class="t" d="M1492.4,760.0 C1492.5,762.9 1493.2,771.4 1493.0,777.4 C1492.8,783.5 1492.2,789.1 1491.1,796.2 C1490.1,803.3 1487.5,816.0 1486.8,819.9" />
<path class="t" d="M1130.0,755.0 C1129.8,758.7 1128.8,770.0 1129.0,777.4 C1129.2,784.9 1130.0,792.9 1131.2,799.9 C1132.4,807.0 1135.4,816.6 1136.2,819.9" />
<path class="t" d="M1488.0,755.0 C1488.2,758.7 1489.2,770.0 1489.0,777.4 C1488.8,784.9 1488.0,792.9 1486.8,799.9 C1485.6,807.0 1482.6,816.6 1481.8,819.9" />
<path class="t" d="M1175.6,830.4 C1177.9,832.7 1184.8,840.8 1189.4,844.2 C1194.0,847.7 1201.0,850.0 1203.3,851.1" />
<path class="t" d="M1442.4,830.4 C1440.1,832.7 1433.2,840.8 1428.6,844.2 C1424.0,847.7 1417.0,850.0 1414.7,851.1" />
<path class="t" d="M1157.2,798.2 C1158.5,802.0 1161.6,813.9 1165.3,821.2 C1168.9,828.5 1172.6,835.4 1179.1,841.9 C1185.6,848.4 1200.2,857.3 1204.4,860.3" />
<path class="t" d="M1460.8,798.2 C1459.5,802.0 1456.4,813.9 1452.7,821.2 C1449.1,828.5 1445.4,835.4 1438.9,841.9 C1432.4,848.4 1417.8,857.3 1413.6,860.3" />
<path class="t" d="M1159.5,807.4 C1161.2,810.8 1165.5,821.9 1169.9,828.1 C1174.3,834.2 1179.8,839.2 1186.0,844.2 C1192.1,849.2 1202.5,853.4 1206.7,858.0 C1210.9,862.6 1210.5,869.5 1211.3,871.8" />
<path class="t" d="M1458.5,807.4 C1456.8,810.8 1452.5,821.9 1448.1,828.1 C1443.7,834.2 1438.2,839.2 1432.0,844.2 C1425.9,849.2 1415.5,853.4 1411.3,858.0 C1407.1,862.6 1407.5,869.5 1406.7,871.8" />
<path class="t" d="M1144.5,798.2 C1146.5,803.5 1151.1,820.8 1156.1,830.4 C1161.0,840.0 1166.4,847.7 1174.5,855.7 C1182.5,863.8 1199.4,874.9 1204.4,878.7" />
<path class="t" d="M1473.5,798.2 C1471.5,803.5 1466.9,820.8 1461.9,830.4 C1457.0,840.0 1451.6,847.7 1443.5,855.7 C1435.5,863.8 1418.6,874.9 1413.6,878.7" />
<path class="t" d="M1152.6,802.8 C1155.1,807.4 1162.0,822.3 1167.6,830.4 C1173.1,838.4 1179.5,845.0 1186.0,851.1 C1192.5,857.3 1203.3,864.5 1206.7,867.2" />
<path class="t" d="M1465.4,802.8 C1462.9,807.4 1456.0,822.3 1450.4,830.4 C1444.9,838.4 1438.5,845.0 1432.0,851.1 C1425.5,857.3 1414.7,864.5 1411.3,867.2" />
<ellipse cx="1163.7" cy="668.1" rx="6.9" ry="6.2" fill="#fefefd" stroke="#1a1a1a" stroke-width="1.1"/>
<ellipse cx="1454.3" cy="668.1" rx="6.9" ry="6.2" fill="#fefefd" stroke="#1a1a1a" stroke-width="1.1"/>
<path d="M1171.9,730.0 L1172.5,756.2 L1178.7,782.5 L1191.2,810.0 L1205.0,842.4 L1204.9,864.9 L1211.2,894.9 L1241.9,874.4 L1237.4,867.9 L1237.4,859.9 L1230.0,829.9 L1221.2,800.0 L1215.0,785.0 L1205.6,761.2Z" fill="#fefefd" stroke="none"/>
<path d="M1446.1,730.0 L1445.5,756.2 L1439.3,782.5 L1426.8,810.0 L1413.0,842.4 L1413.1,864.9 L1406.8,894.9 L1376.1,874.4 L1380.6,867.9 L1380.6,859.9 L1388.0,829.9 L1396.8,800.0 L1403.0,785.0 L1412.4,761.2Z" fill="#fefefd" stroke="none"/>
<path d="M1176.2,675 L1172.4,758 L1205,760 Q1309,830 1413,760 L1445.6,758 L1441.8,675 Z" fill="#fefefd" stroke="none"/>
<path d="M1205.6,761.2 C1207.2,765.2 1212.4,778.5 1215.0,785.0 C1217.6,791.4 1218.7,792.5 1221.2,800.0 C1223.7,807.5 1227.2,819.9 1230.0,829.9 C1232.7,839.9 1236.2,853.6 1237.4,859.9 C1238.7,866.3 1236.7,865.5 1237.4,867.9 C1238.1,870.4 1239.6,872.5 1241.9,874.4 C1244.2,876.3 1245.6,878.0 1251.1,879.4 C1256.6,880.8 1265.3,882.0 1274.9,882.9 C1284.5,883.8 1302.9,884.6 1308.6,884.9 C1314.4,885.3 1303.6,885.3 1309.4,884.9 C1315.1,884.6 1333.5,883.8 1343.1,882.9 C1352.7,882.0 1361.4,880.8 1366.9,879.4 C1372.4,878.0 1373.8,876.3 1376.1,874.4 C1378.4,872.5 1379.9,870.4 1380.6,867.9 C1381.3,865.5 1379.3,866.3 1380.6,859.9 C1381.8,853.6 1385.3,839.9 1388.0,829.9 C1390.8,819.9 1394.3,807.5 1396.8,800.0 C1399.3,792.5 1400.4,791.4 1403.0,785.0 C1405.6,778.5 1410.8,765.2 1412.4,761.2Z" fill="#fefefd" stroke="none"/>
<path class="t" d="M1231.2,827.4 C1236.4,829.9 1249.5,839.0 1262.4,842.4 C1275.4,845.9 1293.5,848.2 1309.0,848.2 C1324.5,848.2 1342.6,845.9 1355.6,842.4 C1368.5,839.0 1381.6,829.9 1386.8,827.4" />
<path class="t" d="M1232.4,829.3 C1237.4,831.8 1249.7,840.6 1262.4,844.1 C1275.2,847.5 1293.5,849.9 1309.0,849.9 C1324.5,849.9 1342.8,847.5 1355.6,844.1 C1368.3,840.6 1380.6,831.8 1385.6,829.3" />
<path class="t" d="M1183.7,730.0 C1185.0,732.6 1188.5,739.4 1191.2,745.6 C1193.9,751.9 1197.3,759.7 1200.0,767.5 C1202.7,775.3 1205.4,784.1 1207.5,792.5 C1209.5,800.8 1210.8,806.2 1212.5,817.4 C1214.1,828.7 1216.5,849.9 1217.5,859.9 C1218.4,869.9 1217.6,871.3 1217.9,877.4 C1218.2,883.6 1219.2,893.7 1219.4,896.9" />
<path class="t" d="M1171.9,730.0 C1172.0,734.4 1171.3,747.5 1172.5,756.2 C1173.6,765.0 1175.6,773.5 1178.7,782.5 C1181.9,791.4 1186.9,800.0 1191.2,810.0 C1195.6,819.9 1202.7,833.3 1205.0,842.4 C1207.2,851.6 1203.9,856.2 1204.9,864.9 C1206.0,873.7 1210.1,889.9 1211.2,894.9" />
<path class="t" d="M1175.6,730.0 C1175.7,734.5 1174.8,747.9 1176.0,756.9 C1177.1,765.8 1179.5,774.9 1182.5,783.7 C1185.4,792.6 1191.8,805.6 1193.7,810.0" />
<path class="t" d="M1191.2,730.0 C1191.8,732.7 1192.6,741.8 1195.0,746.2 C1197.4,750.7 1203.8,754.8 1205.6,756.5" />
<path class="t" d="M1191.2,745.6 L1195.2,747.1" />
<path class="t" d="M1208.7,796.2 L1219.7,802.2 L1223.5,800.7" />
<path class="t" d="M1205.6,761.2 C1205.5,760.7 1204.4,758.9 1205.0,758.1 C1205.5,757.3 1207.5,756.4 1208.7,756.5 C1210.0,756.5 1212.0,757.8 1212.5,758.5 C1212.9,759.2 1211.4,760.3 1211.2,760.6" />
<path class="t" d="M1209.9,894.9 L1219.4,896.9" />
<path class="t" d="M1434.3,730.0 C1433.0,732.6 1429.5,739.4 1426.8,745.6 C1424.1,751.9 1420.7,759.7 1418.0,767.5 C1415.3,775.3 1412.6,784.1 1410.5,792.5 C1408.5,800.8 1407.2,806.2 1405.5,817.4 C1403.9,828.7 1401.5,849.9 1400.5,859.9 C1399.6,869.9 1400.4,871.3 1400.1,877.4 C1399.8,883.6 1398.8,893.7 1398.6,896.9" />
<path class="t" d="M1446.1,730.0 C1446.0,734.4 1446.7,747.5 1445.5,756.2 C1444.4,765.0 1442.4,773.5 1439.3,782.5 C1436.1,791.4 1431.1,800.0 1426.8,810.0 C1422.4,819.9 1415.3,833.3 1413.0,842.4 C1410.8,851.6 1414.1,856.2 1413.1,864.9 C1412.0,873.7 1407.9,889.9 1406.8,894.9" />
<path class="t" d="M1442.4,730.0 C1442.3,734.5 1443.2,747.9 1442.0,756.9 C1440.9,765.8 1438.5,774.9 1435.5,783.7 C1432.6,792.6 1426.2,805.6 1424.3,810.0" />
<path class="t" d="M1426.8,730.0 C1426.2,732.7 1425.4,741.8 1423.0,746.2 C1420.6,750.7 1414.2,754.8 1412.4,756.5" />
<path class="t" d="M1426.8,745.6 L1422.8,747.1" />
<path class="t" d="M1409.3,796.2 L1398.3,802.2 L1394.5,800.7" />
<path class="t" d="M1412.4,761.2 C1412.5,760.7 1413.6,758.9 1413.0,758.1 C1412.5,757.3 1410.5,756.4 1409.3,756.5 C1408.0,756.5 1406.0,757.8 1405.5,758.5 C1405.1,759.2 1406.6,760.3 1406.8,760.6" />
<path class="t" d="M1408.1,894.9 L1398.6,896.9" />
<path class="k" d="M1205.6,761.2 C1207.2,765.2 1212.4,778.5 1215.0,785.0 C1217.6,791.4 1218.7,792.5 1221.2,800.0 C1223.7,807.5 1227.2,819.9 1230.0,829.9 C1232.7,839.9 1236.2,853.6 1237.4,859.9 C1238.7,866.3 1236.7,865.5 1237.4,867.9 C1238.1,870.4 1239.6,872.5 1241.9,874.4 C1244.2,876.3 1245.6,878.0 1251.1,879.4 C1256.6,880.8 1265.3,882.0 1274.9,882.9 C1284.5,883.8 1297.2,884.9 1308.6,884.9 C1320.0,884.9 1333.4,883.8 1343.1,882.9 C1352.8,882.0 1361.4,880.8 1366.9,879.4 C1372.4,878.0 1373.8,876.3 1376.1,874.4 C1378.4,872.5 1379.9,870.4 1380.6,867.9 C1381.3,865.5 1379.3,866.3 1380.6,859.9 C1381.8,853.6 1385.3,839.9 1388.0,829.9 C1390.8,819.9 1394.3,807.5 1396.8,800.0 C1399.3,792.5 1400.4,791.4 1403.0,785.0 C1405.6,778.5 1410.8,765.2 1412.4,761.2" />
<path class="t" d="M1211.2,760.0 C1212.7,763.7 1217.5,775.8 1220.0,782.5 C1222.5,789.1 1224.1,792.9 1226.2,800.0 C1228.3,807.0 1230.0,814.9 1232.4,824.9 C1234.9,834.9 1239.6,853.3 1241.2,859.9 C1242.8,866.6 1240.9,862.9 1241.9,864.9 C1242.9,867.0 1245.2,870.6 1247.4,872.4 C1249.6,874.3 1249.9,875.1 1254.9,876.2 C1259.9,877.3 1268.4,878.2 1277.4,878.9 C1286.3,879.6 1298.1,880.4 1308.6,880.4 C1319.2,880.4 1331.5,879.6 1340.6,878.9 C1349.7,878.2 1358.1,877.3 1363.1,876.2 C1368.1,875.1 1368.4,874.3 1370.6,872.4 C1372.8,870.6 1375.1,867.0 1376.1,864.9 C1377.1,862.9 1375.2,866.6 1376.8,859.9 C1378.4,853.3 1383.1,834.9 1385.6,824.9 C1388.0,814.9 1389.7,807.0 1391.8,800.0 C1393.9,792.9 1395.5,789.1 1398.0,782.5 C1400.5,775.8 1405.3,763.7 1406.8,760.0" />
<path class="t" d="M1238.7,869.9 C1240.1,871.5 1241.4,876.7 1247.4,879.4 C1253.4,882.1 1264.7,884.6 1274.9,886.2 C1285.1,887.7 1297.4,888.7 1308.6,888.7 C1319.9,888.7 1331.9,887.7 1342.3,886.2 C1352.8,884.6 1365.0,882.1 1371.1,879.4 C1377.1,876.7 1377.3,871.5 1378.6,869.9" />
<ellipse cx="1309" cy="688" rx="129.6" ry="103.7" fill="#fefefd" stroke="#1a1a1a" stroke-width="1.5"/>
<ellipse class="t" cx="1309" cy="689.2" rx="128" ry="102.6"/>
<ellipse cx="1309" cy="688.3" rx="98.3" ry="77.8" fill="#fefefd" stroke="#1a1a1a" stroke-width="1.5"/>
<path class="k" d="M1176.4,672.0 L1172.6,758.0" />
<path class="k" d="M1441.6,672.0 L1445.4,758.0" />
<path class="t" d="M1232.4,827.5 C1238.7,829.7 1257.2,838.1 1269.9,841.2 C1282.6,844.3 1295.7,846.2 1308.6,846.2 C1321.5,846.2 1334.6,844.3 1347.3,841.2 C1360.0,838.1 1378.6,829.7 1384.8,827.5" />
<path d="M1259.4,873.9 L1262.9,858.7 L1285.6,860 L1287.4,875 Z" class="kf"/>
<path class="t" d="M1261.6000000000001,872.4 L1264.5,862.2 L1284.0,863.5 L1285.2,873.5"/>
<path d="M1266.1,860.5 L1266.1,839.5 Q1266.1,837.5 1268.1,837.5 L1278.4,836.7 Q1280.4,836.7 1280.4,838.7 L1280.4,860.5" class="kf"/>
<path class="t" d="M1267.8999999999999,860.5 L1267.8999999999999,839.9 M1278.6000000000001,860.5 L1278.6000000000001,839.5"/>
<ellipse class="t" cx="1272.9" cy="843.9" rx="2.2" ry="1.6"/>
<path d="M1324.9,877.4 L1326.5,860.3 L1358.5,856.8 L1362.3,874 Z" class="kf"/>
<path class="t" d="M1327.1000000000001,875.9 L1328.1,863.8 L1356.9,860.3 L1360.1,872.5"/>
<path d="M1332.3,861 L1332.3,839 Q1332.3,837 1334.3,837 L1352.8,836.2 Q1354.8,836.2 1354.8,838.2 L1354.8,861" class="kf"/>
<path class="t" d="M1334.1,861 L1334.1,839.4 M1353.0,861 L1353.0,839"/>
<ellipse class="t" cx="1343.6" cy="848.7" rx="2.2" ry="1.6"/>
<path d="M1113.1,702.6 L1108.6,709.7 L1104.6,717.0 L1101.0,724.4 L1097.9,731.9 L1095.2,739.6 L1092.9,747.3 L1091.1,755.1 L1089.7,763.0 L1088.8,770.9 L1088.4,778.8 L1088.4,786.7 L1088.8,794.6 L1089.8,802.5 L1091.2,810.4 L1093.0,818.2 L1095.3,825.9 L1098.1,833.5 L1101.2,841.0 L1104.9,848.4 L1108.9,855.7 L1113.4,862.8 L1118.2,869.7 L1123.5,876.5 L1129.1,883.1 L1135.2,889.4 L1141.6,895.5 L1148.3,901.4 L1155.4,907.0 L1162.8,912.4 L1170.5,917.5 L1178.5,922.3 L1186.7,926.8 L1195.2,931.1 L1204.0,935.0 L1212.9,938.6 L1222.1,941.8 L1231.5,944.7 L1241.0,947.3 L1250.6,949.6 L1260.4,951.4 L1270.2,953.0 L1280.2,954.1 L1290.2,955.0 L1300.2,955.4 L1310.3,955.5 L1320.3,955.2 L1330.3,954.6 L1340.3,953.6 L1350.2,952.2 L1360.0,950.5 L1369.7,948.4 L1379.3,946.0 L1388.7,943.2 L1398.0,940.1 L1407.0,936.7 L1415.9,932.9 L1424.5,928.9 L1432.9,924.5 L1441.0,919.8 L1448.8,914.8 L1456.4,909.6 L1463.6,904.1 L1470.5,898.3 L1477.1,892.3 L1483.3,886.1 L1489.1,879.6 L1494.5,872.9 L1499.6,866.1 L1504.3,859.1 L1508.5,851.9 L1512.3,844.5 L1515.7,837.1 L1518.7,829.5 L1521.2,821.8 L1523.2,814.0 L1524.8,806.2 L1526.0,798.3 L1526.7,790.4 L1526.9,782.5 L1526.9,782.5 C1527.4,778.8 1529.7,767.9 1529.6,760.0 C1529.5,752.1 1527.2,743.3 1526.2,735.0 C1525.2,726.7 1523.4,718.3 1523.3,710.0 C1523.2,701.7 1524.1,693.3 1525.8,685.0 C1527.5,676.7 1529.5,667.5 1533.3,660.0 C1537.0,652.5 1542.0,645.8 1548.3,640.0 C1554.5,634.2 1563.6,628.3 1570.8,625.0 C1578.0,621.7 1587.9,620.8 1591.3,620.0 L1587.0,607.5 C1583.0,608.5 1571.0,610.4 1563.3,613.7 C1555.6,617.0 1547.9,621.5 1540.8,627.5 C1533.7,633.5 1526.0,642.1 1520.8,650.0 C1515.6,657.9 1512.3,666.7 1509.6,675.0 C1506.9,683.3 1505.4,690.8 1504.6,700.0 C1503.8,709.2 1504.1,720.0 1504.6,730.0 C1505.1,740.0 1507.2,751.8 1507.6,760.0 C1507.9,768.2 1506.8,776.2 1506.7,779.5 L1506.7,779.5 L1506.5,786.7 L1505.9,793.9 L1504.9,801.0 L1503.5,808.1 L1501.7,815.2 L1499.5,822.2 L1496.9,829.0 L1493.9,835.8 L1490.5,842.5 L1486.8,849.0 L1482.7,855.4 L1478.3,861.7 L1473.5,867.8 L1468.3,873.7 L1462.9,879.4 L1457.1,884.9 L1451.0,890.2 L1444.7,895.2 L1438.0,900.1 L1431.1,904.6 L1423.9,909.0 L1416.5,913.0 L1408.9,916.8 L1401.1,920.3 L1393.1,923.5 L1384.9,926.5 L1376.6,929.1 L1368.1,931.4 L1359.5,933.4 L1350.8,935.1 L1342.0,936.5 L1333.1,937.6 L1324.2,938.3 L1315.3,938.7 L1306.3,938.8 L1297.4,938.6 L1288.4,938.0 L1279.5,937.1 L1270.7,935.9 L1262.0,934.4 L1253.3,932.5 L1244.8,930.4 L1236.3,927.9 L1228.1,925.1 L1220.0,922.1 L1212.0,918.7 L1204.3,915.1 L1196.8,911.2 L1189.5,907.0 L1182.5,902.5 L1175.7,897.8 L1169.1,892.9 L1162.9,887.7 L1157.0,882.4 L1151.3,876.8 L1146.0,871.0 L1141.1,865.0 L1136.4,858.8 L1132.1,852.5 L1128.2,846.0 L1124.7,839.4 L1121.5,832.7 L1118.7,825.9 L1116.3,818.9 L1114.2,811.9 L1112.6,804.8 L1111.4,797.7 L1110.6,790.5 L1110.2,783.4 L1110.1,776.2 L1110.5,769.0 L1111.3,761.8 L1112.5,754.7 L1114.1,747.6 L1116.1,740.6 L1118.5,733.6 L1121.3,726.8 L1124.4,720.1 L1128.0,713.4Z" fill="#1a1a1a" stroke="#1a1a1a" stroke-width="0.6"/>
</g>
<g id="tweeter">
<path d="M1025.4,584.7 L989.3,569.2 L988.7,569.3 L987.8,569.8 L986.8,570.8 L985.6,572.4 L984.1,574.3 L982.5,576.8 L980.8,579.6 L978.9,582.9 L976.9,586.5 L974.8,590.4 L972.7,594.5 L970.6,598.9 L968.4,603.4 L966.2,608.0 L964.1,612.7 L962.0,617.3 L960.1,622.0 L958.2,626.5 L956.5,630.8 L954.9,634.9 L953.6,638.8 L952.4,642.3 L951.4,645.5 L950.6,648.3 L950.0,650.7 L949.7,652.6 L949.6,654.1 L949.7,655.1 L950.1,655.6 L985.2,673.5Z" fill="#fefefd" stroke="#1a1a1a" stroke-width="1.3" stroke-linejoin="round"/>
<path class="k" d="M1004.1,573.8 L1003.4,573.7 L1002.5,573.8 L1001.6,574.2 L1000.5,575.0 L999.3,575.9 L998.0,577.2 L996.6,578.7 L995.2,580.5 L993.6,582.5 L992.0,584.8 L990.4,587.3 L988.7,589.9 L987.0,592.8 L985.2,595.8 L983.5,599.0 L981.7,602.3 L980.0,605.7 L978.3,609.2 L976.6,612.7 L975.0,616.3 L973.4,619.9 L971.9,623.4 L970.5,627.0 L969.2,630.5 L968.0,633.9 L966.8,637.2 L965.8,640.3 L964.9,643.4 L964.2,646.2 L963.5,648.9 L963.0,651.4 L962.6,653.7 L962.4,655.7 L962.3,657.5 L962.3,659.1 L962.5,660.4 L962.8,661.4 L963.3,662.1 L963.9,662.6"/>
<path class="t" d="M1001.2,573.8 L1000.8,573.3 L1000.4,572.9 L999.8,572.7 L999.2,572.7 L998.5,572.9 L997.8,573.2 L997.0,573.7 L996.1,574.4 L995.1,575.2 L994.1,576.2 L993.1,577.3 L992.0,578.6 L990.8,580.0 L989.7,581.6 L988.4,583.3 L987.2,585.2 L985.9,587.1 L984.6,589.2 L983.3,591.4"/>
<path class="t" d="M972.4,590.2 L988.9,596.4"/>
<path class="t" d="M971.4,592.4 L988.0,598.6"/>
<path class="t" d="M963.2,617.1 L978.0,623.3"/>
<path class="t" d="M955.0,637.3 L970.2,644.2"/>
<path class="t" d="M954.3,639.5 L969.5,646.3"/>
<path d="M963.9,615.6 L978.9,621.8" stroke="#1a1a1a" stroke-width="2.2" fill="none"/>
<path class="k" d="M967.7,601.4 L974.7,600.9 L975.1,606.4 L981.4,608.0 L986.7,604.6 L988.9,596.4"/>
<path class="t" d="M975.1,606.4 L981.4,608.0 L984.9,602.4"/>
<path class="k" d="M953.7,655.4 L952.5,661.0 L959.9,663.2 L964.3,660.4"/>
<path d="M953.7,659.1 L959.3,661.2 L958.7,663.2 L953.1,661.0Z" fill="#555" stroke="#1a1a1a" stroke-width="0.8"/>
<path class="k" d="M1017.3,580.7 L1016.6,580.6 L1015.7,580.7 L1014.8,581.1 L1013.7,581.9 L1012.5,582.8 L1011.2,584.1 L1009.8,585.6 L1008.4,587.4 L1006.8,589.4 L1005.2,591.7 L1003.6,594.2 L1001.9,596.8 L1000.2,599.7 L998.4,602.7 L996.7,605.9 L994.9,609.2 L993.2,612.6 L991.5,616.1 L989.8,619.6 L988.2,623.2 L986.6,626.8 L985.1,630.3 L983.7,633.9 L982.4,637.4 L981.2,640.8 L980.0,644.1 L979.0,647.2 L978.1,650.3 L977.4,653.1 L976.7,655.8 L976.2,658.3 L975.8,660.6 L975.6,662.6 L975.5,664.4 L975.5,666.0 L975.7,667.3 L976.0,668.3 L976.5,669.0 L977.1,669.5"/>
<path d="M1019.8,582.0 L1019.4,581.8 L1018.9,581.7 L1018.3,581.7 L1017.7,581.9 L1017.0,582.2 L1016.3,582.7 L1015.5,583.2 L1014.7,583.9 L1013.9,584.7 L1013.0,585.7 L1012.0,586.7 L1011.0,587.9 L1010.0,589.2 L1009.0,590.6 L1007.9,592.1 L1006.8,593.7 L1005.7,595.4 L1004.5,597.2 L1003.4,599.1 L1002.2,601.0 L1001.0,603.1 L999.9,605.2 L998.7,607.3 L997.5,609.6 L996.3,611.8 L995.2,614.2 L994.0,616.5 L992.9,618.9 L991.8,621.3 L990.7,623.7 L989.6,626.1 L988.6,628.5 L987.5,630.9 L986.6,633.3 L985.6,635.7 L984.7,638.1 L983.9,640.4 L983.1,642.7 L982.3,644.9 L981.6,647.1 L981.0,649.2 L980.4,651.2 L979.8,653.2 L979.3,655.1 L978.9,656.9 L978.6,658.6 L978.3,660.2 L978.0,661.7 L977.8,663.1 L977.7,664.4 L977.7,665.6 L977.7,666.7 L977.8,667.6 L977.9,668.4 L978.1,669.1 L978.4,669.7 L978.7,670.2 L979.1,670.5 L979.6,670.7" fill="none" stroke="#1a1a1a" stroke-width="2.8" stroke-dasharray="1.3 0.4"/>
<ellipse cx="1002.1" cy="627.4" rx="48.400000000000006" ry="9.0" transform="rotate(-65.6 1002.1 627.4)" fill="#fefefd" stroke="#1a1a1a" stroke-width="1.1" />
<ellipse cx="1005.3" cy="629.1" rx="47.7" ry="8.8" transform="rotate(-65.6 1005.3 629.1)" fill="#fefefd" stroke="#1a1a1a" stroke-width="1.1" />
<ellipse cx="1004.1" cy="629.3" rx="39.5" ry="8.3" transform="rotate(-65.6 1004.1 629.3)" fill="#262626" stroke="#1a1a1a" stroke-width="0.8" />
<clipPath id="gcl"><ellipse cx="1004.1" cy="629.3" rx="39" ry="7.9" transform="rotate(-65.6 1004.1 629.3)"/></clipPath>
<g clip-path="url(#gcl)" fill="#8c8c8c"><circle cx="979.7" cy="663.5" r="0.33"/><circle cx="980.5" cy="664.7" r="0.33"/><circle cx="981.8" cy="664.5" r="0.33"/><circle cx="982.6" cy="665.6" r="0.33"/><circle cx="983.9" cy="665.4" r="0.33"/><circle cx="984.7" cy="666.6" r="0.33"/><circle cx="986.0" cy="666.4" r="0.33"/><circle cx="986.7" cy="667.5" r="0.33"/><circle cx="988.1" cy="667.3" r="0.33"/><circle cx="988.8" cy="668.5" r="0.33"/><circle cx="990.2" cy="668.3" r="0.33"/><circle cx="990.9" cy="669.4" r="0.33"/><circle cx="992.3" cy="669.2" r="0.33"/><circle cx="993.0" cy="670.4" r="0.33"/><circle cx="994.4" cy="670.2" r="0.33"/><circle cx="980.3" cy="662.2" r="0.33"/><circle cx="981.1" cy="663.3" r="0.33"/><circle cx="982.4" cy="663.1" r="0.33"/><circle cx="983.2" cy="664.3" r="0.33"/><circle cx="984.5" cy="664.1" r="0.33"/><circle cx="985.3" cy="665.2" r="0.33"/><circle cx="986.6" cy="665.0" r="0.33"/><circle cx="987.4" cy="666.2" r="0.33"/><circle cx="988.7" cy="666.0" r="0.33"/><circle cx="989.5" cy="667.1" r="0.33"/><circle cx="990.8" cy="666.9" r="0.33"/><circle cx="991.6" cy="668.1" r="0.33"/><circle cx="992.9" cy="667.9" r="0.33"/><circle cx="993.7" cy="669.0" r="0.33"/><circle cx="995.0" cy="668.8" r="0.33"/><circle cx="981.0" cy="660.8" r="0.33"/><circle cx="981.7" cy="662.0" r="0.33"/><circle cx="983.1" cy="661.8" r="0.33"/><circle cx="983.8" cy="662.9" r="0.33"/><circle cx="985.2" cy="662.7" r="0.33"/><circle cx="985.9" cy="663.9" r="0.33"/><circle cx="987.3" cy="663.7" r="0.33"/><circle cx="988.0" cy="664.8" r="0.33"/><circle cx="989.3" cy="664.6" r="0.33"/><circle cx="990.1" cy="665.8" r="0.33"/><circle cx="991.4" cy="665.6" r="0.33"/><circle cx="992.2" cy="666.7" r="0.33"/><circle cx="993.5" cy="666.5" r="0.33"/><circle cx="994.3" cy="667.7" r="0.33"/><circle cx="995.6" cy="667.5" r="0.33"/><circle cx="981.6" cy="659.4" r="0.33"/><circle cx="982.3" cy="660.6" r="0.33"/><circle cx="983.7" cy="660.4" r="0.33"/><circle cx="984.4" cy="661.6" r="0.33"/><circle cx="985.8" cy="661.3" r="0.33"/><circle cx="986.5" cy="662.5" r="0.33"/><circle cx="987.9" cy="662.3" r="0.33"/><circle cx="988.6" cy="663.5" r="0.33"/><circle cx="990.0" cy="663.2" r="0.33"/><circle cx="990.7" cy="664.4" r="0.33"/><circle cx="992.1" cy="664.2" r="0.33"/><circle cx="992.8" cy="665.4" r="0.33"/><circle cx="994.2" cy="665.1" r="0.33"/><circle cx="994.9" cy="666.3" r="0.33"/><circle cx="996.2" cy="666.1" r="0.33"/><circle cx="982.2" cy="658.1" r="0.33"/><circle cx="982.9" cy="659.2" r="0.33"/><circle cx="984.3" cy="659.0" r="0.33"/><circle cx="985.0" cy="660.2" r="0.33"/><circle cx="986.4" cy="660.0" r="0.33"/><circle cx="987.1" cy="661.1" r="0.33"/><circle cx="988.5" cy="660.9" r="0.33"/><circle cx="989.2" cy="662.1" r="0.33"/><circle cx="990.6" cy="661.9" r="0.33"/><circle cx="991.3" cy="663.0" r="0.33"/><circle cx="992.7" cy="662.8" r="0.33"/><circle cx="993.4" cy="664.0" r="0.33"/><circle cx="994.8" cy="663.8" r="0.33"/><circle cx="995.5" cy="664.9" r="0.33"/><circle cx="996.9" cy="664.7" r="0.33"/><circle cx="982.8" cy="656.7" r="0.33"/><circle cx="983.6" cy="657.9" r="0.33"/><circle cx="984.9" cy="657.7" r="0.33"/><circle cx="985.7" cy="658.8" r="0.33"/><circle cx="987.0" cy="658.6" r="0.33"/><circle cx="987.8" cy="659.8" r="0.33"/><circle cx="989.1" cy="659.6" r="0.33"/><circle cx="989.8" cy="660.7" r="0.33"/><circle cx="991.2" cy="660.5" r="0.33"/><circle cx="991.9" cy="661.7" r="0.33"/><circle cx="993.3" cy="661.5" r="0.33"/><circle cx="994.0" cy="662.6" r="0.33"/><circle cx="995.4" cy="662.4" r="0.33"/><circle cx="996.1" cy="663.6" r="0.33"/><circle cx="997.5" cy="663.4" r="0.33"/><circle cx="983.4" cy="655.3" r="0.33"/><circle cx="984.2" cy="656.5" r="0.33"/><circle cx="985.5" cy="656.3" r="0.33"/><circle cx="986.3" cy="657.5" r="0.33"/><circle cx="987.6" cy="657.2" r="0.33"/><circle cx="988.4" cy="658.4" r="0.33"/><circle cx="989.7" cy="658.2" r="0.33"/><circle cx="990.5" cy="659.4" r="0.33"/><circle cx="991.8" cy="659.1" r="0.33"/><circle cx="992.6" cy="660.3" r="0.33"/><circle cx="993.9" cy="660.1" r="0.33"/><circle cx="994.7" cy="661.3" r="0.33"/><circle cx="996.0" cy="661.0" r="0.33"/><circle cx="996.8" cy="662.2" r="0.33"/><circle cx="998.1" cy="662.0" r="0.33"/><circle cx="984.1" cy="654.0" r="0.33"/><circle cx="984.8" cy="655.1" r="0.33"/><circle cx="986.2" cy="654.9" r="0.33"/><circle cx="986.9" cy="656.1" r="0.33"/><circle cx="988.3" cy="655.9" r="0.33"/><circle cx="989.0" cy="657.0" r="0.33"/><circle cx="990.3" cy="656.8" r="0.33"/><circle cx="991.1" cy="658.0" r="0.33"/><circle cx="992.4" cy="657.8" r="0.33"/><circle cx="993.2" cy="658.9" r="0.33"/><circle cx="994.5" cy="658.7" r="0.33"/><circle cx="995.3" cy="659.9" r="0.33"/><circle cx="996.6" cy="659.7" r="0.33"/><circle cx="997.4" cy="660.8" r="0.33"/><circle cx="998.7" cy="660.6" r="0.33"/><circle cx="984.7" cy="652.6" r="0.33"/><circle cx="985.4" cy="653.8" r="0.33"/><circle cx="986.8" cy="653.6" r="0.33"/><circle cx="987.5" cy="654.7" r="0.33"/><circle cx="988.9" cy="654.5" r="0.33"/><circle cx="989.6" cy="655.7" r="0.33"/><circle cx="991.0" cy="655.5" r="0.33"/><circle cx="991.7" cy="656.6" r="0.33"/><circle cx="993.1" cy="656.4" r="0.33"/><circle cx="993.8" cy="657.6" r="0.33"/><circle cx="995.2" cy="657.4" r="0.33"/><circle cx="995.9" cy="658.5" r="0.33"/><circle cx="997.3" cy="658.3" r="0.33"/><circle cx="998.0" cy="659.5" r="0.33"/><circle cx="999.3" cy="659.3" r="0.33"/><circle cx="985.3" cy="651.2" r="0.33"/><circle cx="986.0" cy="652.4" r="0.33"/><circle cx="987.4" cy="652.2" r="0.33"/><circle cx="988.1" cy="653.4" r="0.33"/><circle cx="989.5" cy="653.1" r="0.33"/><circle cx="990.2" cy="654.3" r="0.33"/><circle cx="991.6" cy="654.1" r="0.33"/><circle cx="992.3" cy="655.3" r="0.33"/><circle cx="993.7" cy="655.0" r="0.33"/><circle cx="994.4" cy="656.2" r="0.33"/><circle cx="995.8" cy="656.0" r="0.33"/><circle cx="996.5" cy="657.2" r="0.33"/><circle cx="997.9" cy="656.9" r="0.33"/><circle cx="998.6" cy="658.1" r="0.33"/><circle cx="1000.0" cy="657.9" r="0.33"/><circle cx="985.9" cy="649.9" r="0.33"/><circle cx="986.7" cy="651.0" r="0.33"/><circle cx="988.0" cy="650.8" r="0.33"/><circle cx="988.8" cy="652.0" r="0.33"/><circle cx="990.1" cy="651.8" r="0.33"/><circle cx="990.9" cy="652.9" r="0.33"/><circle cx="992.2" cy="652.7" r="0.33"/><circle cx="992.9" cy="653.9" r="0.33"/><circle cx="994.3" cy="653.7" r="0.33"/><circle cx="995.0" cy="654.8" r="0.33"/><circle cx="996.4" cy="654.6" r="0.33"/><circle cx="997.1" cy="655.8" r="0.33"/><circle cx="998.5" cy="655.6" r="0.33"/><circle cx="999.2" cy="656.7" r="0.33"/><circle cx="1000.6" cy="656.5" r="0.33"/><circle cx="986.5" cy="648.5" r="0.33"/><circle cx="987.3" cy="649.7" r="0.33"/><circle cx="988.6" cy="649.5" r="0.33"/><circle cx="989.4" cy="650.6" r="0.33"/><circle cx="990.7" cy="650.4" r="0.33"/><circle cx="991.5" cy="651.6" r="0.33"/><circle cx="992.8" cy="651.4" r="0.33"/><circle cx="993.6" cy="652.5" r="0.33"/><circle cx="994.9" cy="652.3" r="0.33"/><circle cx="995.7" cy="653.5" r="0.33"/><circle cx="997.0" cy="653.3" r="0.33"/><circle cx="997.8" cy="654.4" r="0.33"/><circle cx="999.1" cy="654.2" r="0.33"/><circle cx="999.8" cy="655.4" r="0.33"/><circle cx="1001.2" cy="655.2" r="0.33"/><circle cx="987.2" cy="647.1" r="0.33"/><circle cx="987.9" cy="648.3" r="0.33"/><circle cx="989.3" cy="648.1" r="0.33"/><circle cx="990.0" cy="649.3" r="0.33"/><circle cx="991.4" cy="649.0" r="0.33"/><circle cx="992.1" cy="650.2" r="0.33"/><circle cx="993.4" cy="650.0" r="0.33"/><circle cx="994.2" cy="651.2" r="0.33"/><circle cx="995.5" cy="650.9" r="0.33"/><circle cx="996.3" cy="652.1" r="0.33"/><circle cx="997.6" cy="651.9" r="0.33"/><circle cx="998.4" cy="653.1" r="0.33"/><circle cx="999.7" cy="652.8" r="0.33"/><circle cx="1000.5" cy="654.0" r="0.33"/><circle cx="1001.8" cy="653.8" r="0.33"/><circle cx="987.8" cy="645.8" r="0.33"/><circle cx="988.5" cy="646.9" r="0.33"/><circle cx="989.9" cy="646.7" r="0.33"/><circle cx="990.6" cy="647.9" r="0.33"/><circle cx="992.0" cy="647.7" r="0.33"/><circle cx="992.7" cy="648.8" r="0.33"/><circle cx="994.1" cy="648.6" r="0.33"/><circle cx="994.8" cy="649.8" r="0.33"/><circle cx="996.2" cy="649.6" r="0.33"/><circle cx="996.9" cy="650.7" r="0.33"/><circle cx="998.3" cy="650.5" r="0.33"/><circle cx="999.0" cy="651.7" r="0.33"/><circle cx="1000.4" cy="651.5" r="0.33"/><circle cx="1001.1" cy="652.6" r="0.33"/><circle cx="1002.4" cy="652.4" r="0.33"/><circle cx="988.4" cy="644.4" r="0.33"/><circle cx="989.1" cy="645.6" r="0.33"/><circle cx="990.5" cy="645.4" r="0.33"/><circle cx="991.2" cy="646.5" r="0.33"/><circle cx="992.6" cy="646.3" r="0.33"/><circle cx="993.3" cy="647.5" r="0.33"/><circle cx="994.7" cy="647.3" r="0.33"/><circle cx="995.4" cy="648.4" r="0.33"/><circle cx="996.8" cy="648.2" r="0.33"/><circle cx="997.5" cy="649.4" r="0.33"/><circle cx="998.9" cy="649.2" r="0.33"/><circle cx="999.6" cy="650.3" r="0.33"/><circle cx="1001.0" cy="650.1" r="0.33"/><circle cx="1001.7" cy="651.3" r="0.33"/><circle cx="1003.1" cy="651.1" r="0.33"/><circle cx="989.0" cy="643.0" r="0.33"/><circle cx="989.8" cy="644.2" r="0.33"/><circle cx="991.1" cy="644.0" r="0.33"/><circle cx="991.9" cy="645.2" r="0.33"/><circle cx="993.2" cy="645.0" r="0.33"/><circle cx="993.9" cy="646.1" r="0.33"/><circle cx="995.3" cy="645.9" r="0.33"/><circle cx="996.0" cy="647.1" r="0.33"/><circle cx="997.4" cy="646.9" r="0.33"/><circle cx="998.1" cy="648.0" r="0.33"/><circle cx="999.5" cy="647.8" r="0.33"/><circle cx="1000.2" cy="649.0" r="0.33"/><circle cx="1001.6" cy="648.8" r="0.33"/><circle cx="1002.3" cy="649.9" r="0.33"/><circle cx="1003.7" cy="649.7" r="0.33"/><circle cx="989.6" cy="641.7" r="0.33"/><circle cx="990.4" cy="642.8" r="0.33"/><circle cx="991.7" cy="642.6" r="0.33"/><circle cx="992.5" cy="643.8" r="0.33"/><circle cx="993.8" cy="643.6" r="0.33"/><circle cx="994.6" cy="644.7" r="0.33"/><circle cx="995.9" cy="644.5" r="0.33"/><circle cx="996.7" cy="645.7" r="0.33"/><circle cx="998.0" cy="645.5" r="0.33"/><circle cx="998.8" cy="646.6" r="0.33"/><circle cx="1000.1" cy="646.4" r="0.33"/><circle cx="1000.9" cy="647.6" r="0.33"/><circle cx="1002.2" cy="647.4" r="0.33"/><circle cx="1002.9" cy="648.5" r="0.33"/><circle cx="1004.3" cy="648.3" r="0.33"/><circle cx="990.3" cy="640.3" r="0.33"/><circle cx="991.0" cy="641.5" r="0.33"/><circle cx="992.4" cy="641.3" r="0.33"/><circle cx="993.1" cy="642.4" r="0.33"/><circle cx="994.5" cy="642.2" r="0.33"/><circle cx="995.2" cy="643.4" r="0.33"/><circle cx="996.5" cy="643.2" r="0.33"/><circle cx="997.3" cy="644.3" r="0.33"/><circle cx="998.6" cy="644.1" r="0.33"/><circle cx="999.4" cy="645.3" r="0.33"/><circle cx="1000.7" cy="645.1" r="0.33"/><circle cx="1001.5" cy="646.2" r="0.33"/><circle cx="1002.8" cy="646.0" r="0.33"/><circle cx="1003.6" cy="647.2" r="0.33"/><circle cx="1004.9" cy="647.0" r="0.33"/><circle cx="990.9" cy="639.0" r="0.33"/><circle cx="991.6" cy="640.1" r="0.33"/><circle cx="993.0" cy="639.9" r="0.33"/><circle cx="993.7" cy="641.1" r="0.33"/><circle cx="995.1" cy="640.9" r="0.33"/><circle cx="995.8" cy="642.0" r="0.33"/><circle cx="997.2" cy="641.8" r="0.33"/><circle cx="997.9" cy="643.0" r="0.33"/><circle cx="999.3" cy="642.8" r="0.33"/><circle cx="1000.0" cy="643.9" r="0.33"/><circle cx="1001.4" cy="643.7" r="0.33"/><circle cx="1002.1" cy="644.9" r="0.33"/><circle cx="1003.4" cy="644.7" r="0.33"/><circle cx="1004.2" cy="645.8" r="0.33"/><circle cx="1005.5" cy="645.6" r="0.33"/><circle cx="991.5" cy="637.6" r="0.33"/><circle cx="992.2" cy="638.7" r="0.33"/><circle cx="993.6" cy="638.5" r="0.33"/><circle cx="994.3" cy="639.7" r="0.33"/><circle cx="995.7" cy="639.5" r="0.33"/><circle cx="996.4" cy="640.6" r="0.33"/><circle cx="997.8" cy="640.4" r="0.33"/><circle cx="998.5" cy="641.6" r="0.33"/><circle cx="999.9" cy="641.4" r="0.33"/><circle cx="1000.6" cy="642.5" r="0.33"/><circle cx="1002.0" cy="642.3" r="0.33"/><circle cx="1002.7" cy="643.5" r="0.33"/><circle cx="1004.1" cy="643.3" r="0.33"/><circle cx="1004.8" cy="644.4" r="0.33"/><circle cx="1006.2" cy="644.2" r="0.33"/><circle cx="992.1" cy="636.2" r="0.33"/><circle cx="992.9" cy="637.4" r="0.33"/><circle cx="994.2" cy="637.2" r="0.33"/><circle cx="995.0" cy="638.3" r="0.33"/><circle cx="996.3" cy="638.1" r="0.33"/><circle cx="997.0" cy="639.3" r="0.33"/><circle cx="998.4" cy="639.1" r="0.33"/><circle cx="999.1" cy="640.2" r="0.33"/><circle cx="1000.5" cy="640.0" r="0.33"/><circle cx="1001.2" cy="641.2" r="0.33"/><circle cx="1002.6" cy="641.0" r="0.33"/><circle cx="1003.3" cy="642.1" r="0.33"/><circle cx="1004.7" cy="641.9" r="0.33"/><circle cx="1005.4" cy="643.1" r="0.33"/><circle cx="1006.8" cy="642.9" r="0.33"/><circle cx="992.7" cy="634.9" r="0.33"/><circle cx="993.5" cy="636.0" r="0.33"/><circle cx="994.8" cy="635.8" r="0.33"/><circle cx="995.6" cy="637.0" r="0.33"/><circle cx="996.9" cy="636.8" r="0.33"/><circle cx="997.7" cy="637.9" r="0.33"/><circle cx="999.0" cy="637.7" r="0.33"/><circle cx="999.8" cy="638.9" r="0.33"/><circle cx="1001.1" cy="638.7" r="0.33"/><circle cx="1001.9" cy="639.8" r="0.33"/><circle cx="1003.2" cy="639.6" r="0.33"/><circle cx="1004.0" cy="640.8" r="0.33"/><circle cx="1005.3" cy="640.6" r="0.33"/><circle cx="1006.0" cy="641.7" r="0.33"/><circle cx="1007.4" cy="641.5" r="0.33"/><circle cx="993.4" cy="633.5" r="0.33"/><circle cx="994.1" cy="634.6" r="0.33"/><circle cx="995.5" cy="634.4" r="0.33"/><circle cx="996.2" cy="635.6" r="0.33"/><circle cx="997.6" cy="635.4" r="0.33"/><circle cx="998.3" cy="636.5" r="0.33"/><circle cx="999.6" cy="636.3" r="0.33"/><circle cx="1000.4" cy="637.5" r="0.33"/><circle cx="1001.7" cy="637.3" r="0.33"/><circle cx="1002.5" cy="638.4" r="0.33"/><circle cx="1003.8" cy="638.2" r="0.33"/><circle cx="1004.6" cy="639.4" r="0.33"/><circle cx="1005.9" cy="639.2" r="0.33"/><circle cx="1006.7" cy="640.3" r="0.33"/><circle cx="1008.0" cy="640.1" r="0.33"/><circle cx="994.0" cy="632.1" r="0.33"/><circle cx="994.7" cy="633.3" r="0.33"/><circle cx="996.1" cy="633.1" r="0.33"/><circle cx="996.8" cy="634.2" r="0.33"/><circle cx="998.2" cy="634.0" r="0.33"/><circle cx="998.9" cy="635.2" r="0.33"/><circle cx="1000.3" cy="635.0" r="0.33"/><circle cx="1001.0" cy="636.1" r="0.33"/><circle cx="1002.4" cy="635.9" r="0.33"/><circle cx="1003.1" cy="637.1" r="0.33"/><circle cx="1004.5" cy="636.9" r="0.33"/><circle cx="1005.2" cy="638.0" r="0.33"/><circle cx="1006.5" cy="637.8" r="0.33"/><circle cx="1007.3" cy="639.0" r="0.33"/><circle cx="1008.6" cy="638.8" r="0.33"/><circle cx="994.6" cy="630.8" r="0.33"/><circle cx="995.3" cy="631.9" r="0.33"/><circle cx="996.7" cy="631.7" r="0.33"/><circle cx="997.4" cy="632.9" r="0.33"/><circle cx="998.8" cy="632.7" r="0.33"/><circle cx="999.5" cy="633.8" r="0.33"/><circle cx="1000.9" cy="633.6" r="0.33"/><circle cx="1001.6" cy="634.8" r="0.33"/><circle cx="1003.0" cy="634.6" r="0.33"/><circle cx="1003.7" cy="635.7" r="0.33"/><circle cx="1005.1" cy="635.5" r="0.33"/><circle cx="1005.8" cy="636.7" r="0.33"/><circle cx="1007.2" cy="636.5" r="0.33"/><circle cx="1007.9" cy="637.6" r="0.33"/><circle cx="1009.3" cy="637.4" r="0.33"/><circle cx="995.2" cy="629.4" r="0.33"/><circle cx="996.0" cy="630.5" r="0.33"/><circle cx="997.3" cy="630.3" r="0.33"/><circle cx="998.1" cy="631.5" r="0.33"/><circle cx="999.4" cy="631.3" r="0.33"/><circle cx="1000.1" cy="632.4" r="0.33"/><circle cx="1001.5" cy="632.2" r="0.33"/><circle cx="1002.2" cy="633.4" r="0.33"/><circle cx="1003.6" cy="633.2" r="0.33"/><circle cx="1004.3" cy="634.3" r="0.33"/><circle cx="1005.7" cy="634.1" r="0.33"/><circle cx="1006.4" cy="635.3" r="0.33"/><circle cx="1007.8" cy="635.1" r="0.33"/><circle cx="1008.5" cy="636.2" r="0.33"/><circle cx="1009.9" cy="636.0" r="0.33"/><circle cx="995.8" cy="628.0" r="0.33"/><circle cx="996.6" cy="629.2" r="0.33"/><circle cx="997.9" cy="629.0" r="0.33"/><circle cx="998.7" cy="630.1" r="0.33"/><circle cx="1000.0" cy="629.9" r="0.33"/><circle cx="1000.8" cy="631.1" r="0.33"/><circle cx="1002.1" cy="630.9" r="0.33"/><circle cx="1002.9" cy="632.0" r="0.33"/><circle cx="1004.2" cy="631.8" r="0.33"/><circle cx="1005.0" cy="633.0" r="0.33"/><circle cx="1006.3" cy="632.8" r="0.33"/><circle cx="1007.0" cy="633.9" r="0.33"/><circle cx="1008.4" cy="633.7" r="0.33"/><circle cx="1009.1" cy="634.9" r="0.33"/><circle cx="1010.5" cy="634.7" r="0.33"/><circle cx="996.5" cy="626.7" r="0.33"/><circle cx="997.2" cy="627.8" r="0.33"/><circle cx="998.6" cy="627.6" r="0.33"/><circle cx="999.3" cy="628.8" r="0.33"/><circle cx="1000.6" cy="628.6" r="0.33"/><circle cx="1001.4" cy="629.7" r="0.33"/><circle cx="1002.7" cy="629.5" r="0.33"/><circle cx="1003.5" cy="630.7" r="0.33"/><circle cx="1004.8" cy="630.5" r="0.33"/><circle cx="1005.6" cy="631.6" r="0.33"/><circle cx="1006.9" cy="631.4" r="0.33"/><circle cx="1007.7" cy="632.6" r="0.33"/><circle cx="1009.0" cy="632.4" r="0.33"/><circle cx="1009.8" cy="633.5" r="0.33"/><circle cx="1011.1" cy="633.3" r="0.33"/><circle cx="997.1" cy="625.3" r="0.33"/><circle cx="997.8" cy="626.4" r="0.33"/><circle cx="999.2" cy="626.2" r="0.33"/><circle cx="999.9" cy="627.4" r="0.33"/><circle cx="1001.3" cy="627.2" r="0.33"/><circle cx="1002.0" cy="628.3" r="0.33"/><circle cx="1003.4" cy="628.1" r="0.33"/><circle cx="1004.1" cy="629.3" r="0.33"/><circle cx="1005.5" cy="629.1" r="0.33"/><circle cx="1006.2" cy="630.3" r="0.33"/><circle cx="1007.6" cy="630.0" r="0.33"/><circle cx="1008.3" cy="631.2" r="0.33"/><circle cx="1009.6" cy="631.0" r="0.33"/><circle cx="1010.4" cy="632.2" r="0.33"/><circle cx="1011.7" cy="631.9" r="0.33"/><circle cx="997.7" cy="623.9" r="0.33"/><circle cx="998.4" cy="625.1" r="0.33"/><circle cx="999.8" cy="624.9" r="0.33"/><circle cx="1000.5" cy="626.0" r="0.33"/><circle cx="1001.9" cy="625.8" r="0.33"/><circle cx="1002.6" cy="627.0" r="0.33"/><circle cx="1004.0" cy="626.8" r="0.33"/><circle cx="1004.7" cy="627.9" r="0.33"/><circle cx="1006.1" cy="627.7" r="0.33"/><circle cx="1006.8" cy="628.9" r="0.33"/><circle cx="1008.2" cy="628.7" r="0.33"/><circle cx="1008.9" cy="629.8" r="0.33"/><circle cx="1010.3" cy="629.6" r="0.33"/><circle cx="1011.0" cy="630.8" r="0.33"/><circle cx="1012.4" cy="630.6" r="0.33"/><circle cx="998.3" cy="622.6" r="0.33"/><circle cx="999.1" cy="623.7" r="0.33"/><circle cx="1000.4" cy="623.5" r="0.33"/><circle cx="1001.2" cy="624.7" r="0.33"/><circle cx="1002.5" cy="624.5" r="0.33"/><circle cx="1003.2" cy="625.6" r="0.33"/><circle cx="1004.6" cy="625.4" r="0.33"/><circle cx="1005.3" cy="626.6" r="0.33"/><circle cx="1006.7" cy="626.4" r="0.33"/><circle cx="1007.4" cy="627.5" r="0.33"/><circle cx="1008.8" cy="627.3" r="0.33"/><circle cx="1009.5" cy="628.5" r="0.33"/><circle cx="1010.9" cy="628.3" r="0.33"/><circle cx="1011.6" cy="629.4" r="0.33"/><circle cx="1013.0" cy="629.2" r="0.33"/><circle cx="998.9" cy="621.2" r="0.33"/><circle cx="999.7" cy="622.4" r="0.33"/><circle cx="1001.0" cy="622.1" r="0.33"/><circle cx="1001.8" cy="623.3" r="0.33"/><circle cx="1003.1" cy="623.1" r="0.33"/><circle cx="1003.9" cy="624.3" r="0.33"/><circle cx="1005.2" cy="624.0" r="0.33"/><circle cx="1006.0" cy="625.2" r="0.33"/><circle cx="1007.3" cy="625.0" r="0.33"/><circle cx="1008.1" cy="626.2" r="0.33"/><circle cx="1009.4" cy="625.9" r="0.33"/><circle cx="1010.1" cy="627.1" r="0.33"/><circle cx="1011.5" cy="626.9" r="0.33"/><circle cx="1012.2" cy="628.1" r="0.33"/><circle cx="1013.6" cy="627.8" r="0.33"/><circle cx="999.6" cy="619.8" r="0.33"/><circle cx="1000.3" cy="621.0" r="0.33"/><circle cx="1001.7" cy="620.8" r="0.33"/><circle cx="1002.4" cy="621.9" r="0.33"/><circle cx="1003.7" cy="621.7" r="0.33"/><circle cx="1004.5" cy="622.9" r="0.33"/><circle cx="1005.8" cy="622.7" r="0.33"/><circle cx="1006.6" cy="623.8" r="0.33"/><circle cx="1007.9" cy="623.6" r="0.33"/><circle cx="1008.7" cy="624.8" r="0.33"/><circle cx="1010.0" cy="624.6" r="0.33"/><circle cx="1010.8" cy="625.7" r="0.33"/><circle cx="1012.1" cy="625.5" r="0.33"/><circle cx="1012.9" cy="626.7" r="0.33"/><circle cx="1014.2" cy="626.5" r="0.33"/><circle cx="1000.2" cy="618.5" r="0.33"/><circle cx="1000.9" cy="619.6" r="0.33"/><circle cx="1002.3" cy="619.4" r="0.33"/><circle cx="1003.0" cy="620.6" r="0.33"/><circle cx="1004.4" cy="620.4" r="0.33"/><circle cx="1005.1" cy="621.5" r="0.33"/><circle cx="1006.5" cy="621.3" r="0.33"/><circle cx="1007.2" cy="622.5" r="0.33"/><circle cx="1008.6" cy="622.3" r="0.33"/><circle cx="1009.3" cy="623.4" r="0.33"/><circle cx="1010.6" cy="623.2" r="0.33"/><circle cx="1011.4" cy="624.4" r="0.33"/><circle cx="1012.7" cy="624.2" r="0.33"/><circle cx="1013.5" cy="625.3" r="0.33"/><circle cx="1014.8" cy="625.1" r="0.33"/><circle cx="1000.8" cy="617.1" r="0.33"/><circle cx="1001.5" cy="618.3" r="0.33"/><circle cx="1002.9" cy="618.0" r="0.33"/><circle cx="1003.6" cy="619.2" r="0.33"/><circle cx="1005.0" cy="619.0" r="0.33"/><circle cx="1005.7" cy="620.2" r="0.33"/><circle cx="1007.1" cy="619.9" r="0.33"/><circle cx="1007.8" cy="621.1" r="0.33"/><circle cx="1009.2" cy="620.9" r="0.33"/><circle cx="1009.9" cy="622.1" r="0.33"/><circle cx="1011.3" cy="621.8" r="0.33"/><circle cx="1012.0" cy="623.0" r="0.33"/><circle cx="1013.4" cy="622.8" r="0.33"/><circle cx="1014.1" cy="624.0" r="0.33"/><circle cx="1015.5" cy="623.7" r="0.33"/><circle cx="1001.4" cy="615.7" r="0.33"/><circle cx="1002.2" cy="616.9" r="0.33"/><circle cx="1003.5" cy="616.7" r="0.33"/><circle cx="1004.2" cy="617.8" r="0.33"/><circle cx="1005.6" cy="617.6" r="0.33"/><circle cx="1006.3" cy="618.8" r="0.33"/><circle cx="1007.7" cy="618.6" r="0.33"/><circle cx="1008.4" cy="619.7" r="0.33"/><circle cx="1009.8" cy="619.5" r="0.33"/><circle cx="1010.5" cy="620.7" r="0.33"/><circle cx="1011.9" cy="620.5" r="0.33"/><circle cx="1012.6" cy="621.6" r="0.33"/><circle cx="1014.0" cy="621.4" r="0.33"/><circle cx="1014.7" cy="622.6" r="0.33"/><circle cx="1016.1" cy="622.4" r="0.33"/><circle cx="1002.0" cy="614.4" r="0.33"/><circle cx="1002.8" cy="615.5" r="0.33"/><circle cx="1004.1" cy="615.3" r="0.33"/><circle cx="1004.9" cy="616.5" r="0.33"/><circle cx="1006.2" cy="616.3" r="0.33"/><circle cx="1007.0" cy="617.4" r="0.33"/><circle cx="1008.3" cy="617.2" r="0.33"/><circle cx="1009.1" cy="618.4" r="0.33"/><circle cx="1010.4" cy="618.2" r="0.33"/><circle cx="1011.2" cy="619.3" r="0.33"/><circle cx="1012.5" cy="619.1" r="0.33"/><circle cx="1013.2" cy="620.3" r="0.33"/><circle cx="1014.6" cy="620.1" r="0.33"/><circle cx="1015.3" cy="621.2" r="0.33"/><circle cx="1016.7" cy="621.0" r="0.33"/><circle cx="1002.7" cy="613.0" r="0.33"/><circle cx="1003.4" cy="614.2" r="0.33"/><circle cx="1004.8" cy="613.9" r="0.33"/><circle cx="1005.5" cy="615.1" r="0.33"/><circle cx="1006.8" cy="614.9" r="0.33"/><circle cx="1007.6" cy="616.1" r="0.33"/><circle cx="1008.9" cy="615.8" r="0.33"/><circle cx="1009.7" cy="617.0" r="0.33"/><circle cx="1011.0" cy="616.8" r="0.33"/><circle cx="1011.8" cy="618.0" r="0.33"/><circle cx="1013.1" cy="617.7" r="0.33"/><circle cx="1013.9" cy="618.9" r="0.33"/><circle cx="1015.2" cy="618.7" r="0.33"/><circle cx="1016.0" cy="619.9" r="0.33"/><circle cx="1017.3" cy="619.6" r="0.33"/><circle cx="1003.3" cy="611.6" r="0.33"/><circle cx="1004.0" cy="612.8" r="0.33"/><circle cx="1005.4" cy="612.6" r="0.33"/><circle cx="1006.1" cy="613.7" r="0.33"/><circle cx="1007.5" cy="613.5" r="0.33"/><circle cx="1008.2" cy="614.7" r="0.33"/><circle cx="1009.6" cy="614.5" r="0.33"/><circle cx="1010.3" cy="615.6" r="0.33"/><circle cx="1011.7" cy="615.4" r="0.33"/><circle cx="1012.4" cy="616.6" r="0.33"/><circle cx="1013.7" cy="616.4" r="0.33"/><circle cx="1014.5" cy="617.5" r="0.33"/><circle cx="1015.8" cy="617.3" r="0.33"/><circle cx="1016.6" cy="618.5" r="0.33"/><circle cx="1017.9" cy="618.3" r="0.33"/><circle cx="1003.9" cy="610.3" r="0.33"/><circle cx="1004.6" cy="611.4" r="0.33"/><circle cx="1006.0" cy="611.2" r="0.33"/><circle cx="1006.7" cy="612.4" r="0.33"/><circle cx="1008.1" cy="612.2" r="0.33"/><circle cx="1008.8" cy="613.3" r="0.33"/><circle cx="1010.2" cy="613.1" r="0.33"/><circle cx="1010.9" cy="614.3" r="0.33"/><circle cx="1012.3" cy="614.1" r="0.33"/><circle cx="1013.0" cy="615.2" r="0.33"/><circle cx="1014.4" cy="615.0" r="0.33"/><circle cx="1015.1" cy="616.2" r="0.33"/><circle cx="1016.5" cy="616.0" r="0.33"/><circle cx="1017.2" cy="617.1" r="0.33"/><circle cx="1018.6" cy="616.9" r="0.33"/><circle cx="1004.5" cy="608.9" r="0.33"/><circle cx="1005.3" cy="610.1" r="0.33"/><circle cx="1006.6" cy="609.8" r="0.33"/><circle cx="1007.3" cy="611.0" r="0.33"/><circle cx="1008.7" cy="610.8" r="0.33"/><circle cx="1009.4" cy="612.0" r="0.33"/><circle cx="1010.8" cy="611.7" r="0.33"/><circle cx="1011.5" cy="612.9" r="0.33"/><circle cx="1012.9" cy="612.7" r="0.33"/><circle cx="1013.6" cy="613.9" r="0.33"/><circle cx="1015.0" cy="613.6" r="0.33"/><circle cx="1015.7" cy="614.8" r="0.33"/><circle cx="1017.1" cy="614.6" r="0.33"/><circle cx="1017.8" cy="615.8" r="0.33"/><circle cx="1019.2" cy="615.6" r="0.33"/><circle cx="1005.1" cy="607.5" r="0.33"/><circle cx="1005.9" cy="608.7" r="0.33"/><circle cx="1007.2" cy="608.5" r="0.33"/><circle cx="1008.0" cy="609.6" r="0.33"/><circle cx="1009.3" cy="609.4" r="0.33"/><circle cx="1010.1" cy="610.6" r="0.33"/><circle cx="1011.4" cy="610.4" r="0.33"/><circle cx="1012.2" cy="611.5" r="0.33"/><circle cx="1013.5" cy="611.3" r="0.33"/><circle cx="1014.3" cy="612.5" r="0.33"/><circle cx="1015.6" cy="612.3" r="0.33"/><circle cx="1016.3" cy="613.4" r="0.33"/><circle cx="1017.7" cy="613.2" r="0.33"/><circle cx="1018.4" cy="614.4" r="0.33"/><circle cx="1019.8" cy="614.2" r="0.33"/><circle cx="1005.8" cy="606.2" r="0.33"/><circle cx="1006.5" cy="607.3" r="0.33"/><circle cx="1007.8" cy="607.1" r="0.33"/><circle cx="1008.6" cy="608.3" r="0.33"/><circle cx="1009.9" cy="608.1" r="0.33"/><circle cx="1010.7" cy="609.2" r="0.33"/><circle cx="1012.0" cy="609.0" r="0.33"/><circle cx="1012.8" cy="610.2" r="0.33"/><circle cx="1014.1" cy="610.0" r="0.33"/><circle cx="1014.9" cy="611.1" r="0.33"/><circle cx="1016.2" cy="610.9" r="0.33"/><circle cx="1017.0" cy="612.1" r="0.33"/><circle cx="1018.3" cy="611.9" r="0.33"/><circle cx="1019.1" cy="613.0" r="0.33"/><circle cx="1020.4" cy="612.8" r="0.33"/><circle cx="1006.4" cy="604.8" r="0.33"/><circle cx="1007.1" cy="606.0" r="0.33"/><circle cx="1008.5" cy="605.8" r="0.33"/><circle cx="1009.2" cy="606.9" r="0.33"/><circle cx="1010.6" cy="606.7" r="0.33"/><circle cx="1011.3" cy="607.9" r="0.33"/><circle cx="1012.7" cy="607.7" r="0.33"/><circle cx="1013.4" cy="608.8" r="0.33"/><circle cx="1014.8" cy="608.6" r="0.33"/><circle cx="1015.5" cy="609.8" r="0.33"/><circle cx="1016.8" cy="609.6" r="0.33"/><circle cx="1017.6" cy="610.7" r="0.33"/><circle cx="1018.9" cy="610.5" r="0.33"/><circle cx="1019.7" cy="611.7" r="0.33"/><circle cx="1021.0" cy="611.5" r="0.33"/><circle cx="1007.0" cy="603.4" r="0.33"/><circle cx="1007.7" cy="604.6" r="0.33"/><circle cx="1009.1" cy="604.4" r="0.33"/><circle cx="1009.8" cy="605.5" r="0.33"/><circle cx="1011.2" cy="605.3" r="0.33"/><circle cx="1011.9" cy="606.5" r="0.33"/><circle cx="1013.3" cy="606.3" r="0.33"/><circle cx="1014.0" cy="607.4" r="0.33"/><circle cx="1015.4" cy="607.2" r="0.33"/><circle cx="1016.1" cy="608.4" r="0.33"/><circle cx="1017.5" cy="608.2" r="0.33"/><circle cx="1018.2" cy="609.3" r="0.33"/><circle cx="1019.6" cy="609.1" r="0.33"/><circle cx="1020.3" cy="610.3" r="0.33"/><circle cx="1021.7" cy="610.1" r="0.33"/><circle cx="1007.6" cy="602.1" r="0.33"/><circle cx="1008.4" cy="603.2" r="0.33"/><circle cx="1009.7" cy="603.0" r="0.33"/><circle cx="1010.4" cy="604.2" r="0.33"/><circle cx="1011.8" cy="604.0" r="0.33"/><circle cx="1012.5" cy="605.1" r="0.33"/><circle cx="1013.9" cy="604.9" r="0.33"/><circle cx="1014.6" cy="606.1" r="0.33"/><circle cx="1016.0" cy="605.9" r="0.33"/><circle cx="1016.7" cy="607.0" r="0.33"/><circle cx="1018.1" cy="606.8" r="0.33"/><circle cx="1018.8" cy="608.0" r="0.33"/><circle cx="1020.2" cy="607.8" r="0.33"/><circle cx="1020.9" cy="608.9" r="0.33"/><circle cx="1022.3" cy="608.7" r="0.33"/><circle cx="1008.2" cy="600.7" r="0.33"/><circle cx="1009.0" cy="601.9" r="0.33"/><circle cx="1010.3" cy="601.7" r="0.33"/><circle cx="1011.1" cy="602.8" r="0.33"/><circle cx="1012.4" cy="602.6" r="0.33"/><circle cx="1013.2" cy="603.8" r="0.33"/><circle cx="1014.5" cy="603.6" r="0.33"/><circle cx="1015.3" cy="604.7" r="0.33"/><circle cx="1016.6" cy="604.5" r="0.33"/><circle cx="1017.3" cy="605.7" r="0.33"/><circle cx="1018.7" cy="605.5" r="0.33"/><circle cx="1019.4" cy="606.6" r="0.33"/><circle cx="1020.8" cy="606.4" r="0.33"/><circle cx="1021.5" cy="607.6" r="0.33"/><circle cx="1022.9" cy="607.4" r="0.33"/><circle cx="1008.9" cy="599.3" r="0.33"/><circle cx="1009.6" cy="600.5" r="0.33"/><circle cx="1010.9" cy="600.3" r="0.33"/><circle cx="1011.7" cy="601.4" r="0.33"/><circle cx="1013.0" cy="601.2" r="0.33"/><circle cx="1013.8" cy="602.4" r="0.33"/><circle cx="1015.1" cy="602.2" r="0.33"/><circle cx="1015.9" cy="603.3" r="0.33"/><circle cx="1017.2" cy="603.1" r="0.33"/><circle cx="1018.0" cy="604.3" r="0.33"/><circle cx="1019.3" cy="604.1" r="0.33"/><circle cx="1020.1" cy="605.2" r="0.33"/><circle cx="1021.4" cy="605.0" r="0.33"/><circle cx="1022.2" cy="606.2" r="0.33"/><circle cx="1023.5" cy="606.0" r="0.33"/><circle cx="1009.5" cy="598.0" r="0.33"/><circle cx="1010.2" cy="599.1" r="0.33"/><circle cx="1011.6" cy="598.9" r="0.33"/><circle cx="1012.3" cy="600.1" r="0.33"/><circle cx="1013.7" cy="599.9" r="0.33"/><circle cx="1014.4" cy="601.0" r="0.33"/><circle cx="1015.8" cy="600.8" r="0.33"/><circle cx="1016.5" cy="602.0" r="0.33"/><circle cx="1017.9" cy="601.8" r="0.33"/><circle cx="1018.6" cy="602.9" r="0.33"/><circle cx="1019.9" cy="602.7" r="0.33"/><circle cx="1020.7" cy="603.9" r="0.33"/><circle cx="1022.0" cy="603.7" r="0.33"/><circle cx="1022.8" cy="604.8" r="0.33"/><circle cx="1024.1" cy="604.6" r="0.33"/><circle cx="1010.1" cy="596.6" r="0.33"/><circle cx="1010.8" cy="597.8" r="0.33"/><circle cx="1012.2" cy="597.6" r="0.33"/><circle cx="1012.9" cy="598.7" r="0.33"/><circle cx="1014.3" cy="598.5" r="0.33"/><circle cx="1015.0" cy="599.7" r="0.33"/><circle cx="1016.4" cy="599.5" r="0.33"/><circle cx="1017.1" cy="600.6" r="0.33"/><circle cx="1018.5" cy="600.4" r="0.33"/><circle cx="1019.2" cy="601.6" r="0.33"/><circle cx="1020.6" cy="601.4" r="0.33"/><circle cx="1021.3" cy="602.5" r="0.33"/><circle cx="1022.7" cy="602.3" r="0.33"/><circle cx="1023.4" cy="603.5" r="0.33"/><circle cx="1024.8" cy="603.3" r="0.33"/><circle cx="1010.7" cy="595.2" r="0.33"/><circle cx="1011.4" cy="596.4" r="0.33"/><circle cx="1012.8" cy="596.2" r="0.33"/><circle cx="1013.5" cy="597.3" r="0.33"/><circle cx="1014.9" cy="597.1" r="0.33"/><circle cx="1015.6" cy="598.3" r="0.33"/><circle cx="1017.0" cy="598.1" r="0.33"/><circle cx="1017.7" cy="599.2" r="0.33"/><circle cx="1019.1" cy="599.0" r="0.33"/><circle cx="1019.8" cy="600.2" r="0.33"/><circle cx="1021.2" cy="600.0" r="0.33"/><circle cx="1021.9" cy="601.1" r="0.33"/><circle cx="1023.3" cy="600.9" r="0.33"/><circle cx="1024.0" cy="602.1" r="0.33"/><circle cx="1025.4" cy="601.9" r="0.33"/><circle cx="1011.3" cy="593.9" r="0.33"/><circle cx="1012.1" cy="595.0" r="0.33"/><circle cx="1013.4" cy="594.8" r="0.33"/><circle cx="1014.2" cy="596.0" r="0.33"/><circle cx="1015.5" cy="595.8" r="0.33"/><circle cx="1016.3" cy="596.9" r="0.33"/><circle cx="1017.6" cy="596.7" r="0.33"/><circle cx="1018.4" cy="597.9" r="0.33"/><circle cx="1019.7" cy="597.7" r="0.33"/><circle cx="1020.4" cy="598.8" r="0.33"/><circle cx="1021.8" cy="598.6" r="0.33"/><circle cx="1022.5" cy="599.8" r="0.33"/><circle cx="1023.9" cy="599.6" r="0.33"/><circle cx="1024.6" cy="600.7" r="0.33"/><circle cx="1026.0" cy="600.5" r="0.33"/><circle cx="1012.0" cy="592.5" r="0.33"/><circle cx="1012.7" cy="593.7" r="0.33"/><circle cx="1014.0" cy="593.5" r="0.33"/><circle cx="1014.8" cy="594.6" r="0.33"/><circle cx="1016.1" cy="594.4" r="0.33"/><circle cx="1016.9" cy="595.6" r="0.33"/><circle cx="1018.2" cy="595.4" r="0.33"/><circle cx="1019.0" cy="596.5" r="0.33"/><circle cx="1020.3" cy="596.3" r="0.33"/><circle cx="1021.1" cy="597.5" r="0.33"/><circle cx="1022.4" cy="597.3" r="0.33"/><circle cx="1023.2" cy="598.4" r="0.33"/><circle cx="1024.5" cy="598.2" r="0.33"/><circle cx="1025.3" cy="599.4" r="0.33"/><circle cx="1026.6" cy="599.2" r="0.33"/><circle cx="1012.6" cy="591.1" r="0.33"/><circle cx="1013.3" cy="592.3" r="0.33"/><circle cx="1014.7" cy="592.1" r="0.33"/><circle cx="1015.4" cy="593.2" r="0.33"/><circle cx="1016.8" cy="593.0" r="0.33"/><circle cx="1017.5" cy="594.2" r="0.33"/><circle cx="1018.9" cy="594.0" r="0.33"/><circle cx="1019.6" cy="595.1" r="0.33"/><circle cx="1020.9" cy="594.9" r="0.33"/><circle cx="1021.7" cy="596.1" r="0.33"/><circle cx="1023.0" cy="595.9" r="0.33"/><circle cx="1023.8" cy="597.0" r="0.33"/><circle cx="1025.1" cy="596.8" r="0.33"/><circle cx="1025.9" cy="598.0" r="0.33"/><circle cx="1027.2" cy="597.8" r="0.33"/><circle cx="1013.2" cy="589.8" r="0.33"/><circle cx="1013.9" cy="590.9" r="0.33"/><circle cx="1015.3" cy="590.7" r="0.33"/><circle cx="1016.0" cy="591.9" r="0.33"/><circle cx="1017.4" cy="591.7" r="0.33"/><circle cx="1018.1" cy="592.8" r="0.33"/><circle cx="1019.5" cy="592.6" r="0.33"/><circle cx="1020.2" cy="593.8" r="0.33"/><circle cx="1021.6" cy="593.6" r="0.33"/><circle cx="1022.3" cy="594.7" r="0.33"/><circle cx="1023.7" cy="594.5" r="0.33"/><circle cx="1024.4" cy="595.7" r="0.33"/><circle cx="1025.8" cy="595.5" r="0.33"/><circle cx="1026.5" cy="596.6" r="0.33"/><circle cx="1027.9" cy="596.4" r="0.33"/><circle cx="1013.8" cy="588.4" r="0.33"/><circle cx="1014.5" cy="589.6" r="0.33"/><circle cx="1015.9" cy="589.4" r="0.33"/><circle cx="1016.6" cy="590.5" r="0.33"/><circle cx="1018.0" cy="590.3" r="0.33"/><circle cx="1018.7" cy="591.5" r="0.33"/><circle cx="1020.1" cy="591.3" r="0.33"/><circle cx="1020.8" cy="592.4" r="0.33"/><circle cx="1022.2" cy="592.2" r="0.33"/><circle cx="1022.9" cy="593.4" r="0.33"/><circle cx="1024.3" cy="593.2" r="0.33"/><circle cx="1025.0" cy="594.3" r="0.33"/><circle cx="1026.4" cy="594.1" r="0.33"/><circle cx="1027.1" cy="595.3" r="0.33"/><circle cx="1028.5" cy="595.1" r="0.33"/><circle cx="1014.4" cy="587.0" r="0.33"/><circle cx="1015.2" cy="588.2" r="0.33"/><circle cx="1016.5" cy="588.0" r="0.33"/><circle cx="1017.3" cy="589.2" r="0.33"/><circle cx="1018.6" cy="588.9" r="0.33"/><circle cx="1019.4" cy="590.1" r="0.33"/><circle cx="1020.7" cy="589.9" r="0.33"/><circle cx="1021.5" cy="591.1" r="0.33"/><circle cx="1022.8" cy="590.8" r="0.33"/><circle cx="1023.5" cy="592.0" r="0.33"/><circle cx="1024.9" cy="591.8" r="0.33"/><circle cx="1025.6" cy="593.0" r="0.33"/><circle cx="1027.0" cy="592.7" r="0.33"/><circle cx="1027.7" cy="593.9" r="0.33"/><circle cx="1029.1" cy="593.7" r="0.33"/></g>
<circle cx="968.0" cy="592.4" r="4" fill="#fefefd" stroke="#1a1a1a" stroke-width="1.3"/><circle cx="968.0" cy="592.4" r="1.9" fill="#fefefd" stroke="#1a1a1a" stroke-width="1"/>
<circle cx="951.8" cy="631.7" r="4" fill="#fefefd" stroke="#1a1a1a" stroke-width="1.3"/><circle cx="951.8" cy="631.7" r="1.9" fill="#fefefd" stroke="#1a1a1a" stroke-width="1"/>
</g>
<g id="labels">
<rect class="k" x="738.4" y="300.7" width="89.5" height="24.5" stroke-width="1.4"/>
<rect class="k" x="906.3" y="300.7" width="89.5" height="24.5" stroke-width="1.4"/>
<rect x="966.2" y="304.6" width="23.4" height="14.9" fill="#a9a9a9" stroke="#1a1a1a" stroke-width="1.1"/>
<text x="732" y="295" font-size="13.3" font-weight="bold" textLength="25.5" lengthAdjust="spacing">0dB</text>
<text x="803.2" y="295" font-size="13.3" font-weight="bold" textLength="30" lengthAdjust="spacing">-3dB</text>
<text x="894.2" y="295" font-size="13.3" font-weight="bold" textLength="36.8" lengthAdjust="spacing">2WAY</text>
<text x="971" y="295" font-size="13.3" font-weight="bold" textLength="36.8" lengthAdjust="spacing">3WAY</text>
<text x="765.6" y="362.8" font-size="23.3" textLength="36.6" lengthAdjust="spacing">TW</text>
<text x="879.6" y="362.8" font-size="23.3" textLength="141.4" lengthAdjust="spacing">2WAY/3WAY</text>
<text x="1564" y="691.2" font-size="27.7">E</text>
<rect x="60" y="461" width="29" height="7" fill="#1a1a1a"/>
<path d="M330.40000000000003,499.7 h31.8 v6.6 h-31.8 z M343.0,487.1 h6.6 v31.8 h-6.6 z" fill="#1a1a1a"/>
<rect x="689.5" y="570" width="28.5" height="7" fill="#1a1a1a"/>
<path d="M747.4,574.8000000000001 h31.8 v6.6 h-31.8 z M760.0,562.2 h6.6 v31.8 h-6.6 z" fill="#1a1a1a"/>
<path d="M913.6,549.5 h31.8 v6.6 h-31.8 z M926.2,536.9 h6.6 v31.8 h-6.6 z" fill="#1a1a1a"/>
<rect x="884.2" y="605.7" width="29.2" height="7" fill="#1a1a1a"/>
</g>

</svg>
</body></html>
